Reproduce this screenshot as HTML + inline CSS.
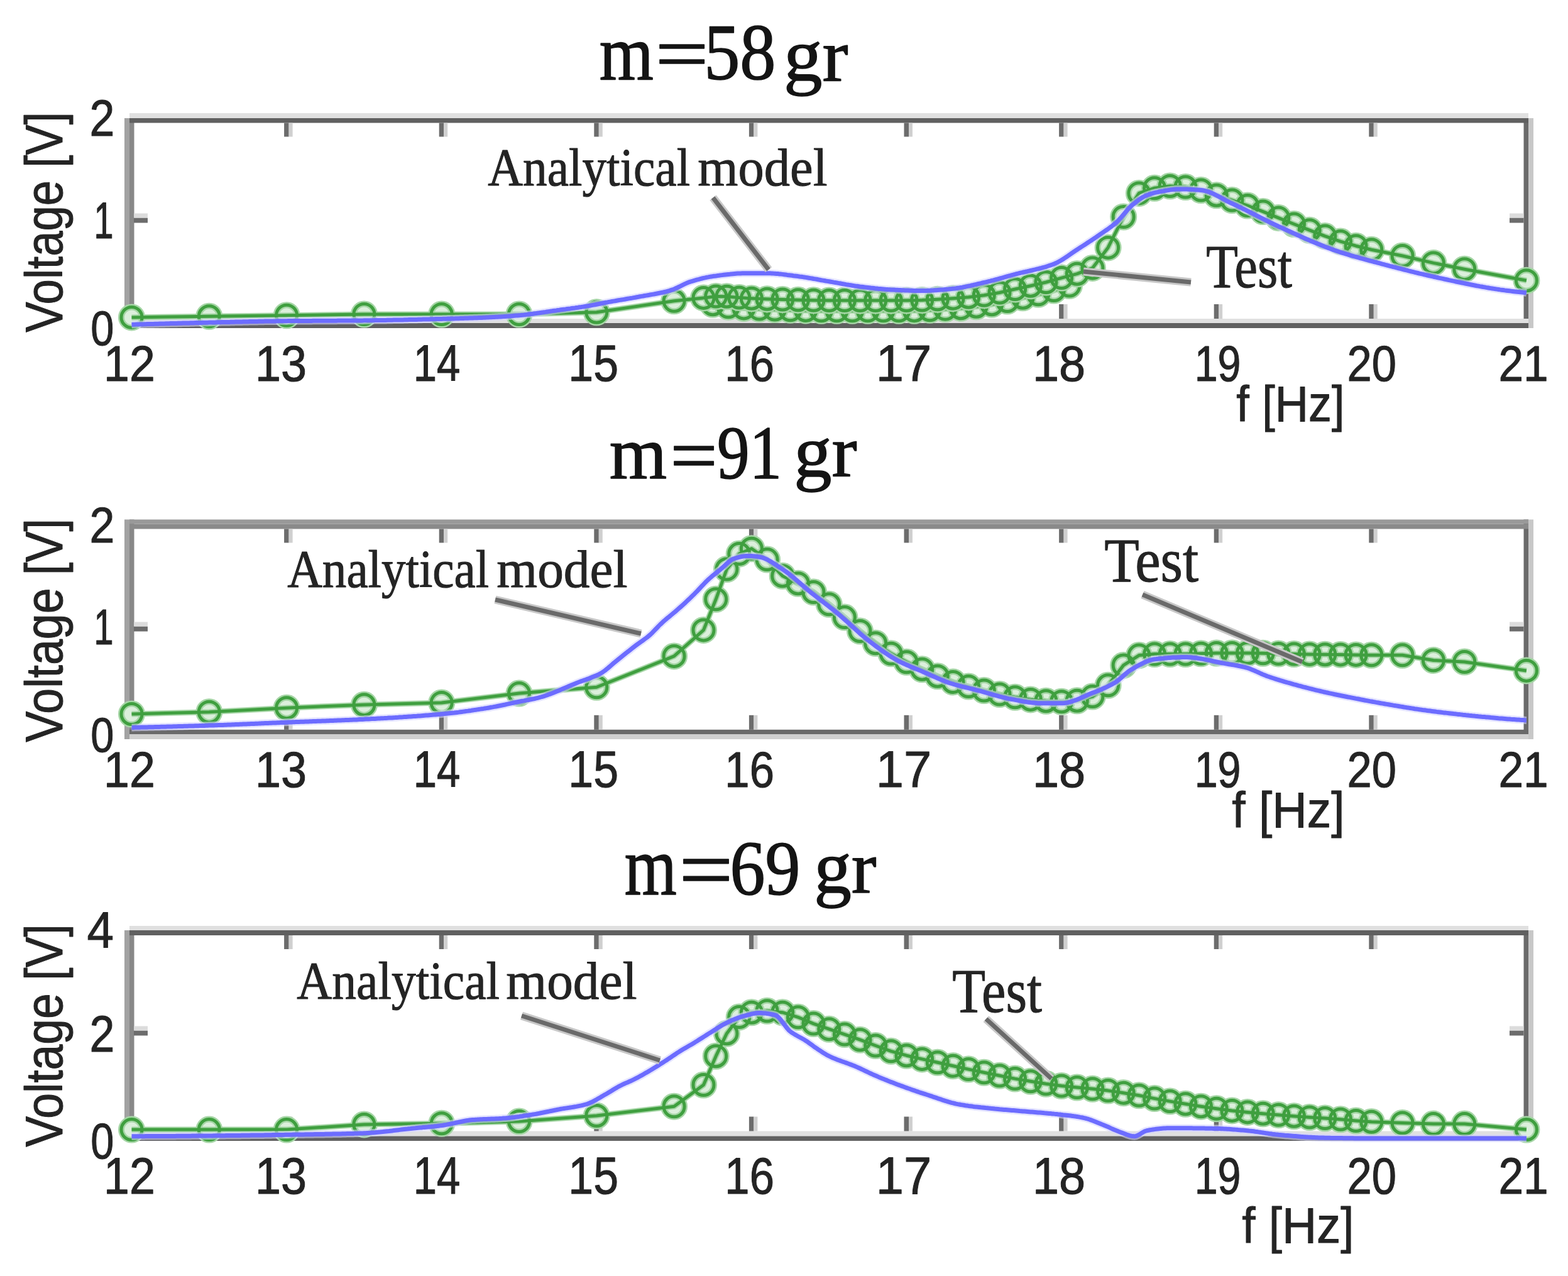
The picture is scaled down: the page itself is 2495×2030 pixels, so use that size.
<!DOCTYPE html>
<html><head><meta charset="utf-8"><title>Voltage vs frequency</title>
<style>html,body{margin:0;padding:0;background:#fff;} svg{display:block;}</style></head>
<body>
<svg width="2495" height="2030" viewBox="0 0 2495 2030">
<rect width="2495" height="2030" fill="#ffffff"/>
<rect x="198" y="188" width="8" height="334" fill="#a2a2a2"/>
<rect x="206" y="188" width="7.5" height="334" fill="#888888"/>
<rect x="2424.5" y="188" width="7.5" height="334" fill="#6a6a6a"/>
<rect x="2432" y="188" width="8" height="334" fill="#c8c8c8"/>
<rect x="206" y="180" width="2226" height="8" fill="#e0e0e0"/>
<rect x="206" y="188" width="2226" height="7.5" fill="#606060"/>
<rect x="206" y="507" width="2226" height="7" fill="#e0e0e0"/>
<rect x="206" y="514" width="2226" height="8" fill="#606060"/>
<rect x="452.1" y="195.5" width="7.5" height="22" fill="#6c6c6c"/>
<rect x="459.6" y="195.5" width="6" height="22" fill="#d0d0d0"/>
<rect x="452.1" y="484" width="7.5" height="23" fill="#6c6c6c"/>
<rect x="459.6" y="484" width="6" height="23" fill="#d0d0d0"/>
<rect x="698.7" y="195.5" width="7.5" height="22" fill="#6c6c6c"/>
<rect x="706.2" y="195.5" width="6" height="22" fill="#d0d0d0"/>
<rect x="698.7" y="484" width="7.5" height="23" fill="#6c6c6c"/>
<rect x="706.2" y="484" width="6" height="23" fill="#d0d0d0"/>
<rect x="945.3" y="195.5" width="7.5" height="22" fill="#6c6c6c"/>
<rect x="952.8" y="195.5" width="6" height="22" fill="#d0d0d0"/>
<rect x="945.3" y="484" width="7.5" height="23" fill="#6c6c6c"/>
<rect x="952.8" y="484" width="6" height="23" fill="#d0d0d0"/>
<rect x="1191.9" y="195.5" width="7.5" height="22" fill="#6c6c6c"/>
<rect x="1199.4" y="195.5" width="6" height="22" fill="#d0d0d0"/>
<rect x="1191.9" y="484" width="7.5" height="23" fill="#6c6c6c"/>
<rect x="1199.4" y="484" width="6" height="23" fill="#d0d0d0"/>
<rect x="1438.5" y="195.5" width="7.5" height="22" fill="#6c6c6c"/>
<rect x="1446.0" y="195.5" width="6" height="22" fill="#d0d0d0"/>
<rect x="1438.5" y="484" width="7.5" height="23" fill="#6c6c6c"/>
<rect x="1446.0" y="484" width="6" height="23" fill="#d0d0d0"/>
<rect x="1685.1" y="195.5" width="7.5" height="22" fill="#6c6c6c"/>
<rect x="1692.6" y="195.5" width="6" height="22" fill="#d0d0d0"/>
<rect x="1685.1" y="484" width="7.5" height="23" fill="#6c6c6c"/>
<rect x="1692.6" y="484" width="6" height="23" fill="#d0d0d0"/>
<rect x="1931.7" y="195.5" width="7.5" height="22" fill="#6c6c6c"/>
<rect x="1939.2" y="195.5" width="6" height="22" fill="#d0d0d0"/>
<rect x="1931.7" y="484" width="7.5" height="23" fill="#6c6c6c"/>
<rect x="1939.2" y="484" width="6" height="23" fill="#d0d0d0"/>
<rect x="2178.3" y="195.5" width="7.5" height="22" fill="#6c6c6c"/>
<rect x="2185.8" y="195.5" width="6" height="22" fill="#d0d0d0"/>
<rect x="2178.3" y="484" width="7.5" height="23" fill="#6c6c6c"/>
<rect x="2185.8" y="484" width="6" height="23" fill="#d0d0d0"/>
<rect x="213" y="346.5" width="22" height="8" fill="#6c6c6c"/>
<rect x="213" y="339.5" width="22" height="7" fill="#dcdcdc"/>
<rect x="2402" y="346.5" width="22.5" height="8" fill="#6c6c6c"/>
<rect x="2402" y="339.5" width="22.5" height="7" fill="#dcdcdc"/>
<rect x="198" y="826.5" width="8" height="349.5" fill="#a2a2a2"/>
<rect x="206" y="826.5" width="7.5" height="349.5" fill="#888888"/>
<rect x="2424.5" y="826.5" width="7.5" height="349.5" fill="#6a6a6a"/>
<rect x="2432" y="826.5" width="8" height="349.5" fill="#c8c8c8"/>
<rect x="206" y="826.5" width="2226" height="7.0" fill="#999999"/>
<rect x="206" y="833.5" width="2226" height="8.0" fill="#8a8a8a"/>
<rect x="206" y="1160.8" width="2226" height="7.2000000000000455" fill="#6a6a6a"/>
<rect x="206" y="1168" width="2226" height="8" fill="#d0d0d0"/>
<rect x="452.1" y="841.5" width="7.5" height="22" fill="#6c6c6c"/>
<rect x="459.6" y="841.5" width="6" height="22" fill="#d0d0d0"/>
<rect x="452.1" y="1137.8" width="7.5" height="23" fill="#6c6c6c"/>
<rect x="459.6" y="1137.8" width="6" height="23" fill="#d0d0d0"/>
<rect x="698.7" y="841.5" width="7.5" height="22" fill="#6c6c6c"/>
<rect x="706.2" y="841.5" width="6" height="22" fill="#d0d0d0"/>
<rect x="698.7" y="1137.8" width="7.5" height="23" fill="#6c6c6c"/>
<rect x="706.2" y="1137.8" width="6" height="23" fill="#d0d0d0"/>
<rect x="945.3" y="841.5" width="7.5" height="22" fill="#6c6c6c"/>
<rect x="952.8" y="841.5" width="6" height="22" fill="#d0d0d0"/>
<rect x="945.3" y="1137.8" width="7.5" height="23" fill="#6c6c6c"/>
<rect x="952.8" y="1137.8" width="6" height="23" fill="#d0d0d0"/>
<rect x="1191.9" y="841.5" width="7.5" height="22" fill="#6c6c6c"/>
<rect x="1199.4" y="841.5" width="6" height="22" fill="#d0d0d0"/>
<rect x="1191.9" y="1137.8" width="7.5" height="23" fill="#6c6c6c"/>
<rect x="1199.4" y="1137.8" width="6" height="23" fill="#d0d0d0"/>
<rect x="1438.5" y="841.5" width="7.5" height="22" fill="#6c6c6c"/>
<rect x="1446.0" y="841.5" width="6" height="22" fill="#d0d0d0"/>
<rect x="1438.5" y="1137.8" width="7.5" height="23" fill="#6c6c6c"/>
<rect x="1446.0" y="1137.8" width="6" height="23" fill="#d0d0d0"/>
<rect x="1685.1" y="841.5" width="7.5" height="22" fill="#6c6c6c"/>
<rect x="1692.6" y="841.5" width="6" height="22" fill="#d0d0d0"/>
<rect x="1685.1" y="1137.8" width="7.5" height="23" fill="#6c6c6c"/>
<rect x="1692.6" y="1137.8" width="6" height="23" fill="#d0d0d0"/>
<rect x="1931.7" y="841.5" width="7.5" height="22" fill="#6c6c6c"/>
<rect x="1939.2" y="841.5" width="6" height="22" fill="#d0d0d0"/>
<rect x="1931.7" y="1137.8" width="7.5" height="23" fill="#6c6c6c"/>
<rect x="1939.2" y="1137.8" width="6" height="23" fill="#d0d0d0"/>
<rect x="2178.3" y="841.5" width="7.5" height="22" fill="#6c6c6c"/>
<rect x="2185.8" y="841.5" width="6" height="22" fill="#d0d0d0"/>
<rect x="2178.3" y="1137.8" width="7.5" height="23" fill="#6c6c6c"/>
<rect x="2185.8" y="1137.8" width="6" height="23" fill="#d0d0d0"/>
<rect x="213" y="996.5" width="22" height="8" fill="#6c6c6c"/>
<rect x="213" y="989.5" width="22" height="7" fill="#dcdcdc"/>
<rect x="2402" y="996.5" width="22.5" height="8" fill="#6c6c6c"/>
<rect x="2402" y="989.5" width="22.5" height="7" fill="#dcdcdc"/>
<rect x="198" y="1480" width="8" height="335" fill="#a2a2a2"/>
<rect x="206" y="1480" width="7.5" height="335" fill="#888888"/>
<rect x="2424.5" y="1480" width="7.5" height="335" fill="#6a6a6a"/>
<rect x="2432" y="1480" width="8" height="335" fill="#c8c8c8"/>
<rect x="206" y="1473" width="2226" height="7" fill="#e0e0e0"/>
<rect x="206" y="1480" width="2226" height="8" fill="#606060"/>
<rect x="206" y="1799.5" width="2226" height="8.0" fill="#e0e0e0"/>
<rect x="206" y="1807.5" width="2226" height="7.5" fill="#606060"/>
<rect x="452.1" y="1488" width="7.5" height="22" fill="#6c6c6c"/>
<rect x="459.6" y="1488" width="6" height="22" fill="#d0d0d0"/>
<rect x="452.1" y="1776.5" width="7.5" height="23" fill="#6c6c6c"/>
<rect x="459.6" y="1776.5" width="6" height="23" fill="#d0d0d0"/>
<rect x="698.7" y="1488" width="7.5" height="22" fill="#6c6c6c"/>
<rect x="706.2" y="1488" width="6" height="22" fill="#d0d0d0"/>
<rect x="698.7" y="1776.5" width="7.5" height="23" fill="#6c6c6c"/>
<rect x="706.2" y="1776.5" width="6" height="23" fill="#d0d0d0"/>
<rect x="945.3" y="1488" width="7.5" height="22" fill="#6c6c6c"/>
<rect x="952.8" y="1488" width="6" height="22" fill="#d0d0d0"/>
<rect x="945.3" y="1776.5" width="7.5" height="23" fill="#6c6c6c"/>
<rect x="952.8" y="1776.5" width="6" height="23" fill="#d0d0d0"/>
<rect x="1191.9" y="1488" width="7.5" height="22" fill="#6c6c6c"/>
<rect x="1199.4" y="1488" width="6" height="22" fill="#d0d0d0"/>
<rect x="1191.9" y="1776.5" width="7.5" height="23" fill="#6c6c6c"/>
<rect x="1199.4" y="1776.5" width="6" height="23" fill="#d0d0d0"/>
<rect x="1438.5" y="1488" width="7.5" height="22" fill="#6c6c6c"/>
<rect x="1446.0" y="1488" width="6" height="22" fill="#d0d0d0"/>
<rect x="1438.5" y="1776.5" width="7.5" height="23" fill="#6c6c6c"/>
<rect x="1446.0" y="1776.5" width="6" height="23" fill="#d0d0d0"/>
<rect x="1685.1" y="1488" width="7.5" height="22" fill="#6c6c6c"/>
<rect x="1692.6" y="1488" width="6" height="22" fill="#d0d0d0"/>
<rect x="1685.1" y="1776.5" width="7.5" height="23" fill="#6c6c6c"/>
<rect x="1692.6" y="1776.5" width="6" height="23" fill="#d0d0d0"/>
<rect x="1931.7" y="1488" width="7.5" height="22" fill="#6c6c6c"/>
<rect x="1939.2" y="1488" width="6" height="22" fill="#d0d0d0"/>
<rect x="1931.7" y="1776.5" width="7.5" height="23" fill="#6c6c6c"/>
<rect x="1939.2" y="1776.5" width="6" height="23" fill="#d0d0d0"/>
<rect x="2178.3" y="1488" width="7.5" height="22" fill="#6c6c6c"/>
<rect x="2185.8" y="1488" width="6" height="22" fill="#d0d0d0"/>
<rect x="2178.3" y="1776.5" width="7.5" height="23" fill="#6c6c6c"/>
<rect x="2185.8" y="1776.5" width="6" height="23" fill="#d0d0d0"/>
<rect x="213" y="1639.5" width="22" height="8" fill="#6c6c6c"/>
<rect x="213" y="1632.5" width="22" height="7" fill="#dcdcdc"/>
<rect x="2402" y="1639.5" width="22.5" height="8" fill="#6c6c6c"/>
<rect x="2402" y="1632.5" width="22.5" height="7" fill="#dcdcdc"/>
<g fill="#dcefdc" stroke="none"><circle cx="1134.2" cy="484.2" r="16.5"/><circle cx="1158.9" cy="488.3" r="16.5"/><circle cx="1183.6" cy="490.4" r="16.5"/><circle cx="1208.2" cy="491.5" r="16.5"/><circle cx="1232.9" cy="492.5" r="16.5"/><circle cx="1257.5" cy="493.3" r="16.5"/><circle cx="1282.2" cy="493.9" r="16.5"/><circle cx="1306.9" cy="494.3" r="16.5"/><circle cx="1331.5" cy="494.3" r="16.5"/><circle cx="1356.2" cy="494.3" r="16.5"/><circle cx="1380.8" cy="494.3" r="16.5"/><circle cx="1405.5" cy="494.3" r="16.5"/><circle cx="1430.2" cy="494.3" r="16.5"/><circle cx="1454.8" cy="494.2" r="16.5"/><circle cx="1479.5" cy="493.3" r="16.5"/><circle cx="1504.1" cy="491.8" r="16.5"/><circle cx="1528.8" cy="490.2" r="16.5"/><circle cx="1553.5" cy="487.7" r="16.5"/><circle cx="1578.1" cy="484.2" r="16.5"/><circle cx="1602.8" cy="479.1" r="16.5"/><circle cx="1627.5" cy="473.7" r="16.5"/><circle cx="1652.1" cy="468.3" r="16.5"/><circle cx="1676.8" cy="462.1" r="16.5"/><circle cx="1701.4" cy="454.5" r="16.5"/></g>
<path d="M1134.2,484.2 L1158.9,488.3 L1183.6,490.4 L1208.2,491.5 L1232.9,492.5 L1257.5,493.3 L1282.2,493.9 L1306.9,494.3 L1331.5,494.3 L1356.2,494.3 L1380.8,494.3 L1405.5,494.3 L1430.2,494.3 L1454.8,494.2 L1479.5,493.3 L1504.1,491.8 L1528.8,490.2 L1553.5,487.7 L1578.1,484.2 L1602.8,479.1 L1627.5,473.7 L1652.1,468.3 L1676.8,462.1 L1701.4,454.5" fill="none" stroke="#a6d6a6" stroke-width="9" stroke-linejoin="round"/>
<g fill="none" stroke="#a6d6a6" stroke-width="10"><circle cx="1134.2" cy="484.2" r="16.5"/><circle cx="1158.9" cy="488.3" r="16.5"/><circle cx="1183.6" cy="490.4" r="16.5"/><circle cx="1208.2" cy="491.5" r="16.5"/><circle cx="1232.9" cy="492.5" r="16.5"/><circle cx="1257.5" cy="493.3" r="16.5"/><circle cx="1282.2" cy="493.9" r="16.5"/><circle cx="1306.9" cy="494.3" r="16.5"/><circle cx="1331.5" cy="494.3" r="16.5"/><circle cx="1356.2" cy="494.3" r="16.5"/><circle cx="1380.8" cy="494.3" r="16.5"/><circle cx="1405.5" cy="494.3" r="16.5"/><circle cx="1430.2" cy="494.3" r="16.5"/><circle cx="1454.8" cy="494.2" r="16.5"/><circle cx="1479.5" cy="493.3" r="16.5"/><circle cx="1504.1" cy="491.8" r="16.5"/><circle cx="1528.8" cy="490.2" r="16.5"/><circle cx="1553.5" cy="487.7" r="16.5"/><circle cx="1578.1" cy="484.2" r="16.5"/><circle cx="1602.8" cy="479.1" r="16.5"/><circle cx="1627.5" cy="473.7" r="16.5"/><circle cx="1652.1" cy="468.3" r="16.5"/><circle cx="1676.8" cy="462.1" r="16.5"/><circle cx="1701.4" cy="454.5" r="16.5"/></g>
<path d="M1134.2,484.2 L1158.9,488.3 L1183.6,490.4 L1208.2,491.5 L1232.9,492.5 L1257.5,493.3 L1282.2,493.9 L1306.9,494.3 L1331.5,494.3 L1356.2,494.3 L1380.8,494.3 L1405.5,494.3 L1430.2,494.3 L1454.8,494.2 L1479.5,493.3 L1504.1,491.8 L1528.8,490.2 L1553.5,487.7 L1578.1,484.2 L1602.8,479.1 L1627.5,473.7 L1652.1,468.3 L1676.8,462.1 L1701.4,454.5" fill="none" stroke="#3f9f3f" stroke-width="5" stroke-linejoin="round"/>
<g fill="none" stroke="#3f9f3f" stroke-width="5"><circle cx="1134.2" cy="484.2" r="16.5"/><circle cx="1158.9" cy="488.3" r="16.5"/><circle cx="1183.6" cy="490.4" r="16.5"/><circle cx="1208.2" cy="491.5" r="16.5"/><circle cx="1232.9" cy="492.5" r="16.5"/><circle cx="1257.5" cy="493.3" r="16.5"/><circle cx="1282.2" cy="493.9" r="16.5"/><circle cx="1306.9" cy="494.3" r="16.5"/><circle cx="1331.5" cy="494.3" r="16.5"/><circle cx="1356.2" cy="494.3" r="16.5"/><circle cx="1380.8" cy="494.3" r="16.5"/><circle cx="1405.5" cy="494.3" r="16.5"/><circle cx="1430.2" cy="494.3" r="16.5"/><circle cx="1454.8" cy="494.2" r="16.5"/><circle cx="1479.5" cy="493.3" r="16.5"/><circle cx="1504.1" cy="491.8" r="16.5"/><circle cx="1528.8" cy="490.2" r="16.5"/><circle cx="1553.5" cy="487.7" r="16.5"/><circle cx="1578.1" cy="484.2" r="16.5"/><circle cx="1602.8" cy="479.1" r="16.5"/><circle cx="1627.5" cy="473.7" r="16.5"/><circle cx="1652.1" cy="468.3" r="16.5"/><circle cx="1676.8" cy="462.1" r="16.5"/><circle cx="1701.4" cy="454.5" r="16.5"/></g>
<g fill="#dcefdc" stroke="none"><circle cx="209.5" cy="504.9" r="16.5"/><circle cx="332.8" cy="503.3" r="16.5"/><circle cx="456.1" cy="501.7" r="16.5"/><circle cx="579.4" cy="500.0" r="16.5"/><circle cx="702.7" cy="500.0" r="16.5"/><circle cx="826.0" cy="500.0" r="16.5"/><circle cx="949.3" cy="496.8" r="16.5"/><circle cx="1072.6" cy="478.8" r="16.5"/><circle cx="1119.5" cy="473.9" r="16.5"/><circle cx="1139.2" cy="471.5" r="16.5"/><circle cx="1156.4" cy="471.7" r="16.5"/><circle cx="1176.2" cy="473.5" r="16.5"/><circle cx="1195.9" cy="474.7" r="16.5"/><circle cx="1220.6" cy="475.7" r="16.5"/><circle cx="1245.2" cy="476.6" r="16.5"/><circle cx="1269.9" cy="477.3" r="16.5"/><circle cx="1294.5" cy="477.8" r="16.5"/><circle cx="1319.2" cy="478.0" r="16.5"/><circle cx="1343.9" cy="478.0" r="16.5"/><circle cx="1368.5" cy="478.0" r="16.5"/><circle cx="1393.2" cy="478.0" r="16.5"/><circle cx="1417.8" cy="478.0" r="16.5"/><circle cx="1442.5" cy="478.0" r="16.5"/><circle cx="1467.2" cy="477.5" r="16.5"/><circle cx="1491.8" cy="476.3" r="16.5"/><circle cx="1516.5" cy="474.7" r="16.5"/><circle cx="1541.1" cy="472.7" r="16.5"/><circle cx="1565.8" cy="469.8" r="16.5"/><circle cx="1590.5" cy="465.5" r="16.5"/><circle cx="1615.1" cy="460.0" r="16.5"/><circle cx="1639.8" cy="454.7" r="16.5"/><circle cx="1664.4" cy="449.0" r="16.5"/><circle cx="1689.1" cy="442.1" r="16.5"/><circle cx="1713.8" cy="435.7" r="16.5"/><circle cx="1738.4" cy="426.4" r="16.5"/><circle cx="1763.1" cy="393.9" r="16.5"/><circle cx="1787.7" cy="345.0" r="16.5"/><circle cx="1812.4" cy="307.4" r="16.5"/><circle cx="1837.1" cy="299.2" r="16.5"/><circle cx="1861.7" cy="296.0" r="16.5"/><circle cx="1886.4" cy="297.6" r="16.5"/><circle cx="1911.0" cy="302.5" r="16.5"/><circle cx="1935.7" cy="310.7" r="16.5"/><circle cx="1960.4" cy="318.6" r="16.5"/><circle cx="1985.0" cy="327.0" r="16.5"/><circle cx="2009.7" cy="336.6" r="16.5"/><circle cx="2034.3" cy="346.6" r="16.5"/><circle cx="2059.0" cy="356.5" r="16.5"/><circle cx="2083.7" cy="366.2" r="16.5"/><circle cx="2108.3" cy="375.6" r="16.5"/><circle cx="2133.0" cy="384.1" r="16.5"/><circle cx="2157.6" cy="391.2" r="16.5"/><circle cx="2182.3" cy="397.2" r="16.5"/><circle cx="2231.6" cy="407.0" r="16.5"/><circle cx="2280.9" cy="418.4" r="16.5"/><circle cx="2330.3" cy="428.2" r="16.5"/><circle cx="2428.9" cy="446.2" r="16.5"/></g>
<path d="M209.5,504.9 L332.8,503.3 L456.1,501.7 L579.4,500.0 L702.7,500.0 L826.0,500.0 L949.3,496.8 L1072.6,478.8 L1119.5,473.9 L1139.2,471.5 L1156.4,471.7 L1176.2,473.5 L1195.9,474.7 L1220.6,475.7 L1245.2,476.6 L1269.9,477.3 L1294.5,477.8 L1319.2,478.0 L1343.9,478.0 L1368.5,478.0 L1393.2,478.0 L1417.8,478.0 L1442.5,478.0 L1467.2,477.5 L1491.8,476.3 L1516.5,474.7 L1541.1,472.7 L1565.8,469.8 L1590.5,465.5 L1615.1,460.0 L1639.8,454.7 L1664.4,449.0 L1689.1,442.1 L1713.8,435.7 L1738.4,426.4 L1763.1,393.9 L1787.7,345.0 L1812.4,307.4 L1837.1,299.2 L1861.7,296.0 L1886.4,297.6 L1911.0,302.5 L1935.7,310.7 L1960.4,318.6 L1985.0,327.0 L2009.7,336.6 L2034.3,346.6 L2059.0,356.5 L2083.7,366.2 L2108.3,375.6 L2133.0,384.1 L2157.6,391.2 L2182.3,397.2 L2231.6,407.0 L2280.9,418.4 L2330.3,428.2 L2428.9,446.2" fill="none" stroke="#a6d6a6" stroke-width="9" stroke-linejoin="round"/>
<g fill="none" stroke="#a6d6a6" stroke-width="10"><circle cx="209.5" cy="504.9" r="16.5"/><circle cx="332.8" cy="503.3" r="16.5"/><circle cx="456.1" cy="501.7" r="16.5"/><circle cx="579.4" cy="500.0" r="16.5"/><circle cx="702.7" cy="500.0" r="16.5"/><circle cx="826.0" cy="500.0" r="16.5"/><circle cx="949.3" cy="496.8" r="16.5"/><circle cx="1072.6" cy="478.8" r="16.5"/><circle cx="1119.5" cy="473.9" r="16.5"/><circle cx="1139.2" cy="471.5" r="16.5"/><circle cx="1156.4" cy="471.7" r="16.5"/><circle cx="1176.2" cy="473.5" r="16.5"/><circle cx="1195.9" cy="474.7" r="16.5"/><circle cx="1220.6" cy="475.7" r="16.5"/><circle cx="1245.2" cy="476.6" r="16.5"/><circle cx="1269.9" cy="477.3" r="16.5"/><circle cx="1294.5" cy="477.8" r="16.5"/><circle cx="1319.2" cy="478.0" r="16.5"/><circle cx="1343.9" cy="478.0" r="16.5"/><circle cx="1368.5" cy="478.0" r="16.5"/><circle cx="1393.2" cy="478.0" r="16.5"/><circle cx="1417.8" cy="478.0" r="16.5"/><circle cx="1442.5" cy="478.0" r="16.5"/><circle cx="1467.2" cy="477.5" r="16.5"/><circle cx="1491.8" cy="476.3" r="16.5"/><circle cx="1516.5" cy="474.7" r="16.5"/><circle cx="1541.1" cy="472.7" r="16.5"/><circle cx="1565.8" cy="469.8" r="16.5"/><circle cx="1590.5" cy="465.5" r="16.5"/><circle cx="1615.1" cy="460.0" r="16.5"/><circle cx="1639.8" cy="454.7" r="16.5"/><circle cx="1664.4" cy="449.0" r="16.5"/><circle cx="1689.1" cy="442.1" r="16.5"/><circle cx="1713.8" cy="435.7" r="16.5"/><circle cx="1738.4" cy="426.4" r="16.5"/><circle cx="1763.1" cy="393.9" r="16.5"/><circle cx="1787.7" cy="345.0" r="16.5"/><circle cx="1812.4" cy="307.4" r="16.5"/><circle cx="1837.1" cy="299.2" r="16.5"/><circle cx="1861.7" cy="296.0" r="16.5"/><circle cx="1886.4" cy="297.6" r="16.5"/><circle cx="1911.0" cy="302.5" r="16.5"/><circle cx="1935.7" cy="310.7" r="16.5"/><circle cx="1960.4" cy="318.6" r="16.5"/><circle cx="1985.0" cy="327.0" r="16.5"/><circle cx="2009.7" cy="336.6" r="16.5"/><circle cx="2034.3" cy="346.6" r="16.5"/><circle cx="2059.0" cy="356.5" r="16.5"/><circle cx="2083.7" cy="366.2" r="16.5"/><circle cx="2108.3" cy="375.6" r="16.5"/><circle cx="2133.0" cy="384.1" r="16.5"/><circle cx="2157.6" cy="391.2" r="16.5"/><circle cx="2182.3" cy="397.2" r="16.5"/><circle cx="2231.6" cy="407.0" r="16.5"/><circle cx="2280.9" cy="418.4" r="16.5"/><circle cx="2330.3" cy="428.2" r="16.5"/><circle cx="2428.9" cy="446.2" r="16.5"/></g>
<path d="M209.5,504.9 L332.8,503.3 L456.1,501.7 L579.4,500.0 L702.7,500.0 L826.0,500.0 L949.3,496.8 L1072.6,478.8 L1119.5,473.9 L1139.2,471.5 L1156.4,471.7 L1176.2,473.5 L1195.9,474.7 L1220.6,475.7 L1245.2,476.6 L1269.9,477.3 L1294.5,477.8 L1319.2,478.0 L1343.9,478.0 L1368.5,478.0 L1393.2,478.0 L1417.8,478.0 L1442.5,478.0 L1467.2,477.5 L1491.8,476.3 L1516.5,474.7 L1541.1,472.7 L1565.8,469.8 L1590.5,465.5 L1615.1,460.0 L1639.8,454.7 L1664.4,449.0 L1689.1,442.1 L1713.8,435.7 L1738.4,426.4 L1763.1,393.9 L1787.7,345.0 L1812.4,307.4 L1837.1,299.2 L1861.7,296.0 L1886.4,297.6 L1911.0,302.5 L1935.7,310.7 L1960.4,318.6 L1985.0,327.0 L2009.7,336.6 L2034.3,346.6 L2059.0,356.5 L2083.7,366.2 L2108.3,375.6 L2133.0,384.1 L2157.6,391.2 L2182.3,397.2 L2231.6,407.0 L2280.9,418.4 L2330.3,428.2 L2428.9,446.2" fill="none" stroke="#3f9f3f" stroke-width="5" stroke-linejoin="round"/>
<g fill="none" stroke="#3f9f3f" stroke-width="5"><circle cx="209.5" cy="504.9" r="16.5"/><circle cx="332.8" cy="503.3" r="16.5"/><circle cx="456.1" cy="501.7" r="16.5"/><circle cx="579.4" cy="500.0" r="16.5"/><circle cx="702.7" cy="500.0" r="16.5"/><circle cx="826.0" cy="500.0" r="16.5"/><circle cx="949.3" cy="496.8" r="16.5"/><circle cx="1072.6" cy="478.8" r="16.5"/><circle cx="1119.5" cy="473.9" r="16.5"/><circle cx="1139.2" cy="471.5" r="16.5"/><circle cx="1156.4" cy="471.7" r="16.5"/><circle cx="1176.2" cy="473.5" r="16.5"/><circle cx="1195.9" cy="474.7" r="16.5"/><circle cx="1220.6" cy="475.7" r="16.5"/><circle cx="1245.2" cy="476.6" r="16.5"/><circle cx="1269.9" cy="477.3" r="16.5"/><circle cx="1294.5" cy="477.8" r="16.5"/><circle cx="1319.2" cy="478.0" r="16.5"/><circle cx="1343.9" cy="478.0" r="16.5"/><circle cx="1368.5" cy="478.0" r="16.5"/><circle cx="1393.2" cy="478.0" r="16.5"/><circle cx="1417.8" cy="478.0" r="16.5"/><circle cx="1442.5" cy="478.0" r="16.5"/><circle cx="1467.2" cy="477.5" r="16.5"/><circle cx="1491.8" cy="476.3" r="16.5"/><circle cx="1516.5" cy="474.7" r="16.5"/><circle cx="1541.1" cy="472.7" r="16.5"/><circle cx="1565.8" cy="469.8" r="16.5"/><circle cx="1590.5" cy="465.5" r="16.5"/><circle cx="1615.1" cy="460.0" r="16.5"/><circle cx="1639.8" cy="454.7" r="16.5"/><circle cx="1664.4" cy="449.0" r="16.5"/><circle cx="1689.1" cy="442.1" r="16.5"/><circle cx="1713.8" cy="435.7" r="16.5"/><circle cx="1738.4" cy="426.4" r="16.5"/><circle cx="1763.1" cy="393.9" r="16.5"/><circle cx="1787.7" cy="345.0" r="16.5"/><circle cx="1812.4" cy="307.4" r="16.5"/><circle cx="1837.1" cy="299.2" r="16.5"/><circle cx="1861.7" cy="296.0" r="16.5"/><circle cx="1886.4" cy="297.6" r="16.5"/><circle cx="1911.0" cy="302.5" r="16.5"/><circle cx="1935.7" cy="310.7" r="16.5"/><circle cx="1960.4" cy="318.6" r="16.5"/><circle cx="1985.0" cy="327.0" r="16.5"/><circle cx="2009.7" cy="336.6" r="16.5"/><circle cx="2034.3" cy="346.6" r="16.5"/><circle cx="2059.0" cy="356.5" r="16.5"/><circle cx="2083.7" cy="366.2" r="16.5"/><circle cx="2108.3" cy="375.6" r="16.5"/><circle cx="2133.0" cy="384.1" r="16.5"/><circle cx="2157.6" cy="391.2" r="16.5"/><circle cx="2182.3" cy="397.2" r="16.5"/><circle cx="2231.6" cy="407.0" r="16.5"/><circle cx="2280.9" cy="418.4" r="16.5"/><circle cx="2330.3" cy="428.2" r="16.5"/><circle cx="2428.9" cy="446.2" r="16.5"/></g>
<path d="M209.5,516.4 L212.0,516.3 L214.4,516.2 L216.9,516.1 L219.4,516.1 L221.8,516.0 L224.3,515.9 L226.8,515.9 L229.2,515.8 L231.7,515.7 L234.2,515.6 L236.6,515.6 L239.1,515.5 L241.6,515.4 L244.0,515.4 L246.5,515.3 L249.0,515.2 L251.4,515.2 L253.9,515.1 L256.4,515.0 L258.8,515.0 L261.3,514.9 L263.8,514.8 L266.2,514.8 L268.7,514.7 L271.1,514.6 L273.6,514.6 L276.1,514.5 L278.5,514.4 L281.0,514.4 L283.5,514.3 L285.9,514.2 L288.4,514.2 L290.9,514.1 L293.3,514.0 L295.8,514.0 L298.3,513.9 L300.7,513.9 L303.2,513.8 L305.7,513.7 L308.1,513.7 L310.6,513.6 L313.1,513.6 L315.5,513.5 L318.0,513.4 L320.5,513.4 L322.9,513.3 L325.4,513.3 L327.9,513.2 L330.3,513.2 L332.8,513.1 L335.3,513.0 L337.7,513.0 L340.2,512.9 L342.7,512.9 L345.1,512.8 L347.6,512.8 L350.1,512.7 L352.5,512.6 L355.0,512.6 L357.5,512.5 L359.9,512.5 L362.4,512.4 L364.9,512.4 L367.3,512.3 L369.8,512.2 L372.3,512.2 L374.7,512.1 L377.2,512.1 L379.7,512.0 L382.1,512.0 L384.6,511.9 L387.1,511.8 L389.5,511.8 L392.0,511.7 L394.4,511.7 L396.9,511.6 L399.4,511.6 L401.8,511.5 L404.3,511.5 L406.8,511.4 L409.2,511.4 L411.7,511.3 L414.2,511.3 L416.6,511.2 L419.1,511.2 L421.6,511.1 L424.0,511.1 L426.5,511.1 L429.0,511.0 L431.4,511.0 L433.9,510.9 L436.4,510.9 L438.8,510.9 L441.3,510.8 L443.8,510.8 L446.2,510.8 L448.7,510.7 L451.2,510.7 L453.6,510.7 L456.1,510.7 L458.6,510.6 L461.0,510.6 L463.5,510.6 L466.0,510.6 L468.4,510.5 L470.9,510.5 L473.4,510.5 L475.8,510.5 L478.3,510.5 L480.8,510.5 L483.2,510.4 L485.7,510.4 L488.2,510.4 L490.6,510.4 L493.1,510.4 L495.6,510.4 L498.0,510.3 L500.5,510.3 L503.0,510.3 L505.4,510.3 L507.9,510.3 L510.4,510.3 L512.8,510.3 L515.3,510.3 L517.8,510.2 L520.2,510.2 L522.7,510.2 L525.1,510.2 L527.6,510.2 L530.1,510.2 L532.5,510.2 L535.0,510.2 L537.5,510.1 L539.9,510.1 L542.4,510.1 L544.9,510.1 L547.3,510.1 L549.8,510.1 L552.3,510.1 L554.7,510.0 L557.2,510.0 L559.7,510.0 L562.1,510.0 L564.6,510.0 L567.1,509.9 L569.5,509.9 L572.0,509.9 L574.5,509.9 L576.9,509.9 L579.4,509.8 L581.9,509.8 L584.3,509.8 L586.8,509.8 L589.3,509.7 L591.7,509.7 L594.2,509.7 L596.7,509.6 L599.1,509.6 L601.6,509.6 L604.1,509.5 L606.5,509.5 L609.0,509.4 L611.5,509.4 L613.9,509.4 L616.4,509.3 L618.9,509.3 L621.3,509.2 L623.8,509.2 L626.3,509.1 L628.7,509.1 L631.2,509.1 L633.7,509.0 L636.1,509.0 L638.6,508.9 L641.0,508.9 L643.5,508.8 L646.0,508.7 L648.4,508.7 L650.9,508.6 L653.4,508.6 L655.8,508.5 L658.3,508.5 L660.8,508.4 L663.2,508.4 L665.7,508.3 L668.2,508.2 L670.6,508.2 L673.1,508.1 L675.6,508.1 L678.0,508.0 L680.5,507.9 L683.0,507.9 L685.4,507.8 L687.9,507.8 L690.4,507.7 L692.8,507.6 L695.3,507.6 L697.8,507.5 L700.2,507.5 L702.7,507.4 L705.2,507.3 L707.6,507.3 L710.1,507.2 L712.6,507.1 L715.0,507.1 L717.5,507.0 L720.0,506.9 L722.4,506.9 L724.9,506.8 L727.4,506.7 L729.8,506.7 L732.3,506.6 L734.8,506.5 L737.2,506.4 L739.7,506.3 L742.2,506.3 L744.6,506.2 L747.1,506.1 L749.6,506.0 L752.0,505.9 L754.5,505.8 L757.0,505.8 L759.4,505.7 L761.9,505.6 L764.4,505.5 L766.8,505.4 L769.3,505.3 L771.7,505.2 L774.2,505.0 L776.7,504.9 L779.1,504.8 L781.6,504.7 L784.1,504.6 L786.5,504.5 L789.0,504.3 L791.5,504.2 L793.9,504.0 L796.4,503.9 L798.9,503.7 L801.3,503.6 L803.8,503.4 L806.3,503.2 L808.7,503.1 L811.2,502.9 L813.7,502.7 L816.1,502.5 L818.6,502.3 L821.1,502.1 L823.5,501.9 L826.0,501.7 L828.5,501.5 L830.9,501.2 L833.4,501.0 L835.9,500.7 L838.3,500.4 L840.8,500.1 L843.3,499.8 L845.7,499.5 L848.2,499.2 L850.7,498.8 L853.1,498.5 L855.6,498.1 L858.1,497.8 L860.5,497.4 L863.0,497.1 L865.5,496.7 L867.9,496.4 L870.4,496.0 L872.9,495.6 L875.3,495.3 L877.8,494.9 L880.3,494.5 L882.7,494.2 L885.2,493.9 L887.6,493.5 L890.1,493.2 L892.6,492.8 L895.0,492.5 L897.5,492.2 L900.0,491.9 L902.4,491.5 L904.9,491.2 L907.4,490.9 L909.8,490.5 L912.3,490.2 L914.8,489.9 L917.2,489.5 L919.7,489.2 L922.2,488.8 L924.6,488.5 L927.1,488.1 L929.6,487.7 L932.0,487.3 L934.5,486.9 L937.0,486.5 L939.4,486.1 L941.9,485.6 L944.4,485.1 L946.8,484.7 L949.3,484.2 L951.8,483.7 L954.2,483.3 L956.7,482.8 L959.2,482.3 L961.6,481.8 L964.1,481.3 L966.6,480.9 L969.0,480.4 L971.5,480.0 L974.0,479.5 L976.4,479.1 L978.9,478.7 L981.4,478.2 L983.8,477.8 L986.3,477.4 L988.8,477.0 L991.2,476.6 L993.7,476.2 L996.2,475.7 L998.6,475.3 L1001.1,474.9 L1003.6,474.5 L1006.0,474.1 L1008.5,473.6 L1010.9,473.2 L1013.4,472.7 L1015.9,472.3 L1018.3,471.8 L1020.8,471.4 L1023.3,471.0 L1025.7,470.5 L1028.2,470.1 L1030.7,469.7 L1033.1,469.3 L1035.6,468.8 L1038.1,468.4 L1040.5,468.0 L1043.0,467.5 L1045.5,467.0 L1047.9,466.5 L1050.4,466.0 L1052.9,465.5 L1055.3,465.0 L1057.8,464.4 L1060.3,463.8 L1062.7,463.2 L1065.2,462.5 L1067.7,461.7 L1070.1,460.9 L1072.6,459.9 L1075.1,458.8 L1077.5,457.7 L1080.0,456.5 L1082.5,455.3 L1084.9,454.1 L1087.4,452.9 L1089.9,451.7 L1092.3,450.6 L1094.8,449.6 L1097.3,448.6 L1099.7,447.8 L1102.2,447.1 L1104.7,446.3 L1107.1,445.6 L1109.6,444.9 L1112.1,444.3 L1114.5,443.6 L1117.0,443.0 L1119.5,442.4 L1121.9,441.9 L1124.4,441.3 L1126.9,440.9 L1129.3,440.4 L1131.8,440.0 L1134.2,439.6 L1136.7,439.3 L1139.2,439.0 L1141.6,438.6 L1144.1,438.3 L1146.6,437.9 L1149.0,437.6 L1151.5,437.3 L1154.0,437.0 L1156.4,436.7 L1158.9,436.4 L1161.4,436.2 L1163.8,435.9 L1166.3,435.7 L1168.8,435.5 L1171.2,435.3 L1173.7,435.1 L1176.2,435.0 L1178.6,434.9 L1181.1,434.8 L1183.6,434.8 L1186.0,434.7 L1188.5,434.7 L1191.0,434.7 L1193.4,434.7 L1195.9,434.7 L1198.4,434.7 L1200.8,434.7 L1203.3,434.7 L1205.8,434.7 L1208.2,434.7 L1210.7,434.7 L1213.2,434.7 L1215.6,434.7 L1218.1,434.7 L1220.6,434.7 L1223.0,434.8 L1225.5,434.8 L1228.0,434.9 L1230.4,435.1 L1232.9,435.2 L1235.4,435.4 L1237.8,435.6 L1240.3,435.9 L1242.8,436.1 L1245.2,436.4 L1247.7,436.7 L1250.2,437.0 L1252.6,437.4 L1255.1,437.7 L1257.5,438.0 L1260.0,438.3 L1262.5,438.7 L1264.9,439.0 L1267.4,439.3 L1269.9,439.6 L1272.3,440.0 L1274.8,440.3 L1277.3,440.6 L1279.7,441.0 L1282.2,441.4 L1284.7,441.8 L1287.1,442.2 L1289.6,442.6 L1292.1,443.0 L1294.5,443.5 L1297.0,443.9 L1299.5,444.3 L1301.9,444.8 L1304.4,445.2 L1306.9,445.7 L1309.3,446.1 L1311.8,446.5 L1314.3,447.0 L1316.7,447.4 L1319.2,447.8 L1321.7,448.2 L1324.1,448.6 L1326.6,449.1 L1329.1,449.5 L1331.5,449.9 L1334.0,450.4 L1336.5,450.8 L1338.9,451.3 L1341.4,451.7 L1343.9,452.1 L1346.3,452.6 L1348.8,453.0 L1351.3,453.4 L1353.7,453.8 L1356.2,454.2 L1358.7,454.6 L1361.1,455.0 L1363.6,455.3 L1366.1,455.6 L1368.5,456.0 L1371.0,456.3 L1373.5,456.6 L1375.9,456.9 L1378.4,457.2 L1380.8,457.5 L1383.3,457.8 L1385.8,458.1 L1388.2,458.3 L1390.7,458.6 L1393.2,458.9 L1395.6,459.1 L1398.1,459.4 L1400.6,459.6 L1403.0,459.8 L1405.5,460.0 L1408.0,460.2 L1410.4,460.4 L1412.9,460.6 L1415.4,460.7 L1417.8,460.9 L1420.3,461.0 L1422.8,461.1 L1425.2,461.2 L1427.7,461.3 L1430.2,461.5 L1432.6,461.6 L1435.1,461.7 L1437.6,461.8 L1440.0,461.9 L1442.5,462.0 L1445.0,462.1 L1447.4,462.2 L1449.9,462.2 L1452.4,462.3 L1454.8,462.4 L1457.3,462.4 L1459.8,462.4 L1462.2,462.5 L1464.7,462.5 L1467.2,462.5 L1469.6,462.5 L1472.1,462.4 L1474.6,462.4 L1477.0,462.3 L1479.5,462.2 L1482.0,462.1 L1484.4,462.0 L1486.9,461.8 L1489.4,461.7 L1491.8,461.5 L1494.3,461.3 L1496.8,461.1 L1499.2,460.9 L1501.7,460.7 L1504.1,460.4 L1506.6,460.2 L1509.1,460.0 L1511.5,459.7 L1514.0,459.5 L1516.5,459.2 L1518.9,459.0 L1521.4,458.7 L1523.9,458.3 L1526.3,457.9 L1528.8,457.5 L1531.3,457.1 L1533.7,456.6 L1536.2,456.2 L1538.7,455.6 L1541.1,455.1 L1543.6,454.6 L1546.1,454.0 L1548.5,453.5 L1551.0,452.9 L1553.5,452.3 L1555.9,451.7 L1558.4,451.1 L1560.9,450.6 L1563.3,450.0 L1565.8,449.4 L1568.3,448.9 L1570.7,448.3 L1573.2,447.7 L1575.7,447.1 L1578.1,446.4 L1580.6,445.8 L1583.1,445.1 L1585.5,444.5 L1588.0,443.8 L1590.5,443.1 L1592.9,442.5 L1595.4,441.8 L1597.9,441.1 L1600.3,440.4 L1602.8,439.7 L1605.3,439.0 L1607.7,438.4 L1610.2,437.7 L1612.7,437.0 L1615.1,436.4 L1617.6,435.7 L1620.1,435.1 L1622.5,434.5 L1625.0,433.9 L1627.5,433.3 L1629.9,432.8 L1632.4,432.2 L1634.8,431.7 L1637.3,431.1 L1639.8,430.5 L1642.2,430.0 L1644.7,429.4 L1647.2,428.8 L1649.6,428.2 L1652.1,427.6 L1654.6,427.0 L1657.0,426.4 L1659.5,425.7 L1662.0,425.0 L1664.4,424.3 L1666.9,423.5 L1669.4,422.7 L1671.8,421.9 L1674.3,421.0 L1676.8,420.1 L1679.2,419.0 L1681.7,417.9 L1684.2,416.6 L1686.6,415.2 L1689.1,413.8 L1691.6,412.2 L1694.0,410.6 L1696.5,409.0 L1699.0,407.3 L1701.4,405.6 L1703.9,403.9 L1706.4,402.1 L1708.8,400.5 L1711.3,398.8 L1713.8,397.2 L1716.2,395.6 L1718.7,394.0 L1721.2,392.4 L1723.6,390.9 L1726.1,389.3 L1728.6,387.6 L1731.0,386.0 L1733.5,384.4 L1736.0,382.8 L1738.4,381.1 L1740.9,379.5 L1743.4,377.8 L1745.8,376.1 L1748.3,374.4 L1750.8,372.7 L1753.2,371.0 L1755.7,369.3 L1758.1,367.7 L1760.6,366.0 L1763.1,364.3 L1765.5,362.5 L1768.0,360.7 L1770.5,358.8 L1772.9,356.8 L1775.4,354.8 L1777.9,352.5 L1780.3,349.9 L1782.8,347.2 L1785.3,344.3 L1787.7,341.4 L1790.2,338.4 L1792.7,335.5 L1795.1,332.6 L1797.6,330.0 L1800.1,327.5 L1802.5,325.4 L1805.0,323.4 L1807.5,321.4 L1809.9,319.5 L1812.4,317.7 L1814.9,316.0 L1817.3,314.4 L1819.8,313.0 L1822.3,311.7 L1824.7,310.7 L1827.2,309.8 L1829.7,308.9 L1832.1,308.1 L1834.6,307.4 L1837.1,306.7 L1839.5,306.1 L1842.0,305.6 L1844.5,305.0 L1846.9,304.6 L1849.4,304.1 L1851.9,303.7 L1854.3,303.3 L1856.8,302.9 L1859.3,302.5 L1861.7,302.1 L1864.2,301.8 L1866.7,301.5 L1869.1,301.2 L1871.6,301.0 L1874.0,300.9 L1876.5,300.9 L1879.0,300.9 L1881.4,300.9 L1883.9,301.0 L1886.4,301.0 L1888.8,301.1 L1891.3,301.2 L1893.8,301.3 L1896.2,301.5 L1898.7,301.6 L1901.2,301.8 L1903.6,301.9 L1906.1,302.1 L1908.6,302.3 L1911.0,302.5 L1913.5,302.8 L1916.0,303.2 L1918.4,303.8 L1920.9,304.5 L1923.4,305.3 L1925.8,306.3 L1928.3,307.3 L1930.8,308.4 L1933.2,309.6 L1935.7,310.8 L1938.2,312.1 L1940.6,313.4 L1943.1,314.7 L1945.6,316.1 L1948.0,317.4 L1950.5,318.8 L1953.0,320.1 L1955.4,321.4 L1957.9,322.6 L1960.4,323.7 L1962.8,324.9 L1965.3,326.0 L1967.8,327.2 L1970.2,328.4 L1972.7,329.5 L1975.2,330.7 L1977.6,332.0 L1980.1,333.2 L1982.6,334.4 L1985.0,335.6 L1987.5,336.9 L1990.0,338.1 L1992.4,339.4 L1994.9,340.6 L1997.3,341.9 L1999.8,343.1 L2002.3,344.4 L2004.7,345.7 L2007.2,346.9 L2009.7,348.1 L2012.1,349.4 L2014.6,350.6 L2017.1,351.8 L2019.5,353.1 L2022.0,354.3 L2024.5,355.5 L2026.9,356.7 L2029.4,357.8 L2031.9,359.0 L2034.3,360.1 L2036.8,361.3 L2039.3,362.4 L2041.7,363.5 L2044.2,364.7 L2046.7,365.8 L2049.1,366.9 L2051.6,368.0 L2054.1,369.2 L2056.5,370.3 L2059.0,371.4 L2061.5,372.5 L2063.9,373.7 L2066.4,374.8 L2068.9,375.9 L2071.3,377.0 L2073.8,378.1 L2076.3,379.2 L2078.7,380.3 L2081.2,381.3 L2083.7,382.4 L2086.1,383.5 L2088.6,384.5 L2091.1,385.6 L2093.5,386.6 L2096.0,387.6 L2098.5,388.6 L2100.9,389.6 L2103.4,390.6 L2105.9,391.6 L2108.3,392.5 L2110.8,393.5 L2113.3,394.4 L2115.7,395.3 L2118.2,396.2 L2120.6,397.1 L2123.1,398.0 L2125.6,398.8 L2128.0,399.7 L2130.5,400.5 L2133.0,401.3 L2135.4,402.1 L2137.9,402.9 L2140.4,403.6 L2142.8,404.4 L2145.3,405.1 L2147.8,405.9 L2150.2,406.6 L2152.7,407.3 L2155.2,408.0 L2157.6,408.7 L2160.1,409.4 L2162.6,410.1 L2165.0,410.8 L2167.5,411.5 L2170.0,412.2 L2172.4,412.8 L2174.9,413.5 L2177.4,414.2 L2179.8,414.8 L2182.3,415.5 L2184.8,416.1 L2187.2,416.8 L2189.7,417.4 L2192.2,418.1 L2194.6,418.7 L2197.1,419.4 L2199.6,420.1 L2202.0,420.7 L2204.5,421.4 L2207.0,422.0 L2209.4,422.6 L2211.9,423.3 L2214.4,423.9 L2216.8,424.6 L2219.3,425.2 L2221.8,425.8 L2224.2,426.5 L2226.7,427.1 L2229.2,427.7 L2231.6,428.4 L2234.1,429.0 L2236.6,429.6 L2239.0,430.2 L2241.5,430.8 L2243.9,431.5 L2246.4,432.1 L2248.9,432.7 L2251.3,433.3 L2253.8,433.9 L2256.3,434.5 L2258.7,435.1 L2261.2,435.6 L2263.7,436.2 L2266.1,436.8 L2268.6,437.4 L2271.1,438.0 L2273.5,438.5 L2276.0,439.1 L2278.5,439.6 L2280.9,440.2 L2283.4,440.7 L2285.9,441.3 L2288.3,441.8 L2290.8,442.4 L2293.3,442.9 L2295.7,443.4 L2298.2,444.0 L2300.7,444.5 L2303.1,445.0 L2305.6,445.6 L2308.1,446.1 L2310.5,446.6 L2313.0,447.1 L2315.5,447.7 L2317.9,448.2 L2320.4,448.7 L2322.9,449.2 L2325.3,449.7 L2327.8,450.2 L2330.3,450.8 L2332.7,451.3 L2335.2,451.8 L2337.7,452.3 L2340.1,452.7 L2342.6,453.2 L2345.1,453.7 L2347.5,454.2 L2350.0,454.7 L2352.5,455.1 L2354.9,455.6 L2357.4,456.0 L2359.9,456.5 L2362.3,456.9 L2364.8,457.4 L2367.2,457.8 L2369.7,458.2 L2372.2,458.6 L2374.6,459.0 L2377.1,459.4 L2379.6,459.8 L2382.0,460.1 L2384.5,460.5 L2387.0,460.9 L2389.4,461.2 L2391.9,461.5 L2394.4,461.9 L2396.8,462.2 L2399.3,462.5 L2401.8,462.8 L2404.2,463.1 L2406.7,463.4 L2409.2,463.7 L2411.6,464.0 L2414.1,464.3 L2416.6,464.5 L2419.0,464.8 L2421.5,465.0 L2424.0,465.3 L2426.4,465.5 L2428.9,465.8" fill="none" stroke="#d2d2ff" stroke-width="12" stroke-linejoin="round" opacity="0.6"/>
<path d="M209.5,516.4 L212.0,516.3 L214.4,516.2 L216.9,516.1 L219.4,516.1 L221.8,516.0 L224.3,515.9 L226.8,515.9 L229.2,515.8 L231.7,515.7 L234.2,515.6 L236.6,515.6 L239.1,515.5 L241.6,515.4 L244.0,515.4 L246.5,515.3 L249.0,515.2 L251.4,515.2 L253.9,515.1 L256.4,515.0 L258.8,515.0 L261.3,514.9 L263.8,514.8 L266.2,514.8 L268.7,514.7 L271.1,514.6 L273.6,514.6 L276.1,514.5 L278.5,514.4 L281.0,514.4 L283.5,514.3 L285.9,514.2 L288.4,514.2 L290.9,514.1 L293.3,514.0 L295.8,514.0 L298.3,513.9 L300.7,513.9 L303.2,513.8 L305.7,513.7 L308.1,513.7 L310.6,513.6 L313.1,513.6 L315.5,513.5 L318.0,513.4 L320.5,513.4 L322.9,513.3 L325.4,513.3 L327.9,513.2 L330.3,513.2 L332.8,513.1 L335.3,513.0 L337.7,513.0 L340.2,512.9 L342.7,512.9 L345.1,512.8 L347.6,512.8 L350.1,512.7 L352.5,512.6 L355.0,512.6 L357.5,512.5 L359.9,512.5 L362.4,512.4 L364.9,512.4 L367.3,512.3 L369.8,512.2 L372.3,512.2 L374.7,512.1 L377.2,512.1 L379.7,512.0 L382.1,512.0 L384.6,511.9 L387.1,511.8 L389.5,511.8 L392.0,511.7 L394.4,511.7 L396.9,511.6 L399.4,511.6 L401.8,511.5 L404.3,511.5 L406.8,511.4 L409.2,511.4 L411.7,511.3 L414.2,511.3 L416.6,511.2 L419.1,511.2 L421.6,511.1 L424.0,511.1 L426.5,511.1 L429.0,511.0 L431.4,511.0 L433.9,510.9 L436.4,510.9 L438.8,510.9 L441.3,510.8 L443.8,510.8 L446.2,510.8 L448.7,510.7 L451.2,510.7 L453.6,510.7 L456.1,510.7 L458.6,510.6 L461.0,510.6 L463.5,510.6 L466.0,510.6 L468.4,510.5 L470.9,510.5 L473.4,510.5 L475.8,510.5 L478.3,510.5 L480.8,510.5 L483.2,510.4 L485.7,510.4 L488.2,510.4 L490.6,510.4 L493.1,510.4 L495.6,510.4 L498.0,510.3 L500.5,510.3 L503.0,510.3 L505.4,510.3 L507.9,510.3 L510.4,510.3 L512.8,510.3 L515.3,510.3 L517.8,510.2 L520.2,510.2 L522.7,510.2 L525.1,510.2 L527.6,510.2 L530.1,510.2 L532.5,510.2 L535.0,510.2 L537.5,510.1 L539.9,510.1 L542.4,510.1 L544.9,510.1 L547.3,510.1 L549.8,510.1 L552.3,510.1 L554.7,510.0 L557.2,510.0 L559.7,510.0 L562.1,510.0 L564.6,510.0 L567.1,509.9 L569.5,509.9 L572.0,509.9 L574.5,509.9 L576.9,509.9 L579.4,509.8 L581.9,509.8 L584.3,509.8 L586.8,509.8 L589.3,509.7 L591.7,509.7 L594.2,509.7 L596.7,509.6 L599.1,509.6 L601.6,509.6 L604.1,509.5 L606.5,509.5 L609.0,509.4 L611.5,509.4 L613.9,509.4 L616.4,509.3 L618.9,509.3 L621.3,509.2 L623.8,509.2 L626.3,509.1 L628.7,509.1 L631.2,509.1 L633.7,509.0 L636.1,509.0 L638.6,508.9 L641.0,508.9 L643.5,508.8 L646.0,508.7 L648.4,508.7 L650.9,508.6 L653.4,508.6 L655.8,508.5 L658.3,508.5 L660.8,508.4 L663.2,508.4 L665.7,508.3 L668.2,508.2 L670.6,508.2 L673.1,508.1 L675.6,508.1 L678.0,508.0 L680.5,507.9 L683.0,507.9 L685.4,507.8 L687.9,507.8 L690.4,507.7 L692.8,507.6 L695.3,507.6 L697.8,507.5 L700.2,507.5 L702.7,507.4 L705.2,507.3 L707.6,507.3 L710.1,507.2 L712.6,507.1 L715.0,507.1 L717.5,507.0 L720.0,506.9 L722.4,506.9 L724.9,506.8 L727.4,506.7 L729.8,506.7 L732.3,506.6 L734.8,506.5 L737.2,506.4 L739.7,506.3 L742.2,506.3 L744.6,506.2 L747.1,506.1 L749.6,506.0 L752.0,505.9 L754.5,505.8 L757.0,505.8 L759.4,505.7 L761.9,505.6 L764.4,505.5 L766.8,505.4 L769.3,505.3 L771.7,505.2 L774.2,505.0 L776.7,504.9 L779.1,504.8 L781.6,504.7 L784.1,504.6 L786.5,504.5 L789.0,504.3 L791.5,504.2 L793.9,504.0 L796.4,503.9 L798.9,503.7 L801.3,503.6 L803.8,503.4 L806.3,503.2 L808.7,503.1 L811.2,502.9 L813.7,502.7 L816.1,502.5 L818.6,502.3 L821.1,502.1 L823.5,501.9 L826.0,501.7 L828.5,501.5 L830.9,501.2 L833.4,501.0 L835.9,500.7 L838.3,500.4 L840.8,500.1 L843.3,499.8 L845.7,499.5 L848.2,499.2 L850.7,498.8 L853.1,498.5 L855.6,498.1 L858.1,497.8 L860.5,497.4 L863.0,497.1 L865.5,496.7 L867.9,496.4 L870.4,496.0 L872.9,495.6 L875.3,495.3 L877.8,494.9 L880.3,494.5 L882.7,494.2 L885.2,493.9 L887.6,493.5 L890.1,493.2 L892.6,492.8 L895.0,492.5 L897.5,492.2 L900.0,491.9 L902.4,491.5 L904.9,491.2 L907.4,490.9 L909.8,490.5 L912.3,490.2 L914.8,489.9 L917.2,489.5 L919.7,489.2 L922.2,488.8 L924.6,488.5 L927.1,488.1 L929.6,487.7 L932.0,487.3 L934.5,486.9 L937.0,486.5 L939.4,486.1 L941.9,485.6 L944.4,485.1 L946.8,484.7 L949.3,484.2 L951.8,483.7 L954.2,483.3 L956.7,482.8 L959.2,482.3 L961.6,481.8 L964.1,481.3 L966.6,480.9 L969.0,480.4 L971.5,480.0 L974.0,479.5 L976.4,479.1 L978.9,478.7 L981.4,478.2 L983.8,477.8 L986.3,477.4 L988.8,477.0 L991.2,476.6 L993.7,476.2 L996.2,475.7 L998.6,475.3 L1001.1,474.9 L1003.6,474.5 L1006.0,474.1 L1008.5,473.6 L1010.9,473.2 L1013.4,472.7 L1015.9,472.3 L1018.3,471.8 L1020.8,471.4 L1023.3,471.0 L1025.7,470.5 L1028.2,470.1 L1030.7,469.7 L1033.1,469.3 L1035.6,468.8 L1038.1,468.4 L1040.5,468.0 L1043.0,467.5 L1045.5,467.0 L1047.9,466.5 L1050.4,466.0 L1052.9,465.5 L1055.3,465.0 L1057.8,464.4 L1060.3,463.8 L1062.7,463.2 L1065.2,462.5 L1067.7,461.7 L1070.1,460.9 L1072.6,459.9 L1075.1,458.8 L1077.5,457.7 L1080.0,456.5 L1082.5,455.3 L1084.9,454.1 L1087.4,452.9 L1089.9,451.7 L1092.3,450.6 L1094.8,449.6 L1097.3,448.6 L1099.7,447.8 L1102.2,447.1 L1104.7,446.3 L1107.1,445.6 L1109.6,444.9 L1112.1,444.3 L1114.5,443.6 L1117.0,443.0 L1119.5,442.4 L1121.9,441.9 L1124.4,441.3 L1126.9,440.9 L1129.3,440.4 L1131.8,440.0 L1134.2,439.6 L1136.7,439.3 L1139.2,439.0 L1141.6,438.6 L1144.1,438.3 L1146.6,437.9 L1149.0,437.6 L1151.5,437.3 L1154.0,437.0 L1156.4,436.7 L1158.9,436.4 L1161.4,436.2 L1163.8,435.9 L1166.3,435.7 L1168.8,435.5 L1171.2,435.3 L1173.7,435.1 L1176.2,435.0 L1178.6,434.9 L1181.1,434.8 L1183.6,434.8 L1186.0,434.7 L1188.5,434.7 L1191.0,434.7 L1193.4,434.7 L1195.9,434.7 L1198.4,434.7 L1200.8,434.7 L1203.3,434.7 L1205.8,434.7 L1208.2,434.7 L1210.7,434.7 L1213.2,434.7 L1215.6,434.7 L1218.1,434.7 L1220.6,434.7 L1223.0,434.8 L1225.5,434.8 L1228.0,434.9 L1230.4,435.1 L1232.9,435.2 L1235.4,435.4 L1237.8,435.6 L1240.3,435.9 L1242.8,436.1 L1245.2,436.4 L1247.7,436.7 L1250.2,437.0 L1252.6,437.4 L1255.1,437.7 L1257.5,438.0 L1260.0,438.3 L1262.5,438.7 L1264.9,439.0 L1267.4,439.3 L1269.9,439.6 L1272.3,440.0 L1274.8,440.3 L1277.3,440.6 L1279.7,441.0 L1282.2,441.4 L1284.7,441.8 L1287.1,442.2 L1289.6,442.6 L1292.1,443.0 L1294.5,443.5 L1297.0,443.9 L1299.5,444.3 L1301.9,444.8 L1304.4,445.2 L1306.9,445.7 L1309.3,446.1 L1311.8,446.5 L1314.3,447.0 L1316.7,447.4 L1319.2,447.8 L1321.7,448.2 L1324.1,448.6 L1326.6,449.1 L1329.1,449.5 L1331.5,449.9 L1334.0,450.4 L1336.5,450.8 L1338.9,451.3 L1341.4,451.7 L1343.9,452.1 L1346.3,452.6 L1348.8,453.0 L1351.3,453.4 L1353.7,453.8 L1356.2,454.2 L1358.7,454.6 L1361.1,455.0 L1363.6,455.3 L1366.1,455.6 L1368.5,456.0 L1371.0,456.3 L1373.5,456.6 L1375.9,456.9 L1378.4,457.2 L1380.8,457.5 L1383.3,457.8 L1385.8,458.1 L1388.2,458.3 L1390.7,458.6 L1393.2,458.9 L1395.6,459.1 L1398.1,459.4 L1400.6,459.6 L1403.0,459.8 L1405.5,460.0 L1408.0,460.2 L1410.4,460.4 L1412.9,460.6 L1415.4,460.7 L1417.8,460.9 L1420.3,461.0 L1422.8,461.1 L1425.2,461.2 L1427.7,461.3 L1430.2,461.5 L1432.6,461.6 L1435.1,461.7 L1437.6,461.8 L1440.0,461.9 L1442.5,462.0 L1445.0,462.1 L1447.4,462.2 L1449.9,462.2 L1452.4,462.3 L1454.8,462.4 L1457.3,462.4 L1459.8,462.4 L1462.2,462.5 L1464.7,462.5 L1467.2,462.5 L1469.6,462.5 L1472.1,462.4 L1474.6,462.4 L1477.0,462.3 L1479.5,462.2 L1482.0,462.1 L1484.4,462.0 L1486.9,461.8 L1489.4,461.7 L1491.8,461.5 L1494.3,461.3 L1496.8,461.1 L1499.2,460.9 L1501.7,460.7 L1504.1,460.4 L1506.6,460.2 L1509.1,460.0 L1511.5,459.7 L1514.0,459.5 L1516.5,459.2 L1518.9,459.0 L1521.4,458.7 L1523.9,458.3 L1526.3,457.9 L1528.8,457.5 L1531.3,457.1 L1533.7,456.6 L1536.2,456.2 L1538.7,455.6 L1541.1,455.1 L1543.6,454.6 L1546.1,454.0 L1548.5,453.5 L1551.0,452.9 L1553.5,452.3 L1555.9,451.7 L1558.4,451.1 L1560.9,450.6 L1563.3,450.0 L1565.8,449.4 L1568.3,448.9 L1570.7,448.3 L1573.2,447.7 L1575.7,447.1 L1578.1,446.4 L1580.6,445.8 L1583.1,445.1 L1585.5,444.5 L1588.0,443.8 L1590.5,443.1 L1592.9,442.5 L1595.4,441.8 L1597.9,441.1 L1600.3,440.4 L1602.8,439.7 L1605.3,439.0 L1607.7,438.4 L1610.2,437.7 L1612.7,437.0 L1615.1,436.4 L1617.6,435.7 L1620.1,435.1 L1622.5,434.5 L1625.0,433.9 L1627.5,433.3 L1629.9,432.8 L1632.4,432.2 L1634.8,431.7 L1637.3,431.1 L1639.8,430.5 L1642.2,430.0 L1644.7,429.4 L1647.2,428.8 L1649.6,428.2 L1652.1,427.6 L1654.6,427.0 L1657.0,426.4 L1659.5,425.7 L1662.0,425.0 L1664.4,424.3 L1666.9,423.5 L1669.4,422.7 L1671.8,421.9 L1674.3,421.0 L1676.8,420.1 L1679.2,419.0 L1681.7,417.9 L1684.2,416.6 L1686.6,415.2 L1689.1,413.8 L1691.6,412.2 L1694.0,410.6 L1696.5,409.0 L1699.0,407.3 L1701.4,405.6 L1703.9,403.9 L1706.4,402.1 L1708.8,400.5 L1711.3,398.8 L1713.8,397.2 L1716.2,395.6 L1718.7,394.0 L1721.2,392.4 L1723.6,390.9 L1726.1,389.3 L1728.6,387.6 L1731.0,386.0 L1733.5,384.4 L1736.0,382.8 L1738.4,381.1 L1740.9,379.5 L1743.4,377.8 L1745.8,376.1 L1748.3,374.4 L1750.8,372.7 L1753.2,371.0 L1755.7,369.3 L1758.1,367.7 L1760.6,366.0 L1763.1,364.3 L1765.5,362.5 L1768.0,360.7 L1770.5,358.8 L1772.9,356.8 L1775.4,354.8 L1777.9,352.5 L1780.3,349.9 L1782.8,347.2 L1785.3,344.3 L1787.7,341.4 L1790.2,338.4 L1792.7,335.5 L1795.1,332.6 L1797.6,330.0 L1800.1,327.5 L1802.5,325.4 L1805.0,323.4 L1807.5,321.4 L1809.9,319.5 L1812.4,317.7 L1814.9,316.0 L1817.3,314.4 L1819.8,313.0 L1822.3,311.7 L1824.7,310.7 L1827.2,309.8 L1829.7,308.9 L1832.1,308.1 L1834.6,307.4 L1837.1,306.7 L1839.5,306.1 L1842.0,305.6 L1844.5,305.0 L1846.9,304.6 L1849.4,304.1 L1851.9,303.7 L1854.3,303.3 L1856.8,302.9 L1859.3,302.5 L1861.7,302.1 L1864.2,301.8 L1866.7,301.5 L1869.1,301.2 L1871.6,301.0 L1874.0,300.9 L1876.5,300.9 L1879.0,300.9 L1881.4,300.9 L1883.9,301.0 L1886.4,301.0 L1888.8,301.1 L1891.3,301.2 L1893.8,301.3 L1896.2,301.5 L1898.7,301.6 L1901.2,301.8 L1903.6,301.9 L1906.1,302.1 L1908.6,302.3 L1911.0,302.5 L1913.5,302.8 L1916.0,303.2 L1918.4,303.8 L1920.9,304.5 L1923.4,305.3 L1925.8,306.3 L1928.3,307.3 L1930.8,308.4 L1933.2,309.6 L1935.7,310.8 L1938.2,312.1 L1940.6,313.4 L1943.1,314.7 L1945.6,316.1 L1948.0,317.4 L1950.5,318.8 L1953.0,320.1 L1955.4,321.4 L1957.9,322.6 L1960.4,323.7 L1962.8,324.9 L1965.3,326.0 L1967.8,327.2 L1970.2,328.4 L1972.7,329.5 L1975.2,330.7 L1977.6,332.0 L1980.1,333.2 L1982.6,334.4 L1985.0,335.6 L1987.5,336.9 L1990.0,338.1 L1992.4,339.4 L1994.9,340.6 L1997.3,341.9 L1999.8,343.1 L2002.3,344.4 L2004.7,345.7 L2007.2,346.9 L2009.7,348.1 L2012.1,349.4 L2014.6,350.6 L2017.1,351.8 L2019.5,353.1 L2022.0,354.3 L2024.5,355.5 L2026.9,356.7 L2029.4,357.8 L2031.9,359.0 L2034.3,360.1 L2036.8,361.3 L2039.3,362.4 L2041.7,363.5 L2044.2,364.7 L2046.7,365.8 L2049.1,366.9 L2051.6,368.0 L2054.1,369.2 L2056.5,370.3 L2059.0,371.4 L2061.5,372.5 L2063.9,373.7 L2066.4,374.8 L2068.9,375.9 L2071.3,377.0 L2073.8,378.1 L2076.3,379.2 L2078.7,380.3 L2081.2,381.3 L2083.7,382.4 L2086.1,383.5 L2088.6,384.5 L2091.1,385.6 L2093.5,386.6 L2096.0,387.6 L2098.5,388.6 L2100.9,389.6 L2103.4,390.6 L2105.9,391.6 L2108.3,392.5 L2110.8,393.5 L2113.3,394.4 L2115.7,395.3 L2118.2,396.2 L2120.6,397.1 L2123.1,398.0 L2125.6,398.8 L2128.0,399.7 L2130.5,400.5 L2133.0,401.3 L2135.4,402.1 L2137.9,402.9 L2140.4,403.6 L2142.8,404.4 L2145.3,405.1 L2147.8,405.9 L2150.2,406.6 L2152.7,407.3 L2155.2,408.0 L2157.6,408.7 L2160.1,409.4 L2162.6,410.1 L2165.0,410.8 L2167.5,411.5 L2170.0,412.2 L2172.4,412.8 L2174.9,413.5 L2177.4,414.2 L2179.8,414.8 L2182.3,415.5 L2184.8,416.1 L2187.2,416.8 L2189.7,417.4 L2192.2,418.1 L2194.6,418.7 L2197.1,419.4 L2199.6,420.1 L2202.0,420.7 L2204.5,421.4 L2207.0,422.0 L2209.4,422.6 L2211.9,423.3 L2214.4,423.9 L2216.8,424.6 L2219.3,425.2 L2221.8,425.8 L2224.2,426.5 L2226.7,427.1 L2229.2,427.7 L2231.6,428.4 L2234.1,429.0 L2236.6,429.6 L2239.0,430.2 L2241.5,430.8 L2243.9,431.5 L2246.4,432.1 L2248.9,432.7 L2251.3,433.3 L2253.8,433.9 L2256.3,434.5 L2258.7,435.1 L2261.2,435.6 L2263.7,436.2 L2266.1,436.8 L2268.6,437.4 L2271.1,438.0 L2273.5,438.5 L2276.0,439.1 L2278.5,439.6 L2280.9,440.2 L2283.4,440.7 L2285.9,441.3 L2288.3,441.8 L2290.8,442.4 L2293.3,442.9 L2295.7,443.4 L2298.2,444.0 L2300.7,444.5 L2303.1,445.0 L2305.6,445.6 L2308.1,446.1 L2310.5,446.6 L2313.0,447.1 L2315.5,447.7 L2317.9,448.2 L2320.4,448.7 L2322.9,449.2 L2325.3,449.7 L2327.8,450.2 L2330.3,450.8 L2332.7,451.3 L2335.2,451.8 L2337.7,452.3 L2340.1,452.7 L2342.6,453.2 L2345.1,453.7 L2347.5,454.2 L2350.0,454.7 L2352.5,455.1 L2354.9,455.6 L2357.4,456.0 L2359.9,456.5 L2362.3,456.9 L2364.8,457.4 L2367.2,457.8 L2369.7,458.2 L2372.2,458.6 L2374.6,459.0 L2377.1,459.4 L2379.6,459.8 L2382.0,460.1 L2384.5,460.5 L2387.0,460.9 L2389.4,461.2 L2391.9,461.5 L2394.4,461.9 L2396.8,462.2 L2399.3,462.5 L2401.8,462.8 L2404.2,463.1 L2406.7,463.4 L2409.2,463.7 L2411.6,464.0 L2414.1,464.3 L2416.6,464.5 L2419.0,464.8 L2421.5,465.0 L2424.0,465.3 L2426.4,465.5 L2428.9,465.8" fill="none" stroke="#6c6cff" stroke-width="7" stroke-linejoin="round"/>
<g fill="#dcefdc" stroke="none"><circle cx="209.5" cy="1136.0" r="16.5"/><circle cx="332.8" cy="1132.7" r="16.5"/><circle cx="456.1" cy="1126.2" r="16.5"/><circle cx="579.4" cy="1121.2" r="16.5"/><circle cx="702.7" cy="1117.9" r="16.5"/><circle cx="826.0" cy="1103.1" r="16.5"/><circle cx="949.3" cy="1093.3" r="16.5"/><circle cx="1072.6" cy="1043.9" r="16.5"/><circle cx="1119.5" cy="1002.4" r="16.5"/><circle cx="1139.2" cy="953.3" r="16.5"/><circle cx="1156.4" cy="905.5" r="16.5"/><circle cx="1176.2" cy="881.1" r="16.5"/><circle cx="1195.9" cy="872.8" r="16.5"/><circle cx="1220.6" cy="890.1" r="16.5"/><circle cx="1245.2" cy="916.2" r="16.5"/><circle cx="1269.9" cy="928.2" r="16.5"/><circle cx="1294.5" cy="942.0" r="16.5"/><circle cx="1319.2" cy="961.3" r="16.5"/><circle cx="1343.9" cy="982.1" r="16.5"/><circle cx="1368.5" cy="1004.0" r="16.5"/><circle cx="1393.2" cy="1023.2" r="16.5"/><circle cx="1417.8" cy="1039.8" r="16.5"/><circle cx="1442.5" cy="1053.3" r="16.5"/><circle cx="1467.2" cy="1064.7" r="16.5"/><circle cx="1491.8" cy="1075.7" r="16.5"/><circle cx="1516.5" cy="1085.0" r="16.5"/><circle cx="1541.1" cy="1092.1" r="16.5"/><circle cx="1565.8" cy="1098.5" r="16.5"/><circle cx="1590.5" cy="1104.6" r="16.5"/><circle cx="1615.1" cy="1109.3" r="16.5"/><circle cx="1639.8" cy="1112.9" r="16.5"/><circle cx="1664.4" cy="1115.2" r="16.5"/><circle cx="1689.1" cy="1116.3" r="16.5"/><circle cx="1713.8" cy="1114.7" r="16.5"/><circle cx="1738.4" cy="1108.1" r="16.5"/><circle cx="1763.1" cy="1090.3" r="16.5"/><circle cx="1787.7" cy="1058.4" r="16.5"/><circle cx="1812.4" cy="1042.6" r="16.5"/><circle cx="1837.1" cy="1040.6" r="16.5"/><circle cx="1861.7" cy="1040.6" r="16.5"/><circle cx="1886.4" cy="1040.6" r="16.5"/><circle cx="1911.0" cy="1039.8" r="16.5"/><circle cx="1935.7" cy="1039.0" r="16.5"/><circle cx="1960.4" cy="1039.0" r="16.5"/><circle cx="1985.0" cy="1039.0" r="16.5"/><circle cx="2009.7" cy="1039.3" r="16.5"/><circle cx="2034.3" cy="1040.0" r="16.5"/><circle cx="2059.0" cy="1040.6" r="16.5"/><circle cx="2083.7" cy="1040.9" r="16.5"/><circle cx="2108.3" cy="1041.2" r="16.5"/><circle cx="2133.0" cy="1041.4" r="16.5"/><circle cx="2157.6" cy="1041.9" r="16.5"/><circle cx="2182.3" cy="1042.3" r="16.5"/><circle cx="2231.6" cy="1042.3" r="16.5"/><circle cx="2280.9" cy="1050.5" r="16.5"/><circle cx="2330.3" cy="1053.0" r="16.5"/><circle cx="2428.9" cy="1066.9" r="16.5"/></g>
<path d="M209.5,1136.0 L332.8,1132.7 L456.1,1126.2 L579.4,1121.2 L702.7,1117.9 L826.0,1103.1 L949.3,1093.3 L1072.6,1043.9 L1119.5,1002.4 L1139.2,953.3 L1156.4,905.5 L1176.2,881.1 L1195.9,872.8 L1220.6,890.1 L1245.2,916.2 L1269.9,928.2 L1294.5,942.0 L1319.2,961.3 L1343.9,982.1 L1368.5,1004.0 L1393.2,1023.2 L1417.8,1039.8 L1442.5,1053.3 L1467.2,1064.7 L1491.8,1075.7 L1516.5,1085.0 L1541.1,1092.1 L1565.8,1098.5 L1590.5,1104.6 L1615.1,1109.3 L1639.8,1112.9 L1664.4,1115.2 L1689.1,1116.3 L1713.8,1114.7 L1738.4,1108.1 L1763.1,1090.3 L1787.7,1058.4 L1812.4,1042.6 L1837.1,1040.6 L1861.7,1040.6 L1886.4,1040.6 L1911.0,1039.8 L1935.7,1039.0 L1960.4,1039.0 L1985.0,1039.0 L2009.7,1039.3 L2034.3,1040.0 L2059.0,1040.6 L2083.7,1040.9 L2108.3,1041.2 L2133.0,1041.4 L2157.6,1041.9 L2182.3,1042.3 L2231.6,1042.3 L2280.9,1050.5 L2330.3,1053.0 L2428.9,1066.9" fill="none" stroke="#a6d6a6" stroke-width="9" stroke-linejoin="round"/>
<g fill="none" stroke="#a6d6a6" stroke-width="10"><circle cx="209.5" cy="1136.0" r="16.5"/><circle cx="332.8" cy="1132.7" r="16.5"/><circle cx="456.1" cy="1126.2" r="16.5"/><circle cx="579.4" cy="1121.2" r="16.5"/><circle cx="702.7" cy="1117.9" r="16.5"/><circle cx="826.0" cy="1103.1" r="16.5"/><circle cx="949.3" cy="1093.3" r="16.5"/><circle cx="1072.6" cy="1043.9" r="16.5"/><circle cx="1119.5" cy="1002.4" r="16.5"/><circle cx="1139.2" cy="953.3" r="16.5"/><circle cx="1156.4" cy="905.5" r="16.5"/><circle cx="1176.2" cy="881.1" r="16.5"/><circle cx="1195.9" cy="872.8" r="16.5"/><circle cx="1220.6" cy="890.1" r="16.5"/><circle cx="1245.2" cy="916.2" r="16.5"/><circle cx="1269.9" cy="928.2" r="16.5"/><circle cx="1294.5" cy="942.0" r="16.5"/><circle cx="1319.2" cy="961.3" r="16.5"/><circle cx="1343.9" cy="982.1" r="16.5"/><circle cx="1368.5" cy="1004.0" r="16.5"/><circle cx="1393.2" cy="1023.2" r="16.5"/><circle cx="1417.8" cy="1039.8" r="16.5"/><circle cx="1442.5" cy="1053.3" r="16.5"/><circle cx="1467.2" cy="1064.7" r="16.5"/><circle cx="1491.8" cy="1075.7" r="16.5"/><circle cx="1516.5" cy="1085.0" r="16.5"/><circle cx="1541.1" cy="1092.1" r="16.5"/><circle cx="1565.8" cy="1098.5" r="16.5"/><circle cx="1590.5" cy="1104.6" r="16.5"/><circle cx="1615.1" cy="1109.3" r="16.5"/><circle cx="1639.8" cy="1112.9" r="16.5"/><circle cx="1664.4" cy="1115.2" r="16.5"/><circle cx="1689.1" cy="1116.3" r="16.5"/><circle cx="1713.8" cy="1114.7" r="16.5"/><circle cx="1738.4" cy="1108.1" r="16.5"/><circle cx="1763.1" cy="1090.3" r="16.5"/><circle cx="1787.7" cy="1058.4" r="16.5"/><circle cx="1812.4" cy="1042.6" r="16.5"/><circle cx="1837.1" cy="1040.6" r="16.5"/><circle cx="1861.7" cy="1040.6" r="16.5"/><circle cx="1886.4" cy="1040.6" r="16.5"/><circle cx="1911.0" cy="1039.8" r="16.5"/><circle cx="1935.7" cy="1039.0" r="16.5"/><circle cx="1960.4" cy="1039.0" r="16.5"/><circle cx="1985.0" cy="1039.0" r="16.5"/><circle cx="2009.7" cy="1039.3" r="16.5"/><circle cx="2034.3" cy="1040.0" r="16.5"/><circle cx="2059.0" cy="1040.6" r="16.5"/><circle cx="2083.7" cy="1040.9" r="16.5"/><circle cx="2108.3" cy="1041.2" r="16.5"/><circle cx="2133.0" cy="1041.4" r="16.5"/><circle cx="2157.6" cy="1041.9" r="16.5"/><circle cx="2182.3" cy="1042.3" r="16.5"/><circle cx="2231.6" cy="1042.3" r="16.5"/><circle cx="2280.9" cy="1050.5" r="16.5"/><circle cx="2330.3" cy="1053.0" r="16.5"/><circle cx="2428.9" cy="1066.9" r="16.5"/></g>
<path d="M209.5,1136.0 L332.8,1132.7 L456.1,1126.2 L579.4,1121.2 L702.7,1117.9 L826.0,1103.1 L949.3,1093.3 L1072.6,1043.9 L1119.5,1002.4 L1139.2,953.3 L1156.4,905.5 L1176.2,881.1 L1195.9,872.8 L1220.6,890.1 L1245.2,916.2 L1269.9,928.2 L1294.5,942.0 L1319.2,961.3 L1343.9,982.1 L1368.5,1004.0 L1393.2,1023.2 L1417.8,1039.8 L1442.5,1053.3 L1467.2,1064.7 L1491.8,1075.7 L1516.5,1085.0 L1541.1,1092.1 L1565.8,1098.5 L1590.5,1104.6 L1615.1,1109.3 L1639.8,1112.9 L1664.4,1115.2 L1689.1,1116.3 L1713.8,1114.7 L1738.4,1108.1 L1763.1,1090.3 L1787.7,1058.4 L1812.4,1042.6 L1837.1,1040.6 L1861.7,1040.6 L1886.4,1040.6 L1911.0,1039.8 L1935.7,1039.0 L1960.4,1039.0 L1985.0,1039.0 L2009.7,1039.3 L2034.3,1040.0 L2059.0,1040.6 L2083.7,1040.9 L2108.3,1041.2 L2133.0,1041.4 L2157.6,1041.9 L2182.3,1042.3 L2231.6,1042.3 L2280.9,1050.5 L2330.3,1053.0 L2428.9,1066.9" fill="none" stroke="#3f9f3f" stroke-width="5" stroke-linejoin="round"/>
<g fill="none" stroke="#3f9f3f" stroke-width="5"><circle cx="209.5" cy="1136.0" r="16.5"/><circle cx="332.8" cy="1132.7" r="16.5"/><circle cx="456.1" cy="1126.2" r="16.5"/><circle cx="579.4" cy="1121.2" r="16.5"/><circle cx="702.7" cy="1117.9" r="16.5"/><circle cx="826.0" cy="1103.1" r="16.5"/><circle cx="949.3" cy="1093.3" r="16.5"/><circle cx="1072.6" cy="1043.9" r="16.5"/><circle cx="1119.5" cy="1002.4" r="16.5"/><circle cx="1139.2" cy="953.3" r="16.5"/><circle cx="1156.4" cy="905.5" r="16.5"/><circle cx="1176.2" cy="881.1" r="16.5"/><circle cx="1195.9" cy="872.8" r="16.5"/><circle cx="1220.6" cy="890.1" r="16.5"/><circle cx="1245.2" cy="916.2" r="16.5"/><circle cx="1269.9" cy="928.2" r="16.5"/><circle cx="1294.5" cy="942.0" r="16.5"/><circle cx="1319.2" cy="961.3" r="16.5"/><circle cx="1343.9" cy="982.1" r="16.5"/><circle cx="1368.5" cy="1004.0" r="16.5"/><circle cx="1393.2" cy="1023.2" r="16.5"/><circle cx="1417.8" cy="1039.8" r="16.5"/><circle cx="1442.5" cy="1053.3" r="16.5"/><circle cx="1467.2" cy="1064.7" r="16.5"/><circle cx="1491.8" cy="1075.7" r="16.5"/><circle cx="1516.5" cy="1085.0" r="16.5"/><circle cx="1541.1" cy="1092.1" r="16.5"/><circle cx="1565.8" cy="1098.5" r="16.5"/><circle cx="1590.5" cy="1104.6" r="16.5"/><circle cx="1615.1" cy="1109.3" r="16.5"/><circle cx="1639.8" cy="1112.9" r="16.5"/><circle cx="1664.4" cy="1115.2" r="16.5"/><circle cx="1689.1" cy="1116.3" r="16.5"/><circle cx="1713.8" cy="1114.7" r="16.5"/><circle cx="1738.4" cy="1108.1" r="16.5"/><circle cx="1763.1" cy="1090.3" r="16.5"/><circle cx="1787.7" cy="1058.4" r="16.5"/><circle cx="1812.4" cy="1042.6" r="16.5"/><circle cx="1837.1" cy="1040.6" r="16.5"/><circle cx="1861.7" cy="1040.6" r="16.5"/><circle cx="1886.4" cy="1040.6" r="16.5"/><circle cx="1911.0" cy="1039.8" r="16.5"/><circle cx="1935.7" cy="1039.0" r="16.5"/><circle cx="1960.4" cy="1039.0" r="16.5"/><circle cx="1985.0" cy="1039.0" r="16.5"/><circle cx="2009.7" cy="1039.3" r="16.5"/><circle cx="2034.3" cy="1040.0" r="16.5"/><circle cx="2059.0" cy="1040.6" r="16.5"/><circle cx="2083.7" cy="1040.9" r="16.5"/><circle cx="2108.3" cy="1041.2" r="16.5"/><circle cx="2133.0" cy="1041.4" r="16.5"/><circle cx="2157.6" cy="1041.9" r="16.5"/><circle cx="2182.3" cy="1042.3" r="16.5"/><circle cx="2231.6" cy="1042.3" r="16.5"/><circle cx="2280.9" cy="1050.5" r="16.5"/><circle cx="2330.3" cy="1053.0" r="16.5"/><circle cx="2428.9" cy="1066.9" r="16.5"/></g>
<path d="M209.5,1157.4 L212.0,1157.4 L214.4,1157.3 L216.9,1157.3 L219.4,1157.2 L221.8,1157.2 L224.3,1157.1 L226.8,1157.1 L229.2,1157.0 L231.7,1156.9 L234.2,1156.9 L236.6,1156.8 L239.1,1156.8 L241.6,1156.7 L244.0,1156.7 L246.5,1156.6 L249.0,1156.5 L251.4,1156.5 L253.9,1156.4 L256.4,1156.3 L258.8,1156.3 L261.3,1156.2 L263.8,1156.2 L266.2,1156.1 L268.7,1156.0 L271.1,1156.0 L273.6,1155.9 L276.1,1155.8 L278.5,1155.8 L281.0,1155.7 L283.5,1155.6 L285.9,1155.5 L288.4,1155.5 L290.9,1155.4 L293.3,1155.3 L295.8,1155.3 L298.3,1155.2 L300.7,1155.1 L303.2,1155.0 L305.7,1155.0 L308.1,1154.9 L310.6,1154.8 L313.1,1154.7 L315.5,1154.7 L318.0,1154.6 L320.5,1154.5 L322.9,1154.4 L325.4,1154.4 L327.9,1154.3 L330.3,1154.2 L332.8,1154.1 L335.3,1154.1 L337.7,1154.0 L340.2,1153.9 L342.7,1153.8 L345.1,1153.7 L347.6,1153.6 L350.1,1153.5 L352.5,1153.5 L355.0,1153.4 L357.5,1153.3 L359.9,1153.2 L362.4,1153.1 L364.9,1153.0 L367.3,1152.9 L369.8,1152.8 L372.3,1152.7 L374.7,1152.6 L377.2,1152.5 L379.7,1152.4 L382.1,1152.3 L384.6,1152.2 L387.1,1152.1 L389.5,1152.0 L392.0,1151.9 L394.4,1151.8 L396.9,1151.7 L399.4,1151.6 L401.8,1151.5 L404.3,1151.4 L406.8,1151.3 L409.2,1151.2 L411.7,1151.1 L414.2,1150.9 L416.6,1150.8 L419.1,1150.7 L421.6,1150.6 L424.0,1150.5 L426.5,1150.4 L429.0,1150.3 L431.4,1150.2 L433.9,1150.1 L436.4,1150.0 L438.8,1149.9 L441.3,1149.8 L443.8,1149.7 L446.2,1149.6 L448.7,1149.5 L451.2,1149.4 L453.6,1149.3 L456.1,1149.2 L458.6,1149.1 L461.0,1149.0 L463.5,1148.9 L466.0,1148.8 L468.4,1148.7 L470.9,1148.6 L473.4,1148.5 L475.8,1148.4 L478.3,1148.3 L480.8,1148.2 L483.2,1148.2 L485.7,1148.1 L488.2,1148.0 L490.6,1147.9 L493.1,1147.8 L495.6,1147.7 L498.0,1147.6 L500.5,1147.5 L503.0,1147.4 L505.4,1147.3 L507.9,1147.2 L510.4,1147.2 L512.8,1147.1 L515.3,1147.0 L517.8,1146.9 L520.2,1146.8 L522.7,1146.7 L525.1,1146.6 L527.6,1146.5 L530.1,1146.4 L532.5,1146.3 L535.0,1146.2 L537.5,1146.1 L539.9,1146.0 L542.4,1145.9 L544.9,1145.8 L547.3,1145.7 L549.8,1145.6 L552.3,1145.5 L554.7,1145.4 L557.2,1145.3 L559.7,1145.2 L562.1,1145.1 L564.6,1145.0 L567.1,1144.9 L569.5,1144.7 L572.0,1144.6 L574.5,1144.5 L576.9,1144.4 L579.4,1144.3 L581.9,1144.1 L584.3,1144.0 L586.8,1143.9 L589.3,1143.8 L591.7,1143.6 L594.2,1143.5 L596.7,1143.4 L599.1,1143.2 L601.6,1143.1 L604.1,1143.0 L606.5,1142.8 L609.0,1142.7 L611.5,1142.6 L613.9,1142.4 L616.4,1142.3 L618.9,1142.1 L621.3,1142.0 L623.8,1141.9 L626.3,1141.7 L628.7,1141.6 L631.2,1141.4 L633.7,1141.3 L636.1,1141.1 L638.6,1140.9 L641.0,1140.8 L643.5,1140.6 L646.0,1140.5 L648.4,1140.3 L650.9,1140.1 L653.4,1140.0 L655.8,1139.8 L658.3,1139.6 L660.8,1139.4 L663.2,1139.3 L665.7,1139.1 L668.2,1138.9 L670.6,1138.7 L673.1,1138.5 L675.6,1138.3 L678.0,1138.1 L680.5,1137.9 L683.0,1137.7 L685.4,1137.5 L687.9,1137.3 L690.4,1137.1 L692.8,1136.9 L695.3,1136.7 L697.8,1136.5 L700.2,1136.3 L702.7,1136.0 L705.2,1135.8 L707.6,1135.6 L710.1,1135.3 L712.6,1135.1 L715.0,1134.8 L717.5,1134.5 L720.0,1134.2 L722.4,1134.0 L724.9,1133.7 L727.4,1133.4 L729.8,1133.1 L732.3,1132.7 L734.8,1132.4 L737.2,1132.1 L739.7,1131.8 L742.2,1131.4 L744.6,1131.1 L747.1,1130.7 L749.6,1130.4 L752.0,1130.0 L754.5,1129.6 L757.0,1129.3 L759.4,1128.9 L761.9,1128.5 L764.4,1128.1 L766.8,1127.7 L769.3,1127.4 L771.7,1127.0 L774.2,1126.6 L776.7,1126.2 L779.1,1125.8 L781.6,1125.3 L784.1,1124.9 L786.5,1124.4 L789.0,1124.0 L791.5,1123.5 L793.9,1123.0 L796.4,1122.5 L798.9,1122.0 L801.3,1121.5 L803.8,1121.0 L806.3,1120.4 L808.7,1119.9 L811.2,1119.4 L813.7,1118.9 L816.1,1118.3 L818.6,1117.8 L821.1,1117.3 L823.5,1116.8 L826.0,1116.3 L828.5,1115.8 L830.9,1115.3 L833.4,1114.9 L835.9,1114.4 L838.3,1113.9 L840.8,1113.5 L843.3,1113.0 L845.7,1112.5 L848.2,1112.0 L850.7,1111.5 L853.1,1110.9 L855.6,1110.3 L858.1,1109.7 L860.5,1109.0 L863.0,1108.3 L865.5,1107.6 L867.9,1106.8 L870.4,1105.9 L872.9,1105.0 L875.3,1104.1 L877.8,1103.2 L880.3,1102.2 L882.7,1101.2 L885.2,1100.2 L887.6,1099.2 L890.1,1098.2 L892.6,1097.1 L895.0,1096.1 L897.5,1095.0 L900.0,1093.9 L902.4,1092.9 L904.9,1091.8 L907.4,1090.8 L909.8,1089.7 L912.3,1088.7 L914.8,1087.7 L917.2,1086.7 L919.7,1085.7 L922.2,1084.8 L924.6,1083.9 L927.1,1083.0 L929.6,1082.1 L932.0,1081.3 L934.5,1080.4 L937.0,1079.5 L939.4,1078.6 L941.9,1077.6 L944.4,1076.6 L946.8,1075.6 L949.3,1074.5 L951.8,1073.3 L954.2,1072.1 L956.7,1070.7 L959.2,1069.2 L961.6,1067.5 L964.1,1065.6 L966.6,1063.6 L969.0,1061.5 L971.5,1059.3 L974.0,1057.1 L976.4,1055.0 L978.9,1053.0 L981.4,1051.0 L983.8,1049.0 L986.3,1047.0 L988.8,1045.0 L991.2,1043.1 L993.7,1041.1 L996.2,1039.1 L998.6,1037.1 L1001.1,1035.2 L1003.6,1033.2 L1006.0,1031.3 L1008.5,1029.4 L1010.9,1027.5 L1013.4,1025.6 L1015.9,1023.8 L1018.3,1022.1 L1020.8,1020.4 L1023.3,1018.6 L1025.7,1016.8 L1028.2,1015.0 L1030.7,1013.1 L1033.1,1011.0 L1035.6,1008.8 L1038.1,1006.4 L1040.5,1003.9 L1043.0,1001.3 L1045.5,998.7 L1047.9,996.1 L1050.4,993.6 L1052.9,991.3 L1055.3,989.0 L1057.8,986.9 L1060.3,984.8 L1062.7,982.7 L1065.2,980.7 L1067.7,978.6 L1070.1,976.6 L1072.6,974.6 L1075.1,972.5 L1077.5,970.4 L1080.0,968.2 L1082.5,966.0 L1084.9,963.8 L1087.4,961.6 L1089.9,959.3 L1092.3,957.0 L1094.8,954.7 L1097.3,952.4 L1099.7,950.0 L1102.2,947.6 L1104.7,945.2 L1107.1,942.7 L1109.6,940.2 L1112.1,937.5 L1114.5,934.9 L1117.0,932.2 L1119.5,929.6 L1121.9,927.0 L1124.4,924.5 L1126.9,922.2 L1129.3,920.0 L1131.8,917.8 L1134.2,915.7 L1136.7,913.7 L1139.2,911.7 L1141.6,909.7 L1144.1,907.7 L1146.6,905.7 L1149.0,903.6 L1151.5,901.4 L1154.0,899.1 L1156.4,896.8 L1158.9,894.6 L1161.4,892.6 L1163.8,890.8 L1166.3,889.4 L1168.8,888.5 L1171.2,887.7 L1173.7,887.1 L1176.2,886.4 L1178.6,885.8 L1181.1,885.3 L1183.6,884.9 L1186.0,884.6 L1188.5,884.4 L1191.0,884.4 L1193.4,884.4 L1195.9,884.5 L1198.4,884.7 L1200.8,885.0 L1203.3,885.3 L1205.8,885.6 L1208.2,886.0 L1210.7,886.5 L1213.2,887.1 L1215.6,888.0 L1218.1,889.0 L1220.6,890.2 L1223.0,891.5 L1225.5,892.9 L1228.0,894.3 L1230.4,895.9 L1232.9,897.5 L1235.4,899.2 L1237.8,900.8 L1240.3,902.5 L1242.8,904.1 L1245.2,905.7 L1247.7,907.4 L1250.2,909.1 L1252.6,910.9 L1255.1,912.8 L1257.5,914.7 L1260.0,916.7 L1262.5,918.7 L1264.9,920.8 L1267.4,923.0 L1269.9,925.1 L1272.3,927.2 L1274.8,929.4 L1277.3,931.5 L1279.7,933.7 L1282.2,935.8 L1284.7,937.9 L1287.1,939.9 L1289.6,941.9 L1292.1,943.9 L1294.5,945.8 L1297.0,947.8 L1299.5,949.7 L1301.9,951.6 L1304.4,953.5 L1306.9,955.4 L1309.3,957.3 L1311.8,959.2 L1314.3,961.1 L1316.7,963.0 L1319.2,964.9 L1321.7,966.9 L1324.1,968.8 L1326.6,970.8 L1329.1,972.8 L1331.5,974.8 L1334.0,976.9 L1336.5,979.0 L1338.9,981.1 L1341.4,983.3 L1343.9,985.5 L1346.3,987.7 L1348.8,989.9 L1351.3,992.2 L1353.7,994.4 L1356.2,996.7 L1358.7,999.0 L1361.1,1001.2 L1363.6,1003.4 L1366.1,1005.6 L1368.5,1007.8 L1371.0,1010.0 L1373.5,1012.1 L1375.9,1014.1 L1378.4,1016.2 L1380.8,1018.1 L1383.3,1020.1 L1385.8,1021.9 L1388.2,1023.8 L1390.7,1025.7 L1393.2,1027.6 L1395.6,1029.4 L1398.1,1031.2 L1400.6,1033.0 L1403.0,1034.8 L1405.5,1036.5 L1408.0,1038.3 L1410.4,1039.9 L1412.9,1041.6 L1415.4,1043.2 L1417.8,1044.7 L1420.3,1046.3 L1422.8,1047.7 L1425.2,1049.1 L1427.7,1050.5 L1430.2,1051.8 L1432.6,1053.1 L1435.1,1054.3 L1437.6,1055.5 L1440.0,1056.6 L1442.5,1057.7 L1445.0,1058.8 L1447.4,1059.9 L1449.9,1061.0 L1452.4,1062.0 L1454.8,1063.0 L1457.3,1064.1 L1459.8,1065.1 L1462.2,1066.1 L1464.7,1067.1 L1467.2,1068.1 L1469.6,1069.2 L1472.1,1070.2 L1474.6,1071.3 L1477.0,1072.4 L1479.5,1073.5 L1482.0,1074.6 L1484.4,1075.7 L1486.9,1076.8 L1489.4,1077.9 L1491.8,1079.0 L1494.3,1080.0 L1496.8,1081.1 L1499.2,1082.1 L1501.7,1083.1 L1504.1,1084.1 L1506.6,1085.0 L1509.1,1085.9 L1511.5,1086.7 L1514.0,1087.5 L1516.5,1088.2 L1518.9,1089.0 L1521.4,1089.7 L1523.9,1090.3 L1526.3,1091.0 L1528.8,1091.7 L1531.3,1092.3 L1533.7,1092.9 L1536.2,1093.5 L1538.7,1094.1 L1541.1,1094.7 L1543.6,1095.3 L1546.1,1095.9 L1548.5,1096.5 L1551.0,1097.1 L1553.5,1097.8 L1555.9,1098.4 L1558.4,1099.0 L1560.9,1099.7 L1563.3,1100.4 L1565.8,1101.1 L1568.3,1101.8 L1570.7,1102.5 L1573.2,1103.2 L1575.7,1103.9 L1578.1,1104.6 L1580.6,1105.3 L1583.1,1106.0 L1585.5,1106.7 L1588.0,1107.4 L1590.5,1108.1 L1592.9,1108.7 L1595.4,1109.3 L1597.9,1109.9 L1600.3,1110.5 L1602.8,1111.1 L1605.3,1111.6 L1607.7,1112.0 L1610.2,1112.5 L1612.7,1112.9 L1615.1,1113.4 L1617.6,1113.9 L1620.1,1114.3 L1622.5,1114.8 L1625.0,1115.2 L1627.5,1115.7 L1629.9,1116.1 L1632.4,1116.5 L1634.8,1116.9 L1637.3,1117.2 L1639.8,1117.6 L1642.2,1117.9 L1644.7,1118.1 L1647.2,1118.3 L1649.6,1118.5 L1652.1,1118.7 L1654.6,1118.7 L1657.0,1118.8 L1659.5,1118.8 L1662.0,1118.8 L1664.4,1118.8 L1666.9,1118.8 L1669.4,1118.8 L1671.8,1118.8 L1674.3,1118.8 L1676.8,1118.8 L1679.2,1118.8 L1681.7,1118.8 L1684.2,1118.8 L1686.6,1118.8 L1689.1,1118.8 L1691.6,1118.7 L1694.0,1118.5 L1696.5,1118.1 L1699.0,1117.7 L1701.4,1117.1 L1703.9,1116.4 L1706.4,1115.6 L1708.8,1114.8 L1711.3,1113.9 L1713.8,1112.9 L1716.2,1111.9 L1718.7,1110.9 L1721.2,1109.8 L1723.6,1108.7 L1726.1,1107.6 L1728.6,1106.5 L1731.0,1105.4 L1733.5,1104.3 L1736.0,1103.3 L1738.4,1102.3 L1740.9,1101.4 L1743.4,1100.4 L1745.8,1099.4 L1748.3,1098.4 L1750.8,1097.4 L1753.2,1096.4 L1755.7,1095.3 L1758.1,1094.2 L1760.6,1093.1 L1763.1,1091.9 L1765.5,1090.7 L1768.0,1089.4 L1770.5,1088.1 L1772.9,1086.7 L1775.4,1085.1 L1777.9,1083.3 L1780.3,1081.4 L1782.8,1079.3 L1785.3,1077.1 L1787.7,1074.9 L1790.2,1072.7 L1792.7,1070.6 L1795.1,1068.6 L1797.6,1066.9 L1800.1,1065.3 L1802.5,1063.9 L1805.0,1062.4 L1807.5,1061.0 L1809.9,1059.6 L1812.4,1058.2 L1814.9,1056.9 L1817.3,1055.6 L1819.8,1054.4 L1822.3,1053.2 L1824.7,1052.2 L1827.2,1051.3 L1829.7,1050.4 L1832.1,1049.8 L1834.6,1049.2 L1837.1,1048.8 L1839.5,1048.6 L1842.0,1048.3 L1844.5,1048.0 L1846.9,1047.7 L1849.4,1047.5 L1851.9,1047.3 L1854.3,1047.0 L1856.8,1046.8 L1859.3,1046.6 L1861.7,1046.5 L1864.2,1046.3 L1866.7,1046.1 L1869.1,1046.0 L1871.6,1045.9 L1874.0,1045.8 L1876.5,1045.7 L1879.0,1045.6 L1881.4,1045.6 L1883.9,1045.6 L1886.4,1045.6 L1888.8,1045.6 L1891.3,1045.7 L1893.8,1045.8 L1896.2,1046.0 L1898.7,1046.2 L1901.2,1046.5 L1903.6,1046.8 L1906.1,1047.2 L1908.6,1047.6 L1911.0,1048.0 L1913.5,1048.4 L1916.0,1048.9 L1918.4,1049.4 L1920.9,1049.9 L1923.4,1050.4 L1925.8,1050.9 L1928.3,1051.4 L1930.8,1052.0 L1933.2,1052.5 L1935.7,1053.0 L1938.2,1053.5 L1940.6,1054.0 L1943.1,1054.5 L1945.6,1055.0 L1948.0,1055.4 L1950.5,1055.9 L1953.0,1056.3 L1955.4,1056.7 L1957.9,1057.1 L1960.4,1057.5 L1962.8,1057.9 L1965.3,1058.4 L1967.8,1058.8 L1970.2,1059.3 L1972.7,1059.8 L1975.2,1060.3 L1977.6,1060.8 L1980.1,1061.4 L1982.6,1062.0 L1985.0,1062.7 L1987.5,1063.5 L1990.0,1064.4 L1992.4,1065.4 L1994.9,1066.4 L1997.3,1067.5 L1999.8,1068.6 L2002.3,1069.7 L2004.7,1070.9 L2007.2,1072.0 L2009.7,1073.1 L2012.1,1074.1 L2014.6,1075.1 L2017.1,1076.0 L2019.5,1076.8 L2022.0,1077.7 L2024.5,1078.5 L2026.9,1079.3 L2029.4,1080.1 L2031.9,1080.9 L2034.3,1081.6 L2036.8,1082.4 L2039.3,1083.1 L2041.7,1083.8 L2044.2,1084.6 L2046.7,1085.3 L2049.1,1086.0 L2051.6,1086.7 L2054.1,1087.4 L2056.5,1088.1 L2059.0,1088.8 L2061.5,1089.4 L2063.9,1090.1 L2066.4,1090.8 L2068.9,1091.4 L2071.3,1092.1 L2073.8,1092.8 L2076.3,1093.4 L2078.7,1094.0 L2081.2,1094.7 L2083.7,1095.3 L2086.1,1095.9 L2088.6,1096.5 L2091.1,1097.2 L2093.5,1097.8 L2096.0,1098.4 L2098.5,1098.9 L2100.9,1099.5 L2103.4,1100.1 L2105.9,1100.7 L2108.3,1101.2 L2110.8,1101.8 L2113.3,1102.3 L2115.7,1102.9 L2118.2,1103.4 L2120.6,1103.9 L2123.1,1104.5 L2125.6,1105.0 L2128.0,1105.5 L2130.5,1106.0 L2133.0,1106.5 L2135.4,1107.0 L2137.9,1107.5 L2140.4,1108.0 L2142.8,1108.5 L2145.3,1109.0 L2147.8,1109.4 L2150.2,1109.9 L2152.7,1110.4 L2155.2,1110.9 L2157.6,1111.4 L2160.1,1111.8 L2162.6,1112.3 L2165.0,1112.8 L2167.5,1113.2 L2170.0,1113.7 L2172.4,1114.2 L2174.9,1114.6 L2177.4,1115.1 L2179.8,1115.6 L2182.3,1116.0 L2184.8,1116.5 L2187.2,1116.9 L2189.7,1117.4 L2192.2,1117.8 L2194.6,1118.2 L2197.1,1118.7 L2199.6,1119.1 L2202.0,1119.5 L2204.5,1120.0 L2207.0,1120.4 L2209.4,1120.8 L2211.9,1121.2 L2214.4,1121.6 L2216.8,1122.1 L2219.3,1122.5 L2221.8,1122.9 L2224.2,1123.3 L2226.7,1123.7 L2229.2,1124.1 L2231.6,1124.5 L2234.1,1125.0 L2236.6,1125.4 L2239.0,1125.8 L2241.5,1126.1 L2243.9,1126.5 L2246.4,1126.9 L2248.9,1127.3 L2251.3,1127.7 L2253.8,1128.0 L2256.3,1128.4 L2258.7,1128.8 L2261.2,1129.1 L2263.7,1129.5 L2266.1,1129.8 L2268.6,1130.1 L2271.1,1130.5 L2273.5,1130.8 L2276.0,1131.1 L2278.5,1131.4 L2280.9,1131.7 L2283.4,1132.0 L2285.9,1132.4 L2288.3,1132.7 L2290.8,1133.0 L2293.3,1133.3 L2295.7,1133.6 L2298.2,1133.9 L2300.7,1134.1 L2303.1,1134.4 L2305.6,1134.7 L2308.1,1135.0 L2310.5,1135.3 L2313.0,1135.6 L2315.5,1135.8 L2317.9,1136.1 L2320.4,1136.4 L2322.9,1136.6 L2325.3,1136.9 L2327.8,1137.2 L2330.3,1137.4 L2332.7,1137.7 L2335.2,1137.9 L2337.7,1138.2 L2340.1,1138.4 L2342.6,1138.7 L2345.1,1138.9 L2347.5,1139.2 L2350.0,1139.4 L2352.5,1139.7 L2354.9,1139.9 L2357.4,1140.2 L2359.9,1140.4 L2362.3,1140.6 L2364.8,1140.9 L2367.2,1141.1 L2369.7,1141.3 L2372.2,1141.6 L2374.6,1141.8 L2377.1,1142.0 L2379.6,1142.2 L2382.0,1142.4 L2384.5,1142.7 L2387.0,1142.9 L2389.4,1143.1 L2391.9,1143.3 L2394.4,1143.5 L2396.8,1143.7 L2399.3,1143.9 L2401.8,1144.1 L2404.2,1144.3 L2406.7,1144.4 L2409.2,1144.6 L2411.6,1144.8 L2414.1,1145.0 L2416.6,1145.1 L2419.0,1145.3 L2421.5,1145.4 L2424.0,1145.6 L2426.4,1145.8 L2428.9,1145.9" fill="none" stroke="#d2d2ff" stroke-width="12" stroke-linejoin="round" opacity="0.6"/>
<path d="M209.5,1157.4 L212.0,1157.4 L214.4,1157.3 L216.9,1157.3 L219.4,1157.2 L221.8,1157.2 L224.3,1157.1 L226.8,1157.1 L229.2,1157.0 L231.7,1156.9 L234.2,1156.9 L236.6,1156.8 L239.1,1156.8 L241.6,1156.7 L244.0,1156.7 L246.5,1156.6 L249.0,1156.5 L251.4,1156.5 L253.9,1156.4 L256.4,1156.3 L258.8,1156.3 L261.3,1156.2 L263.8,1156.2 L266.2,1156.1 L268.7,1156.0 L271.1,1156.0 L273.6,1155.9 L276.1,1155.8 L278.5,1155.8 L281.0,1155.7 L283.5,1155.6 L285.9,1155.5 L288.4,1155.5 L290.9,1155.4 L293.3,1155.3 L295.8,1155.3 L298.3,1155.2 L300.7,1155.1 L303.2,1155.0 L305.7,1155.0 L308.1,1154.9 L310.6,1154.8 L313.1,1154.7 L315.5,1154.7 L318.0,1154.6 L320.5,1154.5 L322.9,1154.4 L325.4,1154.4 L327.9,1154.3 L330.3,1154.2 L332.8,1154.1 L335.3,1154.1 L337.7,1154.0 L340.2,1153.9 L342.7,1153.8 L345.1,1153.7 L347.6,1153.6 L350.1,1153.5 L352.5,1153.5 L355.0,1153.4 L357.5,1153.3 L359.9,1153.2 L362.4,1153.1 L364.9,1153.0 L367.3,1152.9 L369.8,1152.8 L372.3,1152.7 L374.7,1152.6 L377.2,1152.5 L379.7,1152.4 L382.1,1152.3 L384.6,1152.2 L387.1,1152.1 L389.5,1152.0 L392.0,1151.9 L394.4,1151.8 L396.9,1151.7 L399.4,1151.6 L401.8,1151.5 L404.3,1151.4 L406.8,1151.3 L409.2,1151.2 L411.7,1151.1 L414.2,1150.9 L416.6,1150.8 L419.1,1150.7 L421.6,1150.6 L424.0,1150.5 L426.5,1150.4 L429.0,1150.3 L431.4,1150.2 L433.9,1150.1 L436.4,1150.0 L438.8,1149.9 L441.3,1149.8 L443.8,1149.7 L446.2,1149.6 L448.7,1149.5 L451.2,1149.4 L453.6,1149.3 L456.1,1149.2 L458.6,1149.1 L461.0,1149.0 L463.5,1148.9 L466.0,1148.8 L468.4,1148.7 L470.9,1148.6 L473.4,1148.5 L475.8,1148.4 L478.3,1148.3 L480.8,1148.2 L483.2,1148.2 L485.7,1148.1 L488.2,1148.0 L490.6,1147.9 L493.1,1147.8 L495.6,1147.7 L498.0,1147.6 L500.5,1147.5 L503.0,1147.4 L505.4,1147.3 L507.9,1147.2 L510.4,1147.2 L512.8,1147.1 L515.3,1147.0 L517.8,1146.9 L520.2,1146.8 L522.7,1146.7 L525.1,1146.6 L527.6,1146.5 L530.1,1146.4 L532.5,1146.3 L535.0,1146.2 L537.5,1146.1 L539.9,1146.0 L542.4,1145.9 L544.9,1145.8 L547.3,1145.7 L549.8,1145.6 L552.3,1145.5 L554.7,1145.4 L557.2,1145.3 L559.7,1145.2 L562.1,1145.1 L564.6,1145.0 L567.1,1144.9 L569.5,1144.7 L572.0,1144.6 L574.5,1144.5 L576.9,1144.4 L579.4,1144.3 L581.9,1144.1 L584.3,1144.0 L586.8,1143.9 L589.3,1143.8 L591.7,1143.6 L594.2,1143.5 L596.7,1143.4 L599.1,1143.2 L601.6,1143.1 L604.1,1143.0 L606.5,1142.8 L609.0,1142.7 L611.5,1142.6 L613.9,1142.4 L616.4,1142.3 L618.9,1142.1 L621.3,1142.0 L623.8,1141.9 L626.3,1141.7 L628.7,1141.6 L631.2,1141.4 L633.7,1141.3 L636.1,1141.1 L638.6,1140.9 L641.0,1140.8 L643.5,1140.6 L646.0,1140.5 L648.4,1140.3 L650.9,1140.1 L653.4,1140.0 L655.8,1139.8 L658.3,1139.6 L660.8,1139.4 L663.2,1139.3 L665.7,1139.1 L668.2,1138.9 L670.6,1138.7 L673.1,1138.5 L675.6,1138.3 L678.0,1138.1 L680.5,1137.9 L683.0,1137.7 L685.4,1137.5 L687.9,1137.3 L690.4,1137.1 L692.8,1136.9 L695.3,1136.7 L697.8,1136.5 L700.2,1136.3 L702.7,1136.0 L705.2,1135.8 L707.6,1135.6 L710.1,1135.3 L712.6,1135.1 L715.0,1134.8 L717.5,1134.5 L720.0,1134.2 L722.4,1134.0 L724.9,1133.7 L727.4,1133.4 L729.8,1133.1 L732.3,1132.7 L734.8,1132.4 L737.2,1132.1 L739.7,1131.8 L742.2,1131.4 L744.6,1131.1 L747.1,1130.7 L749.6,1130.4 L752.0,1130.0 L754.5,1129.6 L757.0,1129.3 L759.4,1128.9 L761.9,1128.5 L764.4,1128.1 L766.8,1127.7 L769.3,1127.4 L771.7,1127.0 L774.2,1126.6 L776.7,1126.2 L779.1,1125.8 L781.6,1125.3 L784.1,1124.9 L786.5,1124.4 L789.0,1124.0 L791.5,1123.5 L793.9,1123.0 L796.4,1122.5 L798.9,1122.0 L801.3,1121.5 L803.8,1121.0 L806.3,1120.4 L808.7,1119.9 L811.2,1119.4 L813.7,1118.9 L816.1,1118.3 L818.6,1117.8 L821.1,1117.3 L823.5,1116.8 L826.0,1116.3 L828.5,1115.8 L830.9,1115.3 L833.4,1114.9 L835.9,1114.4 L838.3,1113.9 L840.8,1113.5 L843.3,1113.0 L845.7,1112.5 L848.2,1112.0 L850.7,1111.5 L853.1,1110.9 L855.6,1110.3 L858.1,1109.7 L860.5,1109.0 L863.0,1108.3 L865.5,1107.6 L867.9,1106.8 L870.4,1105.9 L872.9,1105.0 L875.3,1104.1 L877.8,1103.2 L880.3,1102.2 L882.7,1101.2 L885.2,1100.2 L887.6,1099.2 L890.1,1098.2 L892.6,1097.1 L895.0,1096.1 L897.5,1095.0 L900.0,1093.9 L902.4,1092.9 L904.9,1091.8 L907.4,1090.8 L909.8,1089.7 L912.3,1088.7 L914.8,1087.7 L917.2,1086.7 L919.7,1085.7 L922.2,1084.8 L924.6,1083.9 L927.1,1083.0 L929.6,1082.1 L932.0,1081.3 L934.5,1080.4 L937.0,1079.5 L939.4,1078.6 L941.9,1077.6 L944.4,1076.6 L946.8,1075.6 L949.3,1074.5 L951.8,1073.3 L954.2,1072.1 L956.7,1070.7 L959.2,1069.2 L961.6,1067.5 L964.1,1065.6 L966.6,1063.6 L969.0,1061.5 L971.5,1059.3 L974.0,1057.1 L976.4,1055.0 L978.9,1053.0 L981.4,1051.0 L983.8,1049.0 L986.3,1047.0 L988.8,1045.0 L991.2,1043.1 L993.7,1041.1 L996.2,1039.1 L998.6,1037.1 L1001.1,1035.2 L1003.6,1033.2 L1006.0,1031.3 L1008.5,1029.4 L1010.9,1027.5 L1013.4,1025.6 L1015.9,1023.8 L1018.3,1022.1 L1020.8,1020.4 L1023.3,1018.6 L1025.7,1016.8 L1028.2,1015.0 L1030.7,1013.1 L1033.1,1011.0 L1035.6,1008.8 L1038.1,1006.4 L1040.5,1003.9 L1043.0,1001.3 L1045.5,998.7 L1047.9,996.1 L1050.4,993.6 L1052.9,991.3 L1055.3,989.0 L1057.8,986.9 L1060.3,984.8 L1062.7,982.7 L1065.2,980.7 L1067.7,978.6 L1070.1,976.6 L1072.6,974.6 L1075.1,972.5 L1077.5,970.4 L1080.0,968.2 L1082.5,966.0 L1084.9,963.8 L1087.4,961.6 L1089.9,959.3 L1092.3,957.0 L1094.8,954.7 L1097.3,952.4 L1099.7,950.0 L1102.2,947.6 L1104.7,945.2 L1107.1,942.7 L1109.6,940.2 L1112.1,937.5 L1114.5,934.9 L1117.0,932.2 L1119.5,929.6 L1121.9,927.0 L1124.4,924.5 L1126.9,922.2 L1129.3,920.0 L1131.8,917.8 L1134.2,915.7 L1136.7,913.7 L1139.2,911.7 L1141.6,909.7 L1144.1,907.7 L1146.6,905.7 L1149.0,903.6 L1151.5,901.4 L1154.0,899.1 L1156.4,896.8 L1158.9,894.6 L1161.4,892.6 L1163.8,890.8 L1166.3,889.4 L1168.8,888.5 L1171.2,887.7 L1173.7,887.1 L1176.2,886.4 L1178.6,885.8 L1181.1,885.3 L1183.6,884.9 L1186.0,884.6 L1188.5,884.4 L1191.0,884.4 L1193.4,884.4 L1195.9,884.5 L1198.4,884.7 L1200.8,885.0 L1203.3,885.3 L1205.8,885.6 L1208.2,886.0 L1210.7,886.5 L1213.2,887.1 L1215.6,888.0 L1218.1,889.0 L1220.6,890.2 L1223.0,891.5 L1225.5,892.9 L1228.0,894.3 L1230.4,895.9 L1232.9,897.5 L1235.4,899.2 L1237.8,900.8 L1240.3,902.5 L1242.8,904.1 L1245.2,905.7 L1247.7,907.4 L1250.2,909.1 L1252.6,910.9 L1255.1,912.8 L1257.5,914.7 L1260.0,916.7 L1262.5,918.7 L1264.9,920.8 L1267.4,923.0 L1269.9,925.1 L1272.3,927.2 L1274.8,929.4 L1277.3,931.5 L1279.7,933.7 L1282.2,935.8 L1284.7,937.9 L1287.1,939.9 L1289.6,941.9 L1292.1,943.9 L1294.5,945.8 L1297.0,947.8 L1299.5,949.7 L1301.9,951.6 L1304.4,953.5 L1306.9,955.4 L1309.3,957.3 L1311.8,959.2 L1314.3,961.1 L1316.7,963.0 L1319.2,964.9 L1321.7,966.9 L1324.1,968.8 L1326.6,970.8 L1329.1,972.8 L1331.5,974.8 L1334.0,976.9 L1336.5,979.0 L1338.9,981.1 L1341.4,983.3 L1343.9,985.5 L1346.3,987.7 L1348.8,989.9 L1351.3,992.2 L1353.7,994.4 L1356.2,996.7 L1358.7,999.0 L1361.1,1001.2 L1363.6,1003.4 L1366.1,1005.6 L1368.5,1007.8 L1371.0,1010.0 L1373.5,1012.1 L1375.9,1014.1 L1378.4,1016.2 L1380.8,1018.1 L1383.3,1020.1 L1385.8,1021.9 L1388.2,1023.8 L1390.7,1025.7 L1393.2,1027.6 L1395.6,1029.4 L1398.1,1031.2 L1400.6,1033.0 L1403.0,1034.8 L1405.5,1036.5 L1408.0,1038.3 L1410.4,1039.9 L1412.9,1041.6 L1415.4,1043.2 L1417.8,1044.7 L1420.3,1046.3 L1422.8,1047.7 L1425.2,1049.1 L1427.7,1050.5 L1430.2,1051.8 L1432.6,1053.1 L1435.1,1054.3 L1437.6,1055.5 L1440.0,1056.6 L1442.5,1057.7 L1445.0,1058.8 L1447.4,1059.9 L1449.9,1061.0 L1452.4,1062.0 L1454.8,1063.0 L1457.3,1064.1 L1459.8,1065.1 L1462.2,1066.1 L1464.7,1067.1 L1467.2,1068.1 L1469.6,1069.2 L1472.1,1070.2 L1474.6,1071.3 L1477.0,1072.4 L1479.5,1073.5 L1482.0,1074.6 L1484.4,1075.7 L1486.9,1076.8 L1489.4,1077.9 L1491.8,1079.0 L1494.3,1080.0 L1496.8,1081.1 L1499.2,1082.1 L1501.7,1083.1 L1504.1,1084.1 L1506.6,1085.0 L1509.1,1085.9 L1511.5,1086.7 L1514.0,1087.5 L1516.5,1088.2 L1518.9,1089.0 L1521.4,1089.7 L1523.9,1090.3 L1526.3,1091.0 L1528.8,1091.7 L1531.3,1092.3 L1533.7,1092.9 L1536.2,1093.5 L1538.7,1094.1 L1541.1,1094.7 L1543.6,1095.3 L1546.1,1095.9 L1548.5,1096.5 L1551.0,1097.1 L1553.5,1097.8 L1555.9,1098.4 L1558.4,1099.0 L1560.9,1099.7 L1563.3,1100.4 L1565.8,1101.1 L1568.3,1101.8 L1570.7,1102.5 L1573.2,1103.2 L1575.7,1103.9 L1578.1,1104.6 L1580.6,1105.3 L1583.1,1106.0 L1585.5,1106.7 L1588.0,1107.4 L1590.5,1108.1 L1592.9,1108.7 L1595.4,1109.3 L1597.9,1109.9 L1600.3,1110.5 L1602.8,1111.1 L1605.3,1111.6 L1607.7,1112.0 L1610.2,1112.5 L1612.7,1112.9 L1615.1,1113.4 L1617.6,1113.9 L1620.1,1114.3 L1622.5,1114.8 L1625.0,1115.2 L1627.5,1115.7 L1629.9,1116.1 L1632.4,1116.5 L1634.8,1116.9 L1637.3,1117.2 L1639.8,1117.6 L1642.2,1117.9 L1644.7,1118.1 L1647.2,1118.3 L1649.6,1118.5 L1652.1,1118.7 L1654.6,1118.7 L1657.0,1118.8 L1659.5,1118.8 L1662.0,1118.8 L1664.4,1118.8 L1666.9,1118.8 L1669.4,1118.8 L1671.8,1118.8 L1674.3,1118.8 L1676.8,1118.8 L1679.2,1118.8 L1681.7,1118.8 L1684.2,1118.8 L1686.6,1118.8 L1689.1,1118.8 L1691.6,1118.7 L1694.0,1118.5 L1696.5,1118.1 L1699.0,1117.7 L1701.4,1117.1 L1703.9,1116.4 L1706.4,1115.6 L1708.8,1114.8 L1711.3,1113.9 L1713.8,1112.9 L1716.2,1111.9 L1718.7,1110.9 L1721.2,1109.8 L1723.6,1108.7 L1726.1,1107.6 L1728.6,1106.5 L1731.0,1105.4 L1733.5,1104.3 L1736.0,1103.3 L1738.4,1102.3 L1740.9,1101.4 L1743.4,1100.4 L1745.8,1099.4 L1748.3,1098.4 L1750.8,1097.4 L1753.2,1096.4 L1755.7,1095.3 L1758.1,1094.2 L1760.6,1093.1 L1763.1,1091.9 L1765.5,1090.7 L1768.0,1089.4 L1770.5,1088.1 L1772.9,1086.7 L1775.4,1085.1 L1777.9,1083.3 L1780.3,1081.4 L1782.8,1079.3 L1785.3,1077.1 L1787.7,1074.9 L1790.2,1072.7 L1792.7,1070.6 L1795.1,1068.6 L1797.6,1066.9 L1800.1,1065.3 L1802.5,1063.9 L1805.0,1062.4 L1807.5,1061.0 L1809.9,1059.6 L1812.4,1058.2 L1814.9,1056.9 L1817.3,1055.6 L1819.8,1054.4 L1822.3,1053.2 L1824.7,1052.2 L1827.2,1051.3 L1829.7,1050.4 L1832.1,1049.8 L1834.6,1049.2 L1837.1,1048.8 L1839.5,1048.6 L1842.0,1048.3 L1844.5,1048.0 L1846.9,1047.7 L1849.4,1047.5 L1851.9,1047.3 L1854.3,1047.0 L1856.8,1046.8 L1859.3,1046.6 L1861.7,1046.5 L1864.2,1046.3 L1866.7,1046.1 L1869.1,1046.0 L1871.6,1045.9 L1874.0,1045.8 L1876.5,1045.7 L1879.0,1045.6 L1881.4,1045.6 L1883.9,1045.6 L1886.4,1045.6 L1888.8,1045.6 L1891.3,1045.7 L1893.8,1045.8 L1896.2,1046.0 L1898.7,1046.2 L1901.2,1046.5 L1903.6,1046.8 L1906.1,1047.2 L1908.6,1047.6 L1911.0,1048.0 L1913.5,1048.4 L1916.0,1048.9 L1918.4,1049.4 L1920.9,1049.9 L1923.4,1050.4 L1925.8,1050.9 L1928.3,1051.4 L1930.8,1052.0 L1933.2,1052.5 L1935.7,1053.0 L1938.2,1053.5 L1940.6,1054.0 L1943.1,1054.5 L1945.6,1055.0 L1948.0,1055.4 L1950.5,1055.9 L1953.0,1056.3 L1955.4,1056.7 L1957.9,1057.1 L1960.4,1057.5 L1962.8,1057.9 L1965.3,1058.4 L1967.8,1058.8 L1970.2,1059.3 L1972.7,1059.8 L1975.2,1060.3 L1977.6,1060.8 L1980.1,1061.4 L1982.6,1062.0 L1985.0,1062.7 L1987.5,1063.5 L1990.0,1064.4 L1992.4,1065.4 L1994.9,1066.4 L1997.3,1067.5 L1999.8,1068.6 L2002.3,1069.7 L2004.7,1070.9 L2007.2,1072.0 L2009.7,1073.1 L2012.1,1074.1 L2014.6,1075.1 L2017.1,1076.0 L2019.5,1076.8 L2022.0,1077.7 L2024.5,1078.5 L2026.9,1079.3 L2029.4,1080.1 L2031.9,1080.9 L2034.3,1081.6 L2036.8,1082.4 L2039.3,1083.1 L2041.7,1083.8 L2044.2,1084.6 L2046.7,1085.3 L2049.1,1086.0 L2051.6,1086.7 L2054.1,1087.4 L2056.5,1088.1 L2059.0,1088.8 L2061.5,1089.4 L2063.9,1090.1 L2066.4,1090.8 L2068.9,1091.4 L2071.3,1092.1 L2073.8,1092.8 L2076.3,1093.4 L2078.7,1094.0 L2081.2,1094.7 L2083.7,1095.3 L2086.1,1095.9 L2088.6,1096.5 L2091.1,1097.2 L2093.5,1097.8 L2096.0,1098.4 L2098.5,1098.9 L2100.9,1099.5 L2103.4,1100.1 L2105.9,1100.7 L2108.3,1101.2 L2110.8,1101.8 L2113.3,1102.3 L2115.7,1102.9 L2118.2,1103.4 L2120.6,1103.9 L2123.1,1104.5 L2125.6,1105.0 L2128.0,1105.5 L2130.5,1106.0 L2133.0,1106.5 L2135.4,1107.0 L2137.9,1107.5 L2140.4,1108.0 L2142.8,1108.5 L2145.3,1109.0 L2147.8,1109.4 L2150.2,1109.9 L2152.7,1110.4 L2155.2,1110.9 L2157.6,1111.4 L2160.1,1111.8 L2162.6,1112.3 L2165.0,1112.8 L2167.5,1113.2 L2170.0,1113.7 L2172.4,1114.2 L2174.9,1114.6 L2177.4,1115.1 L2179.8,1115.6 L2182.3,1116.0 L2184.8,1116.5 L2187.2,1116.9 L2189.7,1117.4 L2192.2,1117.8 L2194.6,1118.2 L2197.1,1118.7 L2199.6,1119.1 L2202.0,1119.5 L2204.5,1120.0 L2207.0,1120.4 L2209.4,1120.8 L2211.9,1121.2 L2214.4,1121.6 L2216.8,1122.1 L2219.3,1122.5 L2221.8,1122.9 L2224.2,1123.3 L2226.7,1123.7 L2229.2,1124.1 L2231.6,1124.5 L2234.1,1125.0 L2236.6,1125.4 L2239.0,1125.8 L2241.5,1126.1 L2243.9,1126.5 L2246.4,1126.9 L2248.9,1127.3 L2251.3,1127.7 L2253.8,1128.0 L2256.3,1128.4 L2258.7,1128.8 L2261.2,1129.1 L2263.7,1129.5 L2266.1,1129.8 L2268.6,1130.1 L2271.1,1130.5 L2273.5,1130.8 L2276.0,1131.1 L2278.5,1131.4 L2280.9,1131.7 L2283.4,1132.0 L2285.9,1132.4 L2288.3,1132.7 L2290.8,1133.0 L2293.3,1133.3 L2295.7,1133.6 L2298.2,1133.9 L2300.7,1134.1 L2303.1,1134.4 L2305.6,1134.7 L2308.1,1135.0 L2310.5,1135.3 L2313.0,1135.6 L2315.5,1135.8 L2317.9,1136.1 L2320.4,1136.4 L2322.9,1136.6 L2325.3,1136.9 L2327.8,1137.2 L2330.3,1137.4 L2332.7,1137.7 L2335.2,1137.9 L2337.7,1138.2 L2340.1,1138.4 L2342.6,1138.7 L2345.1,1138.9 L2347.5,1139.2 L2350.0,1139.4 L2352.5,1139.7 L2354.9,1139.9 L2357.4,1140.2 L2359.9,1140.4 L2362.3,1140.6 L2364.8,1140.9 L2367.2,1141.1 L2369.7,1141.3 L2372.2,1141.6 L2374.6,1141.8 L2377.1,1142.0 L2379.6,1142.2 L2382.0,1142.4 L2384.5,1142.7 L2387.0,1142.9 L2389.4,1143.1 L2391.9,1143.3 L2394.4,1143.5 L2396.8,1143.7 L2399.3,1143.9 L2401.8,1144.1 L2404.2,1144.3 L2406.7,1144.4 L2409.2,1144.6 L2411.6,1144.8 L2414.1,1145.0 L2416.6,1145.1 L2419.0,1145.3 L2421.5,1145.4 L2424.0,1145.6 L2426.4,1145.8 L2428.9,1145.9" fill="none" stroke="#6c6cff" stroke-width="7" stroke-linejoin="round"/>
<g fill="#dcefdc" stroke="none"><circle cx="209.5" cy="1797.1" r="16.5"/><circle cx="332.8" cy="1797.1" r="16.5"/><circle cx="456.1" cy="1797.1" r="16.5"/><circle cx="579.4" cy="1788.9" r="16.5"/><circle cx="702.7" cy="1787.3" r="16.5"/><circle cx="826.0" cy="1784.0" r="16.5"/><circle cx="949.3" cy="1775.0" r="16.5"/><circle cx="1072.6" cy="1760.3" r="16.5"/><circle cx="1119.5" cy="1726.0" r="16.5"/><circle cx="1139.2" cy="1680.2" r="16.5"/><circle cx="1156.4" cy="1644.2" r="16.5"/><circle cx="1176.2" cy="1618.1" r="16.5"/><circle cx="1195.9" cy="1610.7" r="16.5"/><circle cx="1220.6" cy="1608.3" r="16.5"/><circle cx="1245.2" cy="1610.7" r="16.5"/><circle cx="1269.9" cy="1618.3" r="16.5"/><circle cx="1294.5" cy="1628.6" r="16.5"/><circle cx="1319.2" cy="1637.2" r="16.5"/><circle cx="1343.9" cy="1645.6" r="16.5"/><circle cx="1368.5" cy="1654.2" r="16.5"/><circle cx="1393.2" cy="1663.5" r="16.5"/><circle cx="1417.8" cy="1672.3" r="16.5"/><circle cx="1442.5" cy="1679.2" r="16.5"/><circle cx="1467.2" cy="1684.9" r="16.5"/><circle cx="1491.8" cy="1690.3" r="16.5"/><circle cx="1516.5" cy="1695.8" r="16.5"/><circle cx="1541.1" cy="1701.1" r="16.5"/><circle cx="1565.8" cy="1706.3" r="16.5"/><circle cx="1590.5" cy="1711.3" r="16.5"/><circle cx="1615.1" cy="1716.1" r="16.5"/><circle cx="1639.8" cy="1720.3" r="16.5"/><circle cx="1664.4" cy="1724.3" r="16.5"/><circle cx="1689.1" cy="1727.6" r="16.5"/><circle cx="1713.8" cy="1730.1" r="16.5"/><circle cx="1738.4" cy="1732.3" r="16.5"/><circle cx="1763.1" cy="1735.1" r="16.5"/><circle cx="1787.7" cy="1738.7" r="16.5"/><circle cx="1812.4" cy="1742.8" r="16.5"/><circle cx="1837.1" cy="1747.6" r="16.5"/><circle cx="1861.7" cy="1752.1" r="16.5"/><circle cx="1886.4" cy="1756.2" r="16.5"/><circle cx="1911.0" cy="1760.2" r="16.5"/><circle cx="1935.7" cy="1763.8" r="16.5"/><circle cx="1960.4" cy="1766.9" r="16.5"/><circle cx="1985.0" cy="1769.4" r="16.5"/><circle cx="2009.7" cy="1771.7" r="16.5"/><circle cx="2034.3" cy="1773.8" r="16.5"/><circle cx="2059.0" cy="1775.7" r="16.5"/><circle cx="2083.7" cy="1777.5" r="16.5"/><circle cx="2108.3" cy="1779.1" r="16.5"/><circle cx="2133.0" cy="1780.8" r="16.5"/><circle cx="2157.6" cy="1783.0" r="16.5"/><circle cx="2182.3" cy="1784.8" r="16.5"/><circle cx="2231.6" cy="1786.5" r="16.5"/><circle cx="2280.9" cy="1788.1" r="16.5"/><circle cx="2330.3" cy="1788.1" r="16.5"/><circle cx="2428.9" cy="1797.1" r="16.5"/></g>
<path d="M209.5,1797.1 L332.8,1797.1 L456.1,1797.1 L579.4,1788.9 L702.7,1787.3 L826.0,1784.0 L949.3,1775.0 L1072.6,1760.3 L1119.5,1726.0 L1139.2,1680.2 L1156.4,1644.2 L1176.2,1618.1 L1195.9,1610.7 L1220.6,1608.3 L1245.2,1610.7 L1269.9,1618.3 L1294.5,1628.6 L1319.2,1637.2 L1343.9,1645.6 L1368.5,1654.2 L1393.2,1663.5 L1417.8,1672.3 L1442.5,1679.2 L1467.2,1684.9 L1491.8,1690.3 L1516.5,1695.8 L1541.1,1701.1 L1565.8,1706.3 L1590.5,1711.3 L1615.1,1716.1 L1639.8,1720.3 L1664.4,1724.3 L1689.1,1727.6 L1713.8,1730.1 L1738.4,1732.3 L1763.1,1735.1 L1787.7,1738.7 L1812.4,1742.8 L1837.1,1747.6 L1861.7,1752.1 L1886.4,1756.2 L1911.0,1760.2 L1935.7,1763.8 L1960.4,1766.9 L1985.0,1769.4 L2009.7,1771.7 L2034.3,1773.8 L2059.0,1775.7 L2083.7,1777.5 L2108.3,1779.1 L2133.0,1780.8 L2157.6,1783.0 L2182.3,1784.8 L2231.6,1786.5 L2280.9,1788.1 L2330.3,1788.1 L2428.9,1797.1" fill="none" stroke="#a6d6a6" stroke-width="9" stroke-linejoin="round"/>
<g fill="none" stroke="#a6d6a6" stroke-width="10"><circle cx="209.5" cy="1797.1" r="16.5"/><circle cx="332.8" cy="1797.1" r="16.5"/><circle cx="456.1" cy="1797.1" r="16.5"/><circle cx="579.4" cy="1788.9" r="16.5"/><circle cx="702.7" cy="1787.3" r="16.5"/><circle cx="826.0" cy="1784.0" r="16.5"/><circle cx="949.3" cy="1775.0" r="16.5"/><circle cx="1072.6" cy="1760.3" r="16.5"/><circle cx="1119.5" cy="1726.0" r="16.5"/><circle cx="1139.2" cy="1680.2" r="16.5"/><circle cx="1156.4" cy="1644.2" r="16.5"/><circle cx="1176.2" cy="1618.1" r="16.5"/><circle cx="1195.9" cy="1610.7" r="16.5"/><circle cx="1220.6" cy="1608.3" r="16.5"/><circle cx="1245.2" cy="1610.7" r="16.5"/><circle cx="1269.9" cy="1618.3" r="16.5"/><circle cx="1294.5" cy="1628.6" r="16.5"/><circle cx="1319.2" cy="1637.2" r="16.5"/><circle cx="1343.9" cy="1645.6" r="16.5"/><circle cx="1368.5" cy="1654.2" r="16.5"/><circle cx="1393.2" cy="1663.5" r="16.5"/><circle cx="1417.8" cy="1672.3" r="16.5"/><circle cx="1442.5" cy="1679.2" r="16.5"/><circle cx="1467.2" cy="1684.9" r="16.5"/><circle cx="1491.8" cy="1690.3" r="16.5"/><circle cx="1516.5" cy="1695.8" r="16.5"/><circle cx="1541.1" cy="1701.1" r="16.5"/><circle cx="1565.8" cy="1706.3" r="16.5"/><circle cx="1590.5" cy="1711.3" r="16.5"/><circle cx="1615.1" cy="1716.1" r="16.5"/><circle cx="1639.8" cy="1720.3" r="16.5"/><circle cx="1664.4" cy="1724.3" r="16.5"/><circle cx="1689.1" cy="1727.6" r="16.5"/><circle cx="1713.8" cy="1730.1" r="16.5"/><circle cx="1738.4" cy="1732.3" r="16.5"/><circle cx="1763.1" cy="1735.1" r="16.5"/><circle cx="1787.7" cy="1738.7" r="16.5"/><circle cx="1812.4" cy="1742.8" r="16.5"/><circle cx="1837.1" cy="1747.6" r="16.5"/><circle cx="1861.7" cy="1752.1" r="16.5"/><circle cx="1886.4" cy="1756.2" r="16.5"/><circle cx="1911.0" cy="1760.2" r="16.5"/><circle cx="1935.7" cy="1763.8" r="16.5"/><circle cx="1960.4" cy="1766.9" r="16.5"/><circle cx="1985.0" cy="1769.4" r="16.5"/><circle cx="2009.7" cy="1771.7" r="16.5"/><circle cx="2034.3" cy="1773.8" r="16.5"/><circle cx="2059.0" cy="1775.7" r="16.5"/><circle cx="2083.7" cy="1777.5" r="16.5"/><circle cx="2108.3" cy="1779.1" r="16.5"/><circle cx="2133.0" cy="1780.8" r="16.5"/><circle cx="2157.6" cy="1783.0" r="16.5"/><circle cx="2182.3" cy="1784.8" r="16.5"/><circle cx="2231.6" cy="1786.5" r="16.5"/><circle cx="2280.9" cy="1788.1" r="16.5"/><circle cx="2330.3" cy="1788.1" r="16.5"/><circle cx="2428.9" cy="1797.1" r="16.5"/></g>
<path d="M209.5,1797.1 L332.8,1797.1 L456.1,1797.1 L579.4,1788.9 L702.7,1787.3 L826.0,1784.0 L949.3,1775.0 L1072.6,1760.3 L1119.5,1726.0 L1139.2,1680.2 L1156.4,1644.2 L1176.2,1618.1 L1195.9,1610.7 L1220.6,1608.3 L1245.2,1610.7 L1269.9,1618.3 L1294.5,1628.6 L1319.2,1637.2 L1343.9,1645.6 L1368.5,1654.2 L1393.2,1663.5 L1417.8,1672.3 L1442.5,1679.2 L1467.2,1684.9 L1491.8,1690.3 L1516.5,1695.8 L1541.1,1701.1 L1565.8,1706.3 L1590.5,1711.3 L1615.1,1716.1 L1639.8,1720.3 L1664.4,1724.3 L1689.1,1727.6 L1713.8,1730.1 L1738.4,1732.3 L1763.1,1735.1 L1787.7,1738.7 L1812.4,1742.8 L1837.1,1747.6 L1861.7,1752.1 L1886.4,1756.2 L1911.0,1760.2 L1935.7,1763.8 L1960.4,1766.9 L1985.0,1769.4 L2009.7,1771.7 L2034.3,1773.8 L2059.0,1775.7 L2083.7,1777.5 L2108.3,1779.1 L2133.0,1780.8 L2157.6,1783.0 L2182.3,1784.8 L2231.6,1786.5 L2280.9,1788.1 L2330.3,1788.1 L2428.9,1797.1" fill="none" stroke="#3f9f3f" stroke-width="5" stroke-linejoin="round"/>
<g fill="none" stroke="#3f9f3f" stroke-width="5"><circle cx="209.5" cy="1797.1" r="16.5"/><circle cx="332.8" cy="1797.1" r="16.5"/><circle cx="456.1" cy="1797.1" r="16.5"/><circle cx="579.4" cy="1788.9" r="16.5"/><circle cx="702.7" cy="1787.3" r="16.5"/><circle cx="826.0" cy="1784.0" r="16.5"/><circle cx="949.3" cy="1775.0" r="16.5"/><circle cx="1072.6" cy="1760.3" r="16.5"/><circle cx="1119.5" cy="1726.0" r="16.5"/><circle cx="1139.2" cy="1680.2" r="16.5"/><circle cx="1156.4" cy="1644.2" r="16.5"/><circle cx="1176.2" cy="1618.1" r="16.5"/><circle cx="1195.9" cy="1610.7" r="16.5"/><circle cx="1220.6" cy="1608.3" r="16.5"/><circle cx="1245.2" cy="1610.7" r="16.5"/><circle cx="1269.9" cy="1618.3" r="16.5"/><circle cx="1294.5" cy="1628.6" r="16.5"/><circle cx="1319.2" cy="1637.2" r="16.5"/><circle cx="1343.9" cy="1645.6" r="16.5"/><circle cx="1368.5" cy="1654.2" r="16.5"/><circle cx="1393.2" cy="1663.5" r="16.5"/><circle cx="1417.8" cy="1672.3" r="16.5"/><circle cx="1442.5" cy="1679.2" r="16.5"/><circle cx="1467.2" cy="1684.9" r="16.5"/><circle cx="1491.8" cy="1690.3" r="16.5"/><circle cx="1516.5" cy="1695.8" r="16.5"/><circle cx="1541.1" cy="1701.1" r="16.5"/><circle cx="1565.8" cy="1706.3" r="16.5"/><circle cx="1590.5" cy="1711.3" r="16.5"/><circle cx="1615.1" cy="1716.1" r="16.5"/><circle cx="1639.8" cy="1720.3" r="16.5"/><circle cx="1664.4" cy="1724.3" r="16.5"/><circle cx="1689.1" cy="1727.6" r="16.5"/><circle cx="1713.8" cy="1730.1" r="16.5"/><circle cx="1738.4" cy="1732.3" r="16.5"/><circle cx="1763.1" cy="1735.1" r="16.5"/><circle cx="1787.7" cy="1738.7" r="16.5"/><circle cx="1812.4" cy="1742.8" r="16.5"/><circle cx="1837.1" cy="1747.6" r="16.5"/><circle cx="1861.7" cy="1752.1" r="16.5"/><circle cx="1886.4" cy="1756.2" r="16.5"/><circle cx="1911.0" cy="1760.2" r="16.5"/><circle cx="1935.7" cy="1763.8" r="16.5"/><circle cx="1960.4" cy="1766.9" r="16.5"/><circle cx="1985.0" cy="1769.4" r="16.5"/><circle cx="2009.7" cy="1771.7" r="16.5"/><circle cx="2034.3" cy="1773.8" r="16.5"/><circle cx="2059.0" cy="1775.7" r="16.5"/><circle cx="2083.7" cy="1777.5" r="16.5"/><circle cx="2108.3" cy="1779.1" r="16.5"/><circle cx="2133.0" cy="1780.8" r="16.5"/><circle cx="2157.6" cy="1783.0" r="16.5"/><circle cx="2182.3" cy="1784.8" r="16.5"/><circle cx="2231.6" cy="1786.5" r="16.5"/><circle cx="2280.9" cy="1788.1" r="16.5"/><circle cx="2330.3" cy="1788.1" r="16.5"/><circle cx="2428.9" cy="1797.1" r="16.5"/></g>
<path d="M209.5,1807.7 L212.0,1807.7 L214.4,1807.7 L216.9,1807.7 L219.4,1807.7 L221.8,1807.7 L224.3,1807.7 L226.8,1807.7 L229.2,1807.7 L231.7,1807.6 L234.2,1807.6 L236.6,1807.6 L239.1,1807.6 L241.6,1807.6 L244.0,1807.6 L246.5,1807.6 L249.0,1807.5 L251.4,1807.5 L253.9,1807.5 L256.4,1807.5 L258.8,1807.5 L261.3,1807.5 L263.8,1807.5 L266.2,1807.4 L268.7,1807.4 L271.1,1807.4 L273.6,1807.4 L276.1,1807.4 L278.5,1807.4 L281.0,1807.3 L283.5,1807.3 L285.9,1807.3 L288.4,1807.3 L290.9,1807.3 L293.3,1807.2 L295.8,1807.2 L298.3,1807.2 L300.7,1807.2 L303.2,1807.2 L305.7,1807.1 L308.1,1807.1 L310.6,1807.1 L313.1,1807.1 L315.5,1807.1 L318.0,1807.0 L320.5,1807.0 L322.9,1807.0 L325.4,1807.0 L327.9,1807.0 L330.3,1806.9 L332.8,1806.9 L335.3,1806.9 L337.7,1806.9 L340.2,1806.8 L342.7,1806.8 L345.1,1806.8 L347.6,1806.8 L350.1,1806.7 L352.5,1806.7 L355.0,1806.7 L357.5,1806.7 L359.9,1806.6 L362.4,1806.6 L364.9,1806.6 L367.3,1806.6 L369.8,1806.5 L372.3,1806.5 L374.7,1806.5 L377.2,1806.4 L379.7,1806.4 L382.1,1806.4 L384.6,1806.3 L387.1,1806.3 L389.5,1806.3 L392.0,1806.2 L394.4,1806.2 L396.9,1806.2 L399.4,1806.1 L401.8,1806.1 L404.3,1806.1 L406.8,1806.0 L409.2,1806.0 L411.7,1806.0 L414.2,1805.9 L416.6,1805.9 L419.1,1805.9 L421.6,1805.8 L424.0,1805.8 L426.5,1805.7 L429.0,1805.7 L431.4,1805.7 L433.9,1805.6 L436.4,1805.6 L438.8,1805.5 L441.3,1805.5 L443.8,1805.5 L446.2,1805.4 L448.7,1805.4 L451.2,1805.4 L453.6,1805.3 L456.1,1805.3 L458.6,1805.2 L461.0,1805.2 L463.5,1805.2 L466.0,1805.1 L468.4,1805.1 L470.9,1805.1 L473.4,1805.0 L475.8,1805.0 L478.3,1804.9 L480.8,1804.9 L483.2,1804.9 L485.7,1804.8 L488.2,1804.8 L490.6,1804.8 L493.1,1804.7 L495.6,1804.7 L498.0,1804.7 L500.5,1804.6 L503.0,1804.6 L505.4,1804.5 L507.9,1804.5 L510.4,1804.5 L512.8,1804.4 L515.3,1804.4 L517.8,1804.3 L520.2,1804.3 L522.7,1804.3 L525.1,1804.2 L527.6,1804.2 L530.1,1804.1 L532.5,1804.1 L535.0,1804.0 L537.5,1804.0 L539.9,1803.9 L542.4,1803.9 L544.9,1803.8 L547.3,1803.8 L549.8,1803.7 L552.3,1803.6 L554.7,1803.6 L557.2,1803.5 L559.7,1803.4 L562.1,1803.4 L564.6,1803.3 L567.1,1803.2 L569.5,1803.2 L572.0,1803.1 L574.5,1803.0 L576.9,1802.9 L579.4,1802.8 L581.9,1802.7 L584.3,1802.6 L586.8,1802.5 L589.3,1802.3 L591.7,1802.1 L594.2,1802.0 L596.7,1801.8 L599.1,1801.5 L601.6,1801.3 L604.1,1801.1 L606.5,1800.8 L609.0,1800.6 L611.5,1800.3 L613.9,1800.0 L616.4,1799.7 L618.9,1799.5 L621.3,1799.2 L623.8,1798.9 L626.3,1798.6 L628.7,1798.3 L631.2,1798.0 L633.7,1797.7 L636.1,1797.4 L638.6,1797.1 L641.0,1796.8 L643.5,1796.5 L646.0,1796.2 L648.4,1796.0 L650.9,1795.7 L653.4,1795.5 L655.8,1795.2 L658.3,1795.0 L660.8,1794.8 L663.2,1794.5 L665.7,1794.3 L668.2,1794.1 L670.6,1793.9 L673.1,1793.6 L675.6,1793.4 L678.0,1793.2 L680.5,1793.0 L683.0,1792.7 L685.4,1792.5 L687.9,1792.2 L690.4,1792.0 L692.8,1791.7 L695.3,1791.5 L697.8,1791.2 L700.2,1790.9 L702.7,1790.6 L705.2,1790.2 L707.6,1789.8 L710.1,1789.4 L712.6,1788.9 L715.0,1788.4 L717.5,1787.9 L720.0,1787.4 L722.4,1786.9 L724.9,1786.3 L727.4,1785.8 L729.8,1785.2 L732.3,1784.7 L734.8,1784.2 L737.2,1783.7 L739.7,1783.2 L742.2,1782.8 L744.6,1782.4 L747.1,1782.1 L749.6,1781.8 L752.0,1781.6 L754.5,1781.4 L757.0,1781.2 L759.4,1781.1 L761.9,1780.9 L764.4,1780.8 L766.8,1780.7 L769.3,1780.6 L771.7,1780.5 L774.2,1780.4 L776.7,1780.3 L779.1,1780.2 L781.6,1780.1 L784.1,1780.0 L786.5,1779.9 L789.0,1779.8 L791.5,1779.7 L793.9,1779.6 L796.4,1779.4 L798.9,1779.3 L801.3,1779.1 L803.8,1778.9 L806.3,1778.7 L808.7,1778.5 L811.2,1778.2 L813.7,1778.0 L816.1,1777.7 L818.6,1777.4 L821.1,1777.1 L823.5,1776.7 L826.0,1776.4 L828.5,1776.0 L830.9,1775.7 L833.4,1775.3 L835.9,1774.9 L838.3,1774.5 L840.8,1774.2 L843.3,1773.8 L845.7,1773.4 L848.2,1773.0 L850.7,1772.6 L853.1,1772.2 L855.6,1771.7 L858.1,1771.3 L860.5,1770.8 L863.0,1770.3 L865.5,1769.8 L867.9,1769.3 L870.4,1768.8 L872.9,1768.3 L875.3,1767.7 L877.8,1767.2 L880.3,1766.7 L882.7,1766.2 L885.2,1765.7 L887.6,1765.2 L890.1,1764.8 L892.6,1764.3 L895.0,1763.9 L897.5,1763.5 L900.0,1763.1 L902.4,1762.8 L904.9,1762.4 L907.4,1762.0 L909.8,1761.6 L912.3,1761.2 L914.8,1760.8 L917.2,1760.4 L919.7,1759.9 L922.2,1759.4 L924.6,1758.9 L927.1,1758.3 L929.6,1757.7 L932.0,1757.0 L934.5,1756.3 L937.0,1755.4 L939.4,1754.3 L941.9,1753.2 L944.4,1752.0 L946.8,1750.6 L949.3,1749.3 L951.8,1747.8 L954.2,1746.4 L956.7,1744.9 L959.2,1743.5 L961.6,1742.1 L964.1,1740.7 L966.6,1739.3 L969.0,1737.8 L971.5,1736.4 L974.0,1734.8 L976.4,1733.3 L978.9,1731.8 L981.4,1730.4 L983.8,1728.9 L986.3,1727.6 L988.8,1726.4 L991.2,1725.2 L993.7,1724.0 L996.2,1722.9 L998.6,1721.9 L1001.1,1720.8 L1003.6,1719.7 L1006.0,1718.6 L1008.5,1717.4 L1010.9,1716.2 L1013.4,1714.9 L1015.9,1713.6 L1018.3,1712.2 L1020.8,1710.9 L1023.3,1709.5 L1025.7,1708.1 L1028.2,1706.6 L1030.7,1705.2 L1033.1,1703.7 L1035.6,1702.3 L1038.1,1700.8 L1040.5,1699.3 L1043.0,1697.8 L1045.5,1696.2 L1047.9,1694.7 L1050.4,1693.1 L1052.9,1691.5 L1055.3,1690.0 L1057.8,1688.4 L1060.3,1686.8 L1062.7,1685.1 L1065.2,1683.5 L1067.7,1681.8 L1070.1,1680.1 L1072.6,1678.5 L1075.1,1676.8 L1077.5,1675.2 L1080.0,1673.6 L1082.5,1672.0 L1084.9,1670.5 L1087.4,1669.0 L1089.9,1667.6 L1092.3,1666.2 L1094.8,1664.7 L1097.3,1663.3 L1099.7,1661.9 L1102.2,1660.4 L1104.7,1658.9 L1107.1,1657.4 L1109.6,1655.9 L1112.1,1654.3 L1114.5,1652.8 L1117.0,1651.2 L1119.5,1649.6 L1121.9,1648.1 L1124.4,1646.5 L1126.9,1644.9 L1129.3,1643.4 L1131.8,1641.9 L1134.2,1640.3 L1136.7,1638.7 L1139.2,1637.1 L1141.6,1635.5 L1144.1,1634.0 L1146.6,1632.5 L1149.0,1631.0 L1151.5,1629.6 L1154.0,1628.3 L1156.4,1627.1 L1158.9,1625.9 L1161.4,1624.8 L1163.8,1623.6 L1166.3,1622.6 L1168.8,1621.5 L1171.2,1620.5 L1173.7,1619.6 L1176.2,1618.7 L1178.6,1617.9 L1181.1,1617.1 L1183.6,1616.4 L1186.0,1615.8 L1188.5,1615.1 L1191.0,1614.4 L1193.4,1613.8 L1195.9,1613.2 L1198.4,1612.6 L1200.8,1612.2 L1203.3,1611.8 L1205.8,1611.6 L1208.2,1611.5 L1210.7,1611.6 L1213.2,1611.7 L1215.6,1611.9 L1218.1,1612.1 L1220.6,1612.4 L1223.0,1612.8 L1225.5,1613.2 L1228.0,1613.7 L1230.4,1614.2 L1232.9,1614.8 L1235.4,1615.8 L1237.8,1617.7 L1240.3,1620.1 L1242.8,1623.0 L1245.2,1626.3 L1247.7,1629.6 L1250.2,1632.9 L1252.6,1636.0 L1255.1,1638.8 L1257.5,1641.0 L1260.0,1642.8 L1262.5,1644.4 L1264.9,1645.9 L1267.4,1647.3 L1269.9,1648.7 L1272.3,1650.0 L1274.8,1651.3 L1277.3,1652.7 L1279.7,1654.1 L1282.2,1655.7 L1284.7,1657.3 L1287.1,1659.1 L1289.6,1660.9 L1292.1,1662.7 L1294.5,1664.5 L1297.0,1666.3 L1299.5,1667.9 L1301.9,1669.6 L1304.4,1671.2 L1306.9,1672.9 L1309.3,1674.5 L1311.8,1676.0 L1314.3,1677.5 L1316.7,1678.9 L1319.2,1680.2 L1321.7,1681.4 L1324.1,1682.5 L1326.6,1683.6 L1329.1,1684.6 L1331.5,1685.6 L1334.0,1686.5 L1336.5,1687.4 L1338.9,1688.3 L1341.4,1689.2 L1343.9,1690.0 L1346.3,1690.9 L1348.8,1691.8 L1351.3,1692.7 L1353.7,1693.6 L1356.2,1694.6 L1358.7,1695.5 L1361.1,1696.5 L1363.6,1697.6 L1366.1,1698.7 L1368.5,1699.8 L1371.0,1701.0 L1373.5,1702.1 L1375.9,1703.3 L1378.4,1704.5 L1380.8,1705.6 L1383.3,1706.8 L1385.8,1708.0 L1388.2,1709.1 L1390.7,1710.2 L1393.2,1711.3 L1395.6,1712.3 L1398.1,1713.4 L1400.6,1714.4 L1403.0,1715.4 L1405.5,1716.4 L1408.0,1717.5 L1410.4,1718.4 L1412.9,1719.4 L1415.4,1720.4 L1417.8,1721.4 L1420.3,1722.3 L1422.8,1723.3 L1425.2,1724.2 L1427.7,1725.2 L1430.2,1726.1 L1432.6,1727.0 L1435.1,1727.9 L1437.6,1728.8 L1440.0,1729.7 L1442.5,1730.6 L1445.0,1731.5 L1447.4,1732.3 L1449.9,1733.2 L1452.4,1734.1 L1454.8,1734.9 L1457.3,1735.8 L1459.8,1736.6 L1462.2,1737.5 L1464.7,1738.3 L1467.2,1739.1 L1469.6,1739.9 L1472.1,1740.7 L1474.6,1741.5 L1477.0,1742.3 L1479.5,1743.1 L1482.0,1743.9 L1484.4,1744.8 L1486.9,1745.6 L1489.4,1746.4 L1491.8,1747.3 L1494.3,1748.1 L1496.8,1748.9 L1499.2,1749.8 L1501.7,1750.6 L1504.1,1751.4 L1506.6,1752.1 L1509.1,1752.9 L1511.5,1753.6 L1514.0,1754.3 L1516.5,1754.9 L1518.9,1755.5 L1521.4,1756.1 L1523.9,1756.6 L1526.3,1757.0 L1528.8,1757.5 L1531.3,1757.9 L1533.7,1758.3 L1536.2,1758.7 L1538.7,1759.0 L1541.1,1759.4 L1543.6,1759.7 L1546.1,1760.0 L1548.5,1760.4 L1551.0,1760.7 L1553.5,1760.9 L1555.9,1761.2 L1558.4,1761.5 L1560.9,1761.8 L1563.3,1762.0 L1565.8,1762.3 L1568.3,1762.6 L1570.7,1762.8 L1573.2,1763.1 L1575.7,1763.3 L1578.1,1763.6 L1580.6,1763.8 L1583.1,1764.1 L1585.5,1764.3 L1588.0,1764.5 L1590.5,1764.8 L1592.9,1765.0 L1595.4,1765.2 L1597.9,1765.4 L1600.3,1765.6 L1602.8,1765.8 L1605.3,1766.0 L1607.7,1766.2 L1610.2,1766.4 L1612.7,1766.6 L1615.1,1766.8 L1617.6,1767.0 L1620.1,1767.2 L1622.5,1767.5 L1625.0,1767.7 L1627.5,1767.9 L1629.9,1768.1 L1632.4,1768.3 L1634.8,1768.5 L1637.3,1768.7 L1639.8,1768.9 L1642.2,1769.1 L1644.7,1769.3 L1647.2,1769.5 L1649.6,1769.7 L1652.1,1769.9 L1654.6,1770.1 L1657.0,1770.3 L1659.5,1770.5 L1662.0,1770.8 L1664.4,1771.0 L1666.9,1771.2 L1669.4,1771.4 L1671.8,1771.6 L1674.3,1771.9 L1676.8,1772.1 L1679.2,1772.4 L1681.7,1772.6 L1684.2,1772.9 L1686.6,1773.1 L1689.1,1773.4 L1691.6,1773.7 L1694.0,1773.9 L1696.5,1774.2 L1699.0,1774.5 L1701.4,1774.8 L1703.9,1775.1 L1706.4,1775.4 L1708.8,1775.8 L1711.3,1776.1 L1713.8,1776.5 L1716.2,1776.9 L1718.7,1777.4 L1721.2,1777.8 L1723.6,1778.3 L1726.1,1778.9 L1728.6,1779.5 L1731.0,1780.2 L1733.5,1781.0 L1736.0,1781.9 L1738.4,1782.8 L1740.9,1783.8 L1743.4,1784.8 L1745.8,1785.8 L1748.3,1786.8 L1750.8,1787.8 L1753.2,1788.8 L1755.7,1789.7 L1758.1,1790.7 L1760.6,1791.8 L1763.1,1792.8 L1765.5,1793.9 L1768.0,1795.1 L1770.5,1796.2 L1772.9,1797.3 L1775.4,1798.3 L1777.9,1799.3 L1780.3,1800.3 L1782.8,1801.2 L1785.3,1802.1 L1787.7,1803.0 L1790.2,1804.0 L1792.7,1805.0 L1795.1,1805.8 L1797.6,1806.6 L1800.1,1807.2 L1802.5,1807.6 L1805.0,1807.7 L1807.5,1807.4 L1809.9,1806.5 L1812.4,1805.2 L1814.9,1803.7 L1817.3,1802.1 L1819.8,1800.7 L1822.3,1799.5 L1824.7,1798.7 L1827.2,1798.3 L1829.7,1797.8 L1832.1,1797.4 L1834.6,1797.0 L1837.1,1796.6 L1839.5,1796.3 L1842.0,1796.0 L1844.5,1795.7 L1846.9,1795.4 L1849.4,1795.2 L1851.9,1795.0 L1854.3,1794.9 L1856.8,1794.7 L1859.3,1794.7 L1861.7,1794.7 L1864.2,1794.7 L1866.7,1794.7 L1869.1,1794.7 L1871.6,1794.7 L1874.0,1794.7 L1876.5,1794.7 L1879.0,1794.7 L1881.4,1794.7 L1883.9,1794.7 L1886.4,1794.8 L1888.8,1794.8 L1891.3,1794.8 L1893.8,1794.8 L1896.2,1794.8 L1898.7,1794.9 L1901.2,1794.9 L1903.6,1794.9 L1906.1,1795.0 L1908.6,1795.0 L1911.0,1795.0 L1913.5,1795.1 L1916.0,1795.1 L1918.4,1795.2 L1920.9,1795.2 L1923.4,1795.2 L1925.8,1795.3 L1928.3,1795.3 L1930.8,1795.4 L1933.2,1795.4 L1935.7,1795.5 L1938.2,1795.5 L1940.6,1795.6 L1943.1,1795.7 L1945.6,1795.8 L1948.0,1795.9 L1950.5,1796.0 L1953.0,1796.2 L1955.4,1796.3 L1957.9,1796.5 L1960.4,1796.7 L1962.8,1796.9 L1965.3,1797.1 L1967.8,1797.2 L1970.2,1797.5 L1972.7,1797.7 L1975.2,1797.9 L1977.6,1798.1 L1980.1,1798.3 L1982.6,1798.5 L1985.0,1798.7 L1987.5,1799.0 L1990.0,1799.2 L1992.4,1799.5 L1994.9,1799.8 L1997.3,1800.2 L1999.8,1800.5 L2002.3,1800.9 L2004.7,1801.2 L2007.2,1801.6 L2009.7,1802.0 L2012.1,1802.4 L2014.6,1802.8 L2017.1,1803.1 L2019.5,1803.5 L2022.0,1803.8 L2024.5,1804.2 L2026.9,1804.5 L2029.4,1804.8 L2031.9,1805.0 L2034.3,1805.3 L2036.8,1805.5 L2039.3,1805.7 L2041.7,1805.9 L2044.2,1806.2 L2046.7,1806.4 L2049.1,1806.6 L2051.6,1806.8 L2054.1,1807.0 L2056.5,1807.2 L2059.0,1807.4 L2061.5,1807.6 L2063.9,1807.8 L2066.4,1808.0 L2068.9,1808.2 L2071.3,1808.4 L2073.8,1808.6 L2076.3,1808.7 L2078.7,1808.9 L2081.2,1809.1 L2083.7,1809.2 L2086.1,1809.3 L2088.6,1809.5 L2091.1,1809.6 L2093.5,1809.7 L2096.0,1809.8 L2098.5,1809.9 L2100.9,1810.0 L2103.4,1810.1 L2105.9,1810.1 L2108.3,1810.2 L2110.8,1810.2 L2113.3,1810.3 L2115.7,1810.3 L2118.2,1810.4 L2120.6,1810.4 L2123.1,1810.4 L2125.6,1810.5 L2128.0,1810.5 L2130.5,1810.6 L2133.0,1810.6 L2135.4,1810.6 L2137.9,1810.7 L2140.4,1810.7 L2142.8,1810.7 L2145.3,1810.8 L2147.8,1810.8 L2150.2,1810.8 L2152.7,1810.8 L2155.2,1810.9 L2157.6,1810.9 L2160.1,1810.9 L2162.6,1810.9 L2165.0,1810.9 L2167.5,1811.0 L2170.0,1811.0 L2172.4,1811.0 L2174.9,1811.0 L2177.4,1811.0 L2179.8,1811.0 L2182.3,1811.0 L2184.8,1811.0 L2187.2,1811.0 L2189.7,1811.0 L2192.2,1811.0 L2194.6,1811.0 L2197.1,1811.0 L2199.6,1811.0 L2202.0,1811.0 L2204.5,1811.0 L2207.0,1811.0 L2209.4,1811.0 L2211.9,1811.0 L2214.4,1811.0 L2216.8,1811.0 L2219.3,1811.0 L2221.8,1811.0 L2224.2,1811.0 L2226.7,1811.0 L2229.2,1811.0 L2231.6,1811.0 L2234.1,1811.0 L2236.6,1811.0 L2239.0,1811.0 L2241.5,1811.0 L2243.9,1811.0 L2246.4,1811.0 L2248.9,1811.0 L2251.3,1811.0 L2253.8,1811.0 L2256.3,1811.0 L2258.7,1811.0 L2261.2,1811.0 L2263.7,1811.0 L2266.1,1811.0 L2268.6,1811.0 L2271.1,1811.0 L2273.5,1811.0 L2276.0,1811.0 L2278.5,1811.0 L2280.9,1811.0 L2283.4,1811.0 L2285.9,1811.0 L2288.3,1811.0 L2290.8,1811.0 L2293.3,1811.0 L2295.7,1811.0 L2298.2,1811.0 L2300.7,1811.0 L2303.1,1811.0 L2305.6,1811.0 L2308.1,1811.0 L2310.5,1811.0 L2313.0,1811.0 L2315.5,1811.0 L2317.9,1811.0 L2320.4,1811.0 L2322.9,1811.0 L2325.3,1811.0 L2327.8,1811.0 L2330.3,1811.0 L2332.7,1811.0 L2335.2,1811.0 L2337.7,1811.0 L2340.1,1811.0 L2342.6,1811.0 L2345.1,1811.0 L2347.5,1811.0 L2350.0,1811.0 L2352.5,1811.0 L2354.9,1811.0 L2357.4,1811.0 L2359.9,1811.0 L2362.3,1811.0 L2364.8,1811.0 L2367.2,1811.0 L2369.7,1811.0 L2372.2,1811.0 L2374.6,1811.0 L2377.1,1811.0 L2379.6,1811.0 L2382.0,1811.0 L2384.5,1811.0 L2387.0,1811.0 L2389.4,1811.0 L2391.9,1811.0 L2394.4,1811.0 L2396.8,1811.0 L2399.3,1811.0 L2401.8,1811.0 L2404.2,1811.0 L2406.7,1811.0 L2409.2,1811.0 L2411.6,1811.0 L2414.1,1811.0 L2416.6,1811.0 L2419.0,1811.0 L2421.5,1811.0 L2424.0,1811.0 L2426.4,1811.0 L2428.9,1811.0" fill="none" stroke="#d2d2ff" stroke-width="12" stroke-linejoin="round" opacity="0.6"/>
<path d="M209.5,1807.7 L212.0,1807.7 L214.4,1807.7 L216.9,1807.7 L219.4,1807.7 L221.8,1807.7 L224.3,1807.7 L226.8,1807.7 L229.2,1807.7 L231.7,1807.6 L234.2,1807.6 L236.6,1807.6 L239.1,1807.6 L241.6,1807.6 L244.0,1807.6 L246.5,1807.6 L249.0,1807.5 L251.4,1807.5 L253.9,1807.5 L256.4,1807.5 L258.8,1807.5 L261.3,1807.5 L263.8,1807.5 L266.2,1807.4 L268.7,1807.4 L271.1,1807.4 L273.6,1807.4 L276.1,1807.4 L278.5,1807.4 L281.0,1807.3 L283.5,1807.3 L285.9,1807.3 L288.4,1807.3 L290.9,1807.3 L293.3,1807.2 L295.8,1807.2 L298.3,1807.2 L300.7,1807.2 L303.2,1807.2 L305.7,1807.1 L308.1,1807.1 L310.6,1807.1 L313.1,1807.1 L315.5,1807.1 L318.0,1807.0 L320.5,1807.0 L322.9,1807.0 L325.4,1807.0 L327.9,1807.0 L330.3,1806.9 L332.8,1806.9 L335.3,1806.9 L337.7,1806.9 L340.2,1806.8 L342.7,1806.8 L345.1,1806.8 L347.6,1806.8 L350.1,1806.7 L352.5,1806.7 L355.0,1806.7 L357.5,1806.7 L359.9,1806.6 L362.4,1806.6 L364.9,1806.6 L367.3,1806.6 L369.8,1806.5 L372.3,1806.5 L374.7,1806.5 L377.2,1806.4 L379.7,1806.4 L382.1,1806.4 L384.6,1806.3 L387.1,1806.3 L389.5,1806.3 L392.0,1806.2 L394.4,1806.2 L396.9,1806.2 L399.4,1806.1 L401.8,1806.1 L404.3,1806.1 L406.8,1806.0 L409.2,1806.0 L411.7,1806.0 L414.2,1805.9 L416.6,1805.9 L419.1,1805.9 L421.6,1805.8 L424.0,1805.8 L426.5,1805.7 L429.0,1805.7 L431.4,1805.7 L433.9,1805.6 L436.4,1805.6 L438.8,1805.5 L441.3,1805.5 L443.8,1805.5 L446.2,1805.4 L448.7,1805.4 L451.2,1805.4 L453.6,1805.3 L456.1,1805.3 L458.6,1805.2 L461.0,1805.2 L463.5,1805.2 L466.0,1805.1 L468.4,1805.1 L470.9,1805.1 L473.4,1805.0 L475.8,1805.0 L478.3,1804.9 L480.8,1804.9 L483.2,1804.9 L485.7,1804.8 L488.2,1804.8 L490.6,1804.8 L493.1,1804.7 L495.6,1804.7 L498.0,1804.7 L500.5,1804.6 L503.0,1804.6 L505.4,1804.5 L507.9,1804.5 L510.4,1804.5 L512.8,1804.4 L515.3,1804.4 L517.8,1804.3 L520.2,1804.3 L522.7,1804.3 L525.1,1804.2 L527.6,1804.2 L530.1,1804.1 L532.5,1804.1 L535.0,1804.0 L537.5,1804.0 L539.9,1803.9 L542.4,1803.9 L544.9,1803.8 L547.3,1803.8 L549.8,1803.7 L552.3,1803.6 L554.7,1803.6 L557.2,1803.5 L559.7,1803.4 L562.1,1803.4 L564.6,1803.3 L567.1,1803.2 L569.5,1803.2 L572.0,1803.1 L574.5,1803.0 L576.9,1802.9 L579.4,1802.8 L581.9,1802.7 L584.3,1802.6 L586.8,1802.5 L589.3,1802.3 L591.7,1802.1 L594.2,1802.0 L596.7,1801.8 L599.1,1801.5 L601.6,1801.3 L604.1,1801.1 L606.5,1800.8 L609.0,1800.6 L611.5,1800.3 L613.9,1800.0 L616.4,1799.7 L618.9,1799.5 L621.3,1799.2 L623.8,1798.9 L626.3,1798.6 L628.7,1798.3 L631.2,1798.0 L633.7,1797.7 L636.1,1797.4 L638.6,1797.1 L641.0,1796.8 L643.5,1796.5 L646.0,1796.2 L648.4,1796.0 L650.9,1795.7 L653.4,1795.5 L655.8,1795.2 L658.3,1795.0 L660.8,1794.8 L663.2,1794.5 L665.7,1794.3 L668.2,1794.1 L670.6,1793.9 L673.1,1793.6 L675.6,1793.4 L678.0,1793.2 L680.5,1793.0 L683.0,1792.7 L685.4,1792.5 L687.9,1792.2 L690.4,1792.0 L692.8,1791.7 L695.3,1791.5 L697.8,1791.2 L700.2,1790.9 L702.7,1790.6 L705.2,1790.2 L707.6,1789.8 L710.1,1789.4 L712.6,1788.9 L715.0,1788.4 L717.5,1787.9 L720.0,1787.4 L722.4,1786.9 L724.9,1786.3 L727.4,1785.8 L729.8,1785.2 L732.3,1784.7 L734.8,1784.2 L737.2,1783.7 L739.7,1783.2 L742.2,1782.8 L744.6,1782.4 L747.1,1782.1 L749.6,1781.8 L752.0,1781.6 L754.5,1781.4 L757.0,1781.2 L759.4,1781.1 L761.9,1780.9 L764.4,1780.8 L766.8,1780.7 L769.3,1780.6 L771.7,1780.5 L774.2,1780.4 L776.7,1780.3 L779.1,1780.2 L781.6,1780.1 L784.1,1780.0 L786.5,1779.9 L789.0,1779.8 L791.5,1779.7 L793.9,1779.6 L796.4,1779.4 L798.9,1779.3 L801.3,1779.1 L803.8,1778.9 L806.3,1778.7 L808.7,1778.5 L811.2,1778.2 L813.7,1778.0 L816.1,1777.7 L818.6,1777.4 L821.1,1777.1 L823.5,1776.7 L826.0,1776.4 L828.5,1776.0 L830.9,1775.7 L833.4,1775.3 L835.9,1774.9 L838.3,1774.5 L840.8,1774.2 L843.3,1773.8 L845.7,1773.4 L848.2,1773.0 L850.7,1772.6 L853.1,1772.2 L855.6,1771.7 L858.1,1771.3 L860.5,1770.8 L863.0,1770.3 L865.5,1769.8 L867.9,1769.3 L870.4,1768.8 L872.9,1768.3 L875.3,1767.7 L877.8,1767.2 L880.3,1766.7 L882.7,1766.2 L885.2,1765.7 L887.6,1765.2 L890.1,1764.8 L892.6,1764.3 L895.0,1763.9 L897.5,1763.5 L900.0,1763.1 L902.4,1762.8 L904.9,1762.4 L907.4,1762.0 L909.8,1761.6 L912.3,1761.2 L914.8,1760.8 L917.2,1760.4 L919.7,1759.9 L922.2,1759.4 L924.6,1758.9 L927.1,1758.3 L929.6,1757.7 L932.0,1757.0 L934.5,1756.3 L937.0,1755.4 L939.4,1754.3 L941.9,1753.2 L944.4,1752.0 L946.8,1750.6 L949.3,1749.3 L951.8,1747.8 L954.2,1746.4 L956.7,1744.9 L959.2,1743.5 L961.6,1742.1 L964.1,1740.7 L966.6,1739.3 L969.0,1737.8 L971.5,1736.4 L974.0,1734.8 L976.4,1733.3 L978.9,1731.8 L981.4,1730.4 L983.8,1728.9 L986.3,1727.6 L988.8,1726.4 L991.2,1725.2 L993.7,1724.0 L996.2,1722.9 L998.6,1721.9 L1001.1,1720.8 L1003.6,1719.7 L1006.0,1718.6 L1008.5,1717.4 L1010.9,1716.2 L1013.4,1714.9 L1015.9,1713.6 L1018.3,1712.2 L1020.8,1710.9 L1023.3,1709.5 L1025.7,1708.1 L1028.2,1706.6 L1030.7,1705.2 L1033.1,1703.7 L1035.6,1702.3 L1038.1,1700.8 L1040.5,1699.3 L1043.0,1697.8 L1045.5,1696.2 L1047.9,1694.7 L1050.4,1693.1 L1052.9,1691.5 L1055.3,1690.0 L1057.8,1688.4 L1060.3,1686.8 L1062.7,1685.1 L1065.2,1683.5 L1067.7,1681.8 L1070.1,1680.1 L1072.6,1678.5 L1075.1,1676.8 L1077.5,1675.2 L1080.0,1673.6 L1082.5,1672.0 L1084.9,1670.5 L1087.4,1669.0 L1089.9,1667.6 L1092.3,1666.2 L1094.8,1664.7 L1097.3,1663.3 L1099.7,1661.9 L1102.2,1660.4 L1104.7,1658.9 L1107.1,1657.4 L1109.6,1655.9 L1112.1,1654.3 L1114.5,1652.8 L1117.0,1651.2 L1119.5,1649.6 L1121.9,1648.1 L1124.4,1646.5 L1126.9,1644.9 L1129.3,1643.4 L1131.8,1641.9 L1134.2,1640.3 L1136.7,1638.7 L1139.2,1637.1 L1141.6,1635.5 L1144.1,1634.0 L1146.6,1632.5 L1149.0,1631.0 L1151.5,1629.6 L1154.0,1628.3 L1156.4,1627.1 L1158.9,1625.9 L1161.4,1624.8 L1163.8,1623.6 L1166.3,1622.6 L1168.8,1621.5 L1171.2,1620.5 L1173.7,1619.6 L1176.2,1618.7 L1178.6,1617.9 L1181.1,1617.1 L1183.6,1616.4 L1186.0,1615.8 L1188.5,1615.1 L1191.0,1614.4 L1193.4,1613.8 L1195.9,1613.2 L1198.4,1612.6 L1200.8,1612.2 L1203.3,1611.8 L1205.8,1611.6 L1208.2,1611.5 L1210.7,1611.6 L1213.2,1611.7 L1215.6,1611.9 L1218.1,1612.1 L1220.6,1612.4 L1223.0,1612.8 L1225.5,1613.2 L1228.0,1613.7 L1230.4,1614.2 L1232.9,1614.8 L1235.4,1615.8 L1237.8,1617.7 L1240.3,1620.1 L1242.8,1623.0 L1245.2,1626.3 L1247.7,1629.6 L1250.2,1632.9 L1252.6,1636.0 L1255.1,1638.8 L1257.5,1641.0 L1260.0,1642.8 L1262.5,1644.4 L1264.9,1645.9 L1267.4,1647.3 L1269.9,1648.7 L1272.3,1650.0 L1274.8,1651.3 L1277.3,1652.7 L1279.7,1654.1 L1282.2,1655.7 L1284.7,1657.3 L1287.1,1659.1 L1289.6,1660.9 L1292.1,1662.7 L1294.5,1664.5 L1297.0,1666.3 L1299.5,1667.9 L1301.9,1669.6 L1304.4,1671.2 L1306.9,1672.9 L1309.3,1674.5 L1311.8,1676.0 L1314.3,1677.5 L1316.7,1678.9 L1319.2,1680.2 L1321.7,1681.4 L1324.1,1682.5 L1326.6,1683.6 L1329.1,1684.6 L1331.5,1685.6 L1334.0,1686.5 L1336.5,1687.4 L1338.9,1688.3 L1341.4,1689.2 L1343.9,1690.0 L1346.3,1690.9 L1348.8,1691.8 L1351.3,1692.7 L1353.7,1693.6 L1356.2,1694.6 L1358.7,1695.5 L1361.1,1696.5 L1363.6,1697.6 L1366.1,1698.7 L1368.5,1699.8 L1371.0,1701.0 L1373.5,1702.1 L1375.9,1703.3 L1378.4,1704.5 L1380.8,1705.6 L1383.3,1706.8 L1385.8,1708.0 L1388.2,1709.1 L1390.7,1710.2 L1393.2,1711.3 L1395.6,1712.3 L1398.1,1713.4 L1400.6,1714.4 L1403.0,1715.4 L1405.5,1716.4 L1408.0,1717.5 L1410.4,1718.4 L1412.9,1719.4 L1415.4,1720.4 L1417.8,1721.4 L1420.3,1722.3 L1422.8,1723.3 L1425.2,1724.2 L1427.7,1725.2 L1430.2,1726.1 L1432.6,1727.0 L1435.1,1727.9 L1437.6,1728.8 L1440.0,1729.7 L1442.5,1730.6 L1445.0,1731.5 L1447.4,1732.3 L1449.9,1733.2 L1452.4,1734.1 L1454.8,1734.9 L1457.3,1735.8 L1459.8,1736.6 L1462.2,1737.5 L1464.7,1738.3 L1467.2,1739.1 L1469.6,1739.9 L1472.1,1740.7 L1474.6,1741.5 L1477.0,1742.3 L1479.5,1743.1 L1482.0,1743.9 L1484.4,1744.8 L1486.9,1745.6 L1489.4,1746.4 L1491.8,1747.3 L1494.3,1748.1 L1496.8,1748.9 L1499.2,1749.8 L1501.7,1750.6 L1504.1,1751.4 L1506.6,1752.1 L1509.1,1752.9 L1511.5,1753.6 L1514.0,1754.3 L1516.5,1754.9 L1518.9,1755.5 L1521.4,1756.1 L1523.9,1756.6 L1526.3,1757.0 L1528.8,1757.5 L1531.3,1757.9 L1533.7,1758.3 L1536.2,1758.7 L1538.7,1759.0 L1541.1,1759.4 L1543.6,1759.7 L1546.1,1760.0 L1548.5,1760.4 L1551.0,1760.7 L1553.5,1760.9 L1555.9,1761.2 L1558.4,1761.5 L1560.9,1761.8 L1563.3,1762.0 L1565.8,1762.3 L1568.3,1762.6 L1570.7,1762.8 L1573.2,1763.1 L1575.7,1763.3 L1578.1,1763.6 L1580.6,1763.8 L1583.1,1764.1 L1585.5,1764.3 L1588.0,1764.5 L1590.5,1764.8 L1592.9,1765.0 L1595.4,1765.2 L1597.9,1765.4 L1600.3,1765.6 L1602.8,1765.8 L1605.3,1766.0 L1607.7,1766.2 L1610.2,1766.4 L1612.7,1766.6 L1615.1,1766.8 L1617.6,1767.0 L1620.1,1767.2 L1622.5,1767.5 L1625.0,1767.7 L1627.5,1767.9 L1629.9,1768.1 L1632.4,1768.3 L1634.8,1768.5 L1637.3,1768.7 L1639.8,1768.9 L1642.2,1769.1 L1644.7,1769.3 L1647.2,1769.5 L1649.6,1769.7 L1652.1,1769.9 L1654.6,1770.1 L1657.0,1770.3 L1659.5,1770.5 L1662.0,1770.8 L1664.4,1771.0 L1666.9,1771.2 L1669.4,1771.4 L1671.8,1771.6 L1674.3,1771.9 L1676.8,1772.1 L1679.2,1772.4 L1681.7,1772.6 L1684.2,1772.9 L1686.6,1773.1 L1689.1,1773.4 L1691.6,1773.7 L1694.0,1773.9 L1696.5,1774.2 L1699.0,1774.5 L1701.4,1774.8 L1703.9,1775.1 L1706.4,1775.4 L1708.8,1775.8 L1711.3,1776.1 L1713.8,1776.5 L1716.2,1776.9 L1718.7,1777.4 L1721.2,1777.8 L1723.6,1778.3 L1726.1,1778.9 L1728.6,1779.5 L1731.0,1780.2 L1733.5,1781.0 L1736.0,1781.9 L1738.4,1782.8 L1740.9,1783.8 L1743.4,1784.8 L1745.8,1785.8 L1748.3,1786.8 L1750.8,1787.8 L1753.2,1788.8 L1755.7,1789.7 L1758.1,1790.7 L1760.6,1791.8 L1763.1,1792.8 L1765.5,1793.9 L1768.0,1795.1 L1770.5,1796.2 L1772.9,1797.3 L1775.4,1798.3 L1777.9,1799.3 L1780.3,1800.3 L1782.8,1801.2 L1785.3,1802.1 L1787.7,1803.0 L1790.2,1804.0 L1792.7,1805.0 L1795.1,1805.8 L1797.6,1806.6 L1800.1,1807.2 L1802.5,1807.6 L1805.0,1807.7 L1807.5,1807.4 L1809.9,1806.5 L1812.4,1805.2 L1814.9,1803.7 L1817.3,1802.1 L1819.8,1800.7 L1822.3,1799.5 L1824.7,1798.7 L1827.2,1798.3 L1829.7,1797.8 L1832.1,1797.4 L1834.6,1797.0 L1837.1,1796.6 L1839.5,1796.3 L1842.0,1796.0 L1844.5,1795.7 L1846.9,1795.4 L1849.4,1795.2 L1851.9,1795.0 L1854.3,1794.9 L1856.8,1794.7 L1859.3,1794.7 L1861.7,1794.7 L1864.2,1794.7 L1866.7,1794.7 L1869.1,1794.7 L1871.6,1794.7 L1874.0,1794.7 L1876.5,1794.7 L1879.0,1794.7 L1881.4,1794.7 L1883.9,1794.7 L1886.4,1794.8 L1888.8,1794.8 L1891.3,1794.8 L1893.8,1794.8 L1896.2,1794.8 L1898.7,1794.9 L1901.2,1794.9 L1903.6,1794.9 L1906.1,1795.0 L1908.6,1795.0 L1911.0,1795.0 L1913.5,1795.1 L1916.0,1795.1 L1918.4,1795.2 L1920.9,1795.2 L1923.4,1795.2 L1925.8,1795.3 L1928.3,1795.3 L1930.8,1795.4 L1933.2,1795.4 L1935.7,1795.5 L1938.2,1795.5 L1940.6,1795.6 L1943.1,1795.7 L1945.6,1795.8 L1948.0,1795.9 L1950.5,1796.0 L1953.0,1796.2 L1955.4,1796.3 L1957.9,1796.5 L1960.4,1796.7 L1962.8,1796.9 L1965.3,1797.1 L1967.8,1797.2 L1970.2,1797.5 L1972.7,1797.7 L1975.2,1797.9 L1977.6,1798.1 L1980.1,1798.3 L1982.6,1798.5 L1985.0,1798.7 L1987.5,1799.0 L1990.0,1799.2 L1992.4,1799.5 L1994.9,1799.8 L1997.3,1800.2 L1999.8,1800.5 L2002.3,1800.9 L2004.7,1801.2 L2007.2,1801.6 L2009.7,1802.0 L2012.1,1802.4 L2014.6,1802.8 L2017.1,1803.1 L2019.5,1803.5 L2022.0,1803.8 L2024.5,1804.2 L2026.9,1804.5 L2029.4,1804.8 L2031.9,1805.0 L2034.3,1805.3 L2036.8,1805.5 L2039.3,1805.7 L2041.7,1805.9 L2044.2,1806.2 L2046.7,1806.4 L2049.1,1806.6 L2051.6,1806.8 L2054.1,1807.0 L2056.5,1807.2 L2059.0,1807.4 L2061.5,1807.6 L2063.9,1807.8 L2066.4,1808.0 L2068.9,1808.2 L2071.3,1808.4 L2073.8,1808.6 L2076.3,1808.7 L2078.7,1808.9 L2081.2,1809.1 L2083.7,1809.2 L2086.1,1809.3 L2088.6,1809.5 L2091.1,1809.6 L2093.5,1809.7 L2096.0,1809.8 L2098.5,1809.9 L2100.9,1810.0 L2103.4,1810.1 L2105.9,1810.1 L2108.3,1810.2 L2110.8,1810.2 L2113.3,1810.3 L2115.7,1810.3 L2118.2,1810.4 L2120.6,1810.4 L2123.1,1810.4 L2125.6,1810.5 L2128.0,1810.5 L2130.5,1810.6 L2133.0,1810.6 L2135.4,1810.6 L2137.9,1810.7 L2140.4,1810.7 L2142.8,1810.7 L2145.3,1810.8 L2147.8,1810.8 L2150.2,1810.8 L2152.7,1810.8 L2155.2,1810.9 L2157.6,1810.9 L2160.1,1810.9 L2162.6,1810.9 L2165.0,1810.9 L2167.5,1811.0 L2170.0,1811.0 L2172.4,1811.0 L2174.9,1811.0 L2177.4,1811.0 L2179.8,1811.0 L2182.3,1811.0 L2184.8,1811.0 L2187.2,1811.0 L2189.7,1811.0 L2192.2,1811.0 L2194.6,1811.0 L2197.1,1811.0 L2199.6,1811.0 L2202.0,1811.0 L2204.5,1811.0 L2207.0,1811.0 L2209.4,1811.0 L2211.9,1811.0 L2214.4,1811.0 L2216.8,1811.0 L2219.3,1811.0 L2221.8,1811.0 L2224.2,1811.0 L2226.7,1811.0 L2229.2,1811.0 L2231.6,1811.0 L2234.1,1811.0 L2236.6,1811.0 L2239.0,1811.0 L2241.5,1811.0 L2243.9,1811.0 L2246.4,1811.0 L2248.9,1811.0 L2251.3,1811.0 L2253.8,1811.0 L2256.3,1811.0 L2258.7,1811.0 L2261.2,1811.0 L2263.7,1811.0 L2266.1,1811.0 L2268.6,1811.0 L2271.1,1811.0 L2273.5,1811.0 L2276.0,1811.0 L2278.5,1811.0 L2280.9,1811.0 L2283.4,1811.0 L2285.9,1811.0 L2288.3,1811.0 L2290.8,1811.0 L2293.3,1811.0 L2295.7,1811.0 L2298.2,1811.0 L2300.7,1811.0 L2303.1,1811.0 L2305.6,1811.0 L2308.1,1811.0 L2310.5,1811.0 L2313.0,1811.0 L2315.5,1811.0 L2317.9,1811.0 L2320.4,1811.0 L2322.9,1811.0 L2325.3,1811.0 L2327.8,1811.0 L2330.3,1811.0 L2332.7,1811.0 L2335.2,1811.0 L2337.7,1811.0 L2340.1,1811.0 L2342.6,1811.0 L2345.1,1811.0 L2347.5,1811.0 L2350.0,1811.0 L2352.5,1811.0 L2354.9,1811.0 L2357.4,1811.0 L2359.9,1811.0 L2362.3,1811.0 L2364.8,1811.0 L2367.2,1811.0 L2369.7,1811.0 L2372.2,1811.0 L2374.6,1811.0 L2377.1,1811.0 L2379.6,1811.0 L2382.0,1811.0 L2384.5,1811.0 L2387.0,1811.0 L2389.4,1811.0 L2391.9,1811.0 L2394.4,1811.0 L2396.8,1811.0 L2399.3,1811.0 L2401.8,1811.0 L2404.2,1811.0 L2406.7,1811.0 L2409.2,1811.0 L2411.6,1811.0 L2414.1,1811.0 L2416.6,1811.0 L2419.0,1811.0 L2421.5,1811.0 L2424.0,1811.0 L2426.4,1811.0 L2428.9,1811.0" fill="none" stroke="#6c6cff" stroke-width="7" stroke-linejoin="round"/>
<line x1="1134.5" y1="314.5" x2="1223" y2="429" stroke="#c8c8c8" stroke-width="13"/>
<line x1="1724" y1="432" x2="1895" y2="449" stroke="#c8c8c8" stroke-width="13"/>
<line x1="788" y1="954" x2="1020" y2="1008" stroke="#c8c8c8" stroke-width="13"/>
<line x1="1818" y1="946" x2="2072" y2="1053" stroke="#c8c8c8" stroke-width="13"/>
<line x1="830" y1="1616" x2="1050" y2="1687" stroke="#c8c8c8" stroke-width="13"/>
<line x1="1569" y1="1621" x2="1673" y2="1716" stroke="#c8c8c8" stroke-width="13"/>
<line x1="1134.5" y1="314.5" x2="1223" y2="429" stroke="#6a6a6a" stroke-width="7"/>
<line x1="1724" y1="432" x2="1895" y2="449" stroke="#6a6a6a" stroke-width="7"/>
<line x1="788" y1="954" x2="1020" y2="1008" stroke="#6a6a6a" stroke-width="7"/>
<line x1="1818" y1="946" x2="2072" y2="1053" stroke="#6a6a6a" stroke-width="7"/>
<line x1="830" y1="1616" x2="1050" y2="1687" stroke="#6a6a6a" stroke-width="7"/>
<line x1="1569" y1="1621" x2="1673" y2="1716" stroke="#6a6a6a" stroke-width="7"/>
<text transform="matrix(1.1081 0 0 1.2553 953.78 126.00)" font-family="&quot;Liberation Serif&quot;, &quot;Times New Roman&quot;, serif" font-size="100" fill="#141414" stroke="#141414" stroke-width="1.27" stroke-linejoin="round">m</text>
<text transform="matrix(1.5106 0 0 1.2000 1042.45 126.20)" font-family="&quot;Liberation Serif&quot;, &quot;Times New Roman&quot;, serif" font-size="100" fill="#141414" stroke="#141414" stroke-width="1.11" stroke-linejoin="round">=</text>
<text transform="matrix(1.1444 0 0 1.2615 1120.13 126.00)" font-family="&quot;Liberation Serif&quot;, &quot;Times New Roman&quot;, serif" font-size="100" fill="#141414" stroke="#141414" stroke-width="1.25" stroke-linejoin="round">58</text>
<text transform="matrix(1.2308 0 0 1.1781 1247.08 128.26)" font-family="&quot;Liberation Serif&quot;, &quot;Times New Roman&quot;, serif" font-size="100" fill="#141414" stroke="#141414" stroke-width="1.25" stroke-linejoin="round">gr</text>
<text transform="matrix(1.1757 0 0 1.1915 969.65 761.00)" font-family="&quot;Liberation Serif&quot;, &quot;Times New Roman&quot;, serif" font-size="100" fill="#141414" stroke="#141414" stroke-width="1.27" stroke-linejoin="round">m</text>
<text transform="matrix(1.3404 0 0 1.2000 1066.30 765.20)" font-family="&quot;Liberation Serif&quot;, &quot;Times New Roman&quot;, serif" font-size="100" fill="#141414" stroke="#141414" stroke-width="1.18" stroke-linejoin="round">=</text>
<text transform="matrix(1.0330 0 0 1.2121 1140.90 761.00)" font-family="&quot;Liberation Serif&quot;, &quot;Times New Roman&quot;, serif" font-size="100" fill="#141414" stroke="#141414" stroke-width="1.34" stroke-linejoin="round">91</text>
<text transform="matrix(1.2051 0 0 1.1644 1263.18 757.55)" font-family="&quot;Liberation Serif&quot;, &quot;Times New Roman&quot;, serif" font-size="100" fill="#141414" stroke="#141414" stroke-width="1.27" stroke-linejoin="round">gr</text>
<text transform="matrix(1.0676 0 0 1.3404 993.86 1423.00)" font-family="&quot;Liberation Serif&quot;, &quot;Times New Roman&quot;, serif" font-size="100" fill="#141414" stroke="#141414" stroke-width="1.25" stroke-linejoin="round">m</text>
<text transform="matrix(1.5319 0 0 1.3600 1080.34 1428.56)" font-family="&quot;Liberation Serif&quot;, &quot;Times New Roman&quot;, serif" font-size="100" fill="#141414" stroke="#141414" stroke-width="1.04" stroke-linejoin="round">=</text>
<text transform="matrix(1.1196 0 0 1.2308 1161.52 1423.00)" font-family="&quot;Liberation Serif&quot;, &quot;Times New Roman&quot;, serif" font-size="100" fill="#141414" stroke="#141414" stroke-width="1.28" stroke-linejoin="round">69</text>
<text transform="matrix(1.1923 0 0 1.1781 1295.23 1420.26)" font-family="&quot;Liberation Serif&quot;, &quot;Times New Roman&quot;, serif" font-size="100" fill="#141414" stroke="#141414" stroke-width="1.27" stroke-linejoin="round">gr</text>
<text transform="matrix(0.7729 0 0 0.8406 776.23 295.00)" font-family="&quot;Liberation Serif&quot;, &quot;Times New Roman&quot;, serif" font-size="100" fill="#242424" stroke="#242424" stroke-width="1.24" stroke-linejoin="round">Analytical</text>
<text transform="matrix(0.8252 0 0 0.8406 1110.35 295.00)" font-family="&quot;Liberation Serif&quot;, &quot;Times New Roman&quot;, serif" font-size="100" fill="#242424" stroke="#242424" stroke-width="1.20" stroke-linejoin="round">model</text>
<text transform="matrix(0.7705 0 0 0.8406 457.23 934.00)" font-family="&quot;Liberation Serif&quot;, &quot;Times New Roman&quot;, serif" font-size="100" fill="#242424" stroke="#242424" stroke-width="1.24" stroke-linejoin="round">Analytical</text>
<text transform="matrix(0.8333 0 0 0.8406 790.33 934.00)" font-family="&quot;Liberation Serif&quot;, &quot;Times New Roman&quot;, serif" font-size="100" fill="#242424" stroke="#242424" stroke-width="1.19" stroke-linejoin="round">model</text>
<text transform="matrix(0.7754 0 0 0.8406 472.22 1589.00)" font-family="&quot;Liberation Serif&quot;, &quot;Times New Roman&quot;, serif" font-size="100" fill="#242424" stroke="#242424" stroke-width="1.24" stroke-linejoin="round">Analytical</text>
<text transform="matrix(0.8333 0 0 0.8406 805.33 1589.00)" font-family="&quot;Liberation Serif&quot;, &quot;Times New Roman&quot;, serif" font-size="100" fill="#242424" stroke="#242424" stroke-width="1.19" stroke-linejoin="round">model</text>
<text transform="matrix(0.8282 0 0 0.9692 1919.34 457.00)" font-family="&quot;Liberation Serif&quot;, &quot;Times New Roman&quot;, serif" font-size="100" fill="#242424" stroke="#242424" stroke-width="1.12" stroke-linejoin="round">Test</text>
<text transform="matrix(0.9080 0 0 0.9846 1757.18 925.00)" font-family="&quot;Liberation Serif&quot;, &quot;Times New Roman&quot;, serif" font-size="100" fill="#242424" stroke="#242424" stroke-width="1.06" stroke-linejoin="round">Test</text>
<text transform="matrix(0.8650 0 0 0.9846 1515.27 1610.00)" font-family="&quot;Liberation Serif&quot;, &quot;Times New Roman&quot;, serif" font-size="100" fill="#242424" stroke="#242424" stroke-width="1.08" stroke-linejoin="round">Test</text>
<text transform="matrix(0.7347 0 0 0.8000 165.12 606.00)" font-family="&quot;Liberation Sans&quot;, Arial, sans-serif" font-size="100" fill="#242424" stroke="#242424" stroke-width="1.30" stroke-linejoin="round">12</text>
<text transform="matrix(0.7374 0 0 0.8000 406.10 606.00)" font-family="&quot;Liberation Sans&quot;, Arial, sans-serif" font-size="100" fill="#242424" stroke="#242424" stroke-width="1.30" stroke-linejoin="round">13</text>
<text transform="matrix(0.6700 0 0 0.8116 657.64 606.00)" font-family="&quot;Liberation Sans&quot;, Arial, sans-serif" font-size="100" fill="#242424" stroke="#242424" stroke-width="1.36" stroke-linejoin="round">14</text>
<text transform="matrix(0.7172 0 0 0.8116 904.26 606.00)" font-family="&quot;Liberation Sans&quot;, Arial, sans-serif" font-size="100" fill="#242424" stroke="#242424" stroke-width="1.31" stroke-linejoin="round">15</text>
<text transform="matrix(0.7071 0 0 0.8000 1153.34 606.00)" font-family="&quot;Liberation Sans&quot;, Arial, sans-serif" font-size="100" fill="#242424" stroke="#242424" stroke-width="1.33" stroke-linejoin="round">16</text>
<text transform="matrix(0.7959 0 0 0.8116 1393.63 606.00)" font-family="&quot;Liberation Sans&quot;, Arial, sans-serif" font-size="100" fill="#242424" stroke="#242424" stroke-width="1.24" stroke-linejoin="round">17</text>
<text transform="matrix(0.7576 0 0 0.8000 1642.94 606.00)" font-family="&quot;Liberation Sans&quot;, Arial, sans-serif" font-size="100" fill="#242424" stroke="#242424" stroke-width="1.28" stroke-linejoin="round">18</text>
<text transform="matrix(0.6633 0 0 0.8000 1900.69 606.00)" font-family="&quot;Liberation Sans&quot;, Arial, sans-serif" font-size="100" fill="#242424" stroke="#242424" stroke-width="1.37" stroke-linejoin="round">19</text>
<text transform="matrix(0.7059 0 0 0.8000 2143.47 606.00)" font-family="&quot;Liberation Sans&quot;, Arial, sans-serif" font-size="100" fill="#242424" stroke="#242424" stroke-width="1.33" stroke-linejoin="round">20</text>
<text transform="matrix(0.7129 0 0 0.8000 2384.44 606.00)" font-family="&quot;Liberation Sans&quot;, Arial, sans-serif" font-size="100" fill="#242424" stroke="#242424" stroke-width="1.32" stroke-linejoin="round">21</text>
<text transform="matrix(0.7347 0 0 0.8000 165.12 1252.00)" font-family="&quot;Liberation Sans&quot;, Arial, sans-serif" font-size="100" fill="#242424" stroke="#242424" stroke-width="1.30" stroke-linejoin="round">12</text>
<text transform="matrix(0.7374 0 0 0.8000 406.10 1252.00)" font-family="&quot;Liberation Sans&quot;, Arial, sans-serif" font-size="100" fill="#242424" stroke="#242424" stroke-width="1.30" stroke-linejoin="round">13</text>
<text transform="matrix(0.6700 0 0 0.8116 657.64 1252.00)" font-family="&quot;Liberation Sans&quot;, Arial, sans-serif" font-size="100" fill="#242424" stroke="#242424" stroke-width="1.36" stroke-linejoin="round">14</text>
<text transform="matrix(0.7172 0 0 0.8116 904.26 1252.00)" font-family="&quot;Liberation Sans&quot;, Arial, sans-serif" font-size="100" fill="#242424" stroke="#242424" stroke-width="1.31" stroke-linejoin="round">15</text>
<text transform="matrix(0.7071 0 0 0.8000 1153.34 1252.00)" font-family="&quot;Liberation Sans&quot;, Arial, sans-serif" font-size="100" fill="#242424" stroke="#242424" stroke-width="1.33" stroke-linejoin="round">16</text>
<text transform="matrix(0.7959 0 0 0.8116 1393.63 1252.00)" font-family="&quot;Liberation Sans&quot;, Arial, sans-serif" font-size="100" fill="#242424" stroke="#242424" stroke-width="1.24" stroke-linejoin="round">17</text>
<text transform="matrix(0.7576 0 0 0.8000 1642.94 1252.00)" font-family="&quot;Liberation Sans&quot;, Arial, sans-serif" font-size="100" fill="#242424" stroke="#242424" stroke-width="1.28" stroke-linejoin="round">18</text>
<text transform="matrix(0.6633 0 0 0.8000 1900.69 1252.00)" font-family="&quot;Liberation Sans&quot;, Arial, sans-serif" font-size="100" fill="#242424" stroke="#242424" stroke-width="1.37" stroke-linejoin="round">19</text>
<text transform="matrix(0.7059 0 0 0.8000 2143.47 1252.00)" font-family="&quot;Liberation Sans&quot;, Arial, sans-serif" font-size="100" fill="#242424" stroke="#242424" stroke-width="1.33" stroke-linejoin="round">20</text>
<text transform="matrix(0.7129 0 0 0.8000 2384.44 1252.00)" font-family="&quot;Liberation Sans&quot;, Arial, sans-serif" font-size="100" fill="#242424" stroke="#242424" stroke-width="1.32" stroke-linejoin="round">21</text>
<text transform="matrix(0.7347 0 0 0.8143 165.12 1899.00)" font-family="&quot;Liberation Sans&quot;, Arial, sans-serif" font-size="100" fill="#242424" stroke="#242424" stroke-width="1.29" stroke-linejoin="round">12</text>
<text transform="matrix(0.7374 0 0 0.8143 406.10 1899.00)" font-family="&quot;Liberation Sans&quot;, Arial, sans-serif" font-size="100" fill="#242424" stroke="#242424" stroke-width="1.29" stroke-linejoin="round">13</text>
<text transform="matrix(0.6700 0 0 0.8261 657.64 1899.00)" font-family="&quot;Liberation Sans&quot;, Arial, sans-serif" font-size="100" fill="#242424" stroke="#242424" stroke-width="1.34" stroke-linejoin="round">14</text>
<text transform="matrix(0.7172 0 0 0.8261 904.26 1899.00)" font-family="&quot;Liberation Sans&quot;, Arial, sans-serif" font-size="100" fill="#242424" stroke="#242424" stroke-width="1.30" stroke-linejoin="round">15</text>
<text transform="matrix(0.7071 0 0 0.8143 1153.34 1899.00)" font-family="&quot;Liberation Sans&quot;, Arial, sans-serif" font-size="100" fill="#242424" stroke="#242424" stroke-width="1.32" stroke-linejoin="round">16</text>
<text transform="matrix(0.7959 0 0 0.8261 1393.63 1899.00)" font-family="&quot;Liberation Sans&quot;, Arial, sans-serif" font-size="100" fill="#242424" stroke="#242424" stroke-width="1.23" stroke-linejoin="round">17</text>
<text transform="matrix(0.7576 0 0 0.8143 1642.94 1899.00)" font-family="&quot;Liberation Sans&quot;, Arial, sans-serif" font-size="100" fill="#242424" stroke="#242424" stroke-width="1.27" stroke-linejoin="round">18</text>
<text transform="matrix(0.6633 0 0 0.8143 1900.69 1899.00)" font-family="&quot;Liberation Sans&quot;, Arial, sans-serif" font-size="100" fill="#242424" stroke="#242424" stroke-width="1.36" stroke-linejoin="round">19</text>
<text transform="matrix(0.7059 0 0 0.8143 2143.47 1899.00)" font-family="&quot;Liberation Sans&quot;, Arial, sans-serif" font-size="100" fill="#242424" stroke="#242424" stroke-width="1.32" stroke-linejoin="round">20</text>
<text transform="matrix(0.7129 0 0 0.8143 2384.44 1899.00)" font-family="&quot;Liberation Sans&quot;, Arial, sans-serif" font-size="100" fill="#242424" stroke="#242424" stroke-width="1.31" stroke-linejoin="round">21</text>
<text transform="matrix(0.7174 0 0 0.8143 142.41 216.00)" font-family="&quot;Liberation Sans&quot;, Arial, sans-serif" font-size="100" fill="#242424" stroke="#242424" stroke-width="1.31" stroke-linejoin="round">2</text>
<text transform="matrix(0.5581 0 0 0.8116 149.53 379.00)" font-family="&quot;Liberation Sans&quot;, Arial, sans-serif" font-size="100" fill="#242424" stroke="#242424" stroke-width="1.49" stroke-linejoin="round">1</text>
<text transform="matrix(0.6667 0 0 0.7857 144.33 549.00)" font-family="&quot;Liberation Sans&quot;, Arial, sans-serif" font-size="100" fill="#242424" stroke="#242424" stroke-width="1.38" stroke-linejoin="round">0</text>
<text transform="matrix(0.7174 0 0 0.8000 142.41 863.00)" font-family="&quot;Liberation Sans&quot;, Arial, sans-serif" font-size="100" fill="#242424" stroke="#242424" stroke-width="1.32" stroke-linejoin="round">2</text>
<text transform="matrix(0.5581 0 0 0.7971 149.53 1025.00)" font-family="&quot;Liberation Sans&quot;, Arial, sans-serif" font-size="100" fill="#242424" stroke="#242424" stroke-width="1.50" stroke-linejoin="round">1</text>
<text transform="matrix(0.6667 0 0 0.7857 144.33 1196.00)" font-family="&quot;Liberation Sans&quot;, Arial, sans-serif" font-size="100" fill="#242424" stroke="#242424" stroke-width="1.38" stroke-linejoin="round">0</text>
<text transform="matrix(0.7647 0 0 0.8116 138.47 1508.00)" font-family="&quot;Liberation Sans&quot;, Arial, sans-serif" font-size="100" fill="#242424" stroke="#242424" stroke-width="1.27" stroke-linejoin="round">4</text>
<text transform="matrix(0.7174 0 0 0.8143 142.41 1673.00)" font-family="&quot;Liberation Sans&quot;, Arial, sans-serif" font-size="100" fill="#242424" stroke="#242424" stroke-width="1.31" stroke-linejoin="round">2</text>
<text transform="matrix(0.6667 0 0 0.8000 144.33 1843.00)" font-family="&quot;Liberation Sans&quot;, Arial, sans-serif" font-size="100" fill="#242424" stroke="#242424" stroke-width="1.37" stroke-linejoin="round">0</text>
<text transform="matrix(0.7378 0 0 0.7945 1967.26 670.00)" font-family="&quot;Liberation Sans&quot;, Arial, sans-serif" font-size="100" fill="#242424" stroke="#242424" stroke-width="1.31" stroke-linejoin="round">f [Hz]</text>
<text transform="matrix(0.7689 0 0 0.7945 1960.23 1316.00)" font-family="&quot;Liberation Sans&quot;, Arial, sans-serif" font-size="100" fill="#242424" stroke="#242424" stroke-width="1.28" stroke-linejoin="round">f [Hz]</text>
<text transform="matrix(0.7644 0 0 0.7945 1976.24 1977.00)" font-family="&quot;Liberation Sans&quot;, Arial, sans-serif" font-size="100" fill="#242424" stroke="#242424" stroke-width="1.28" stroke-linejoin="round">f [Hz]</text>
<text transform="matrix(0 -0.7248 0.8404 0 99.35 528.72)" font-family="&quot;Liberation Sans&quot;, Arial, sans-serif" font-size="100" fill="#242424" stroke="#242424" stroke-width="1.28" stroke-linejoin="round">Voltage [V]</text>
<text transform="matrix(0 -0.7353 0.8404 0 99.35 1180.74)" font-family="&quot;Liberation Sans&quot;, Arial, sans-serif" font-size="100" fill="#242424" stroke="#242424" stroke-width="1.27" stroke-linejoin="round">Voltage [V]</text>
<text transform="matrix(0 -0.7332 0.8404 0 99.35 1824.73)" font-family="&quot;Liberation Sans&quot;, Arial, sans-serif" font-size="100" fill="#242424" stroke="#242424" stroke-width="1.27" stroke-linejoin="round">Voltage [V]</text>
</svg>
</body></html>
